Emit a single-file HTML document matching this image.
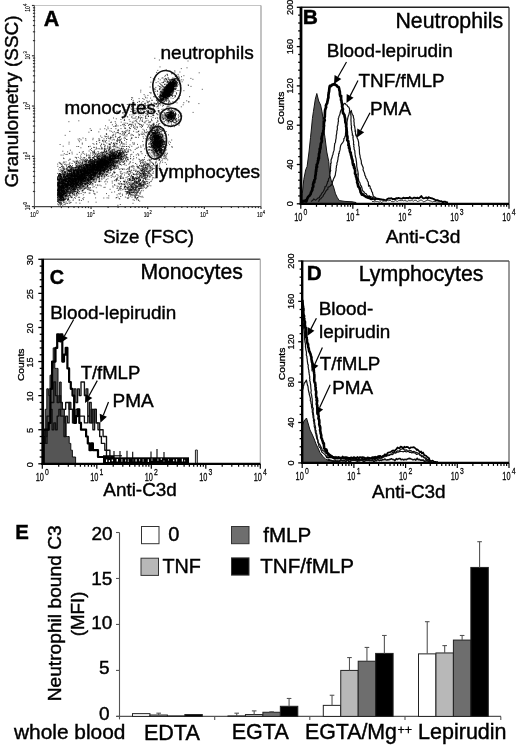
<!DOCTYPE html>
<html><head><meta charset="utf-8"><style>
html,body{margin:0;padding:0;background:#fff;}
svg{display:block;will-change:transform;}
text{font-family:"Liberation Sans", sans-serif;fill:#000;}
</style></head><body>
<svg width="520" height="752" viewBox="0 0 520 752">
<rect width="520" height="752" fill="#fff"/>
<path d="M120.9 156.4h1M73.1 184.2h1M77.9 180.1h1M113.1 159.3h1M85.5 164.9h1M77.0 177.8h1M77.5 183.0h1M70.3 173.6h1M88.5 174.5h1M93.4 173.4h1M100.8 178.8h1M100.1 165.4h1M69.9 179.9h1M62.9 176.4h1M97.0 161.3h1M94.2 173.0h1M88.9 171.6h1M101.4 166.7h1M88.4 162.4h1M86.1 160.9h1M67.8 170.2h1M61.4 199.4h1M72.5 188.7h1M102.4 157.5h1M69.9 182.5h1M82.3 176.2h1M114.1 155.3h1M69.2 189.3h1M76.6 183.2h1M94.3 174.2h1M117.2 158.1h1M101.8 165.5h1M63.3 189.2h1M94.0 168.1h1M96.1 178.0h1M81.9 176.9h1M99.7 169.0h1M59.1 186.9h1M81.4 171.3h1M78.4 177.0h1M65.0 182.0h1M80.5 171.0h1M99.8 170.5h1M103.6 175.0h1M102.0 166.3h1M104.0 163.2h1M63.8 179.7h1M83.2 165.5h1M74.3 183.9h1M85.9 177.1h1M59.6 181.2h1M71.0 181.9h1M102.0 160.3h1M81.0 185.8h1M103.4 164.7h1M66.1 187.3h1M100.5 175.4h1M58.7 171.0h1M70.4 184.7h1M95.8 169.6h1M67.4 181.1h1M119.3 155.7h1M104.5 170.3h1M94.9 164.9h1M80.7 172.0h1M89.5 182.6h1M75.6 186.3h1M59.6 191.4h1M91.2 175.6h1M95.1 169.1h1M77.7 175.9h1M109.4 160.3h1M58.1 190.9h1M80.9 173.1h1M63.6 184.2h1M103.5 165.6h1M85.9 172.7h1M94.8 172.7h1M119.0 157.1h1M82.8 181.6h1M98.3 167.6h1M104.4 162.8h1M82.6 179.2h1M95.0 173.9h1M120.4 153.3h1M63.5 179.1h1M60.1 198.2h1M113.0 156.7h1M66.3 186.9h1M84.4 171.4h1M57.0 190.8h1M103.9 171.5h1M96.6 177.9h1M105.1 156.7h1M67.4 173.1h1M59.5 163.2h1M83.2 178.9h1M73.0 192.0h1M81.0 177.9h1M123.4 152.3h1M98.7 171.4h1M77.3 171.9h1M76.8 183.0h1M90.9 179.3h1M95.6 175.7h1M94.7 173.0h1M108.0 159.2h1M96.6 166.0h1M83.8 168.9h1M90.0 183.2h1M64.2 194.9h1M86.2 173.0h1M92.7 169.5h1M74.1 181.5h1M102.8 161.0h1M108.3 164.2h1M102.0 167.7h1M80.5 179.3h1M84.2 174.8h1M62.4 167.9h1M58.3 186.8h1M66.5 173.8h1M58.1 175.5h1M104.1 176.2h1M88.7 169.0h1M97.9 166.0h1M76.6 176.4h1M86.8 167.8h1M104.4 172.4h1M97.1 157.5h1M70.0 185.5h1M57.8 183.8h1M88.4 180.2h1M112.3 163.5h1M114.4 158.6h1M105.0 155.8h1M65.9 190.1h1M95.5 174.1h1M60.7 192.1h1M58.7 193.0h1M71.2 175.8h1M73.9 181.5h1M69.9 184.6h1M95.7 166.8h1M97.4 166.0h1M64.5 178.3h1M101.7 158.7h1M60.2 195.5h1M77.2 176.9h1M92.9 166.6h1M101.7 162.2h1M100.4 168.0h1M68.0 180.5h1M95.1 164.4h1M58.9 189.9h1M113.5 159.3h1M76.7 171.1h1M81.8 184.3h1M62.4 183.7h1M103.3 170.6h1M114.1 161.1h1M77.7 177.2h1M63.7 183.3h1M114.0 166.3h1M118.0 153.5h1M68.3 179.9h1M94.8 163.9h1M101.1 164.4h1M97.2 162.1h1M62.5 186.7h1M98.1 160.0h1M80.3 179.8h1M108.2 163.2h1M67.5 184.7h1M105.2 169.9h1M76.7 192.7h1M95.7 167.4h1M80.5 171.1h1M75.3 183.5h1M87.7 171.1h1M62.9 186.7h1M84.5 178.3h1M60.5 176.5h1M104.7 167.1h1M79.6 169.8h1M78.7 169.0h1M93.3 167.1h1M75.1 189.6h1M71.2 176.6h1M80.3 179.4h1M85.9 167.5h1M63.0 190.3h1M97.9 168.7h1M80.1 184.3h1M61.3 187.8h1M64.6 184.7h1M58.9 173.5h1M65.6 186.5h1M63.5 191.3h1M75.2 180.4h1M77.8 178.8h1M70.4 185.7h1M88.9 177.1h1M79.9 170.6h1M106.5 161.9h1M63.5 188.5h1M108.4 162.6h1M109.5 156.1h1M76.6 165.2h1M60.8 189.1h1M94.5 173.0h1M113.4 166.8h1M70.2 184.7h1M71.9 174.6h1M95.1 171.0h1M109.1 160.3h1M62.1 180.8h1M64.1 174.3h1M109.5 152.1h1M100.3 161.9h1M106.5 160.2h1M111.6 159.9h1M83.8 174.5h1M102.1 165.9h1M74.3 193.5h1M109.9 160.2h1M90.9 179.1h1M80.4 171.1h1M83.6 169.9h1M90.1 160.5h1M87.6 183.1h1M95.4 169.6h1M84.7 178.6h1M118.6 163.8h1M84.4 177.0h1M70.2 193.9h1M105.5 151.3h1M69.8 191.4h1M107.4 163.3h1M113.9 155.8h1M67.4 191.3h1M61.8 186.3h1M61.3 180.9h1M61.9 171.6h1M101.0 175.4h1M80.7 159.7h1M109.7 161.0h1M73.7 191.4h1M72.8 184.9h1M57.9 183.1h1M88.7 170.1h1M78.5 178.8h1M77.5 177.2h1M104.6 156.7h1M84.3 164.9h1M62.9 194.5h1M69.2 173.0h1M80.6 168.6h1M78.5 193.9h1M61.4 179.7h1M89.1 165.6h1M66.4 189.4h1M65.5 178.4h1M89.8 170.2h1M61.3 169.1h1M102.3 161.1h1M74.4 179.4h1M93.4 169.4h1M79.8 186.6h1M93.7 172.0h1M94.0 152.9h1M89.9 161.3h1M81.3 169.7h1M111.8 157.9h1M118.5 156.0h1M69.9 186.2h1M59.5 174.1h1M74.1 185.0h1M67.0 175.7h1M85.8 158.8h1M88.7 165.7h1M74.4 170.7h1M95.8 161.1h1M63.1 193.1h1M68.8 174.0h1M89.5 172.9h1M110.6 160.9h1M105.6 160.7h1M121.1 165.1h1M101.5 157.6h1M113.7 171.2h1M74.1 172.5h1M66.2 181.3h1M67.9 184.7h1M100.8 171.3h1M80.8 180.4h1M65.1 181.3h1M91.4 167.9h1M65.4 193.0h1M100.4 174.1h1M73.8 175.6h1M115.6 163.1h1M107.2 164.6h1M102.3 165.7h1M83.5 167.2h1M81.7 167.1h1M106.1 164.5h1M110.3 147.3h1M77.9 173.9h1M104.5 165.4h1M65.0 171.8h1M99.0 175.6h1M114.2 166.2h1M107.6 161.0h1M87.6 168.7h1M83.4 171.2h1M108.3 163.6h1M97.1 177.1h1M61.4 186.7h1M96.1 168.3h1M95.8 168.6h1M89.5 175.1h1M99.7 163.0h1M92.6 163.8h1M62.5 190.6h1M93.7 158.4h1M69.6 178.0h1M68.0 179.7h1M68.9 181.1h1M84.0 164.4h1M92.9 163.8h1M113.3 157.9h1M90.4 174.5h1M99.8 165.1h1M103.8 162.5h1M99.7 161.2h1M84.5 173.9h1M88.8 155.3h1M85.5 177.5h1M111.0 164.6h1M82.6 174.7h1M86.4 166.8h1M112.6 165.6h1M89.9 166.9h1M83.3 183.6h1M81.9 173.4h1M110.5 156.4h1M86.9 171.2h1M82.8 173.6h1M118.4 158.1h1M96.5 166.0h1M94.4 165.9h1M103.2 163.8h1M98.3 168.8h1M85.5 173.3h1M70.0 185.6h1M77.9 181.4h1M77.1 179.8h1M88.1 176.5h1M80.6 176.0h1M90.4 177.8h1M83.1 177.3h1M99.2 170.8h1M119.2 154.6h1M78.5 167.7h1M73.1 176.8h1M91.0 170.7h1M105.6 164.6h1M60.2 186.5h1M81.9 185.3h1M87.7 164.3h1M64.0 171.8h1M85.0 172.4h1M113.8 155.2h1M89.5 171.4h1M112.1 162.4h1M95.2 185.0h1M78.5 168.4h1M92.1 163.6h1M69.4 181.4h1M73.8 169.5h1M109.4 157.0h1M63.3 195.2h1M114.2 157.8h1M87.3 172.2h1M63.1 193.9h1M67.9 170.6h1M102.0 165.2h1M82.2 174.8h1M74.5 181.0h1M87.1 166.4h1M92.0 167.3h1M100.6 164.8h1M72.0 185.8h1M73.9 174.5h1M79.0 181.0h1M67.4 168.0h1M61.3 189.5h1M87.7 177.0h1M109.2 156.4h1M105.9 161.0h1M69.2 182.0h1M65.8 185.9h1M81.7 183.4h1M90.9 171.6h1M102.2 163.3h1M99.6 164.8h1M110.0 161.7h1M82.1 180.3h1M74.4 181.0h1M85.4 170.0h1M89.7 169.1h1M62.8 179.4h1M84.8 168.3h1M100.4 162.8h1M63.1 180.9h1M67.4 188.7h1M64.0 176.0h1M75.8 179.0h1M70.7 186.9h1M67.9 184.9h1M92.6 177.2h1M57.9 192.3h1M85.7 167.0h1M66.9 183.4h1M72.8 175.7h1M66.8 179.5h1M97.5 161.4h1M83.7 172.3h1M85.6 173.9h1M114.7 158.8h1M74.2 197.5h1M119.6 154.6h1M103.7 164.1h1M58.3 187.0h1M102.6 162.9h1M110.5 158.7h1M70.7 181.6h1M62.7 183.9h1M79.9 181.2h1M58.8 190.9h1M97.5 162.2h1M103.4 163.9h1M97.1 168.9h1M98.5 164.9h1M78.8 175.4h1M92.0 169.3h1M58.4 192.6h1M107.9 162.3h1M104.3 160.7h1M85.5 173.1h1M112.3 165.0h1M76.9 171.7h1M62.7 190.4h1M63.9 183.0h1M79.4 203.2h1M78.8 181.1h1M87.6 172.5h1M74.9 178.2h1M117.6 150.0h1M103.3 161.3h1M89.5 183.8h1M111.6 158.2h1M72.8 180.0h1M65.5 184.3h1M102.8 159.3h1M70.7 181.9h1M75.9 181.9h1M70.3 171.3h1M63.7 183.2h1M109.1 148.5h1M58.4 175.2h1M94.5 173.4h1M61.5 195.6h1M99.3 176.5h1M57.1 178.7h1M74.7 178.5h1M109.9 158.8h1M101.5 170.6h1M78.6 179.1h1M100.8 165.6h1M89.5 174.8h1M75.0 175.9h1M103.3 169.0h1M81.6 173.3h1M109.9 165.8h1M83.6 175.5h1M57.7 189.9h1M104.5 157.7h1M65.4 173.2h1M70.9 170.6h1M90.3 173.7h1M82.2 162.2h1M79.7 185.6h1M76.3 176.1h1M72.0 183.0h1M71.2 172.6h1M67.7 183.1h1M58.8 185.5h1M91.8 177.1h1M73.2 186.2h1M110.5 164.6h1M73.5 176.6h1M99.4 172.8h1M91.6 169.7h1M60.8 187.3h1M65.4 187.3h1M119.7 156.3h1M86.2 165.1h1M61.9 190.8h1M94.6 159.9h1M92.7 169.1h1M82.0 175.7h1M77.0 184.6h1M113.7 157.7h1M91.2 175.4h1M86.1 168.7h1M76.3 173.6h1M58.3 188.3h1M86.1 179.4h1M62.2 176.2h1M59.2 183.0h1M95.1 165.5h1M96.5 166.1h1M101.0 162.8h1M81.4 182.5h1M98.1 170.6h1M109.7 160.6h1M99.7 170.4h1M115.2 162.2h1M93.6 165.6h1M67.3 177.9h1M98.9 170.0h1M95.8 180.3h1M60.0 169.9h1M98.6 163.1h1M67.2 188.8h1M92.7 165.0h1M86.5 178.2h1M75.2 180.3h1M78.8 169.0h1M93.3 166.6h1M105.6 164.5h1M93.6 164.1h1M64.6 188.8h1M63.3 187.4h1M72.3 178.3h1M68.8 185.0h1M120.5 153.3h1M58.9 189.1h1M76.5 171.7h1M73.1 189.9h1M88.5 170.2h1M123.9 157.7h1M66.8 199.5h1M72.1 191.8h1M90.3 170.7h1M93.4 170.0h1M86.7 172.5h1M66.2 185.9h1M78.5 171.8h1M105.9 153.9h1M64.4 186.9h1M77.7 177.8h1M114.7 165.0h1M61.8 200.1h1M115.9 151.4h1M64.0 178.1h1M90.0 175.6h1M105.6 168.8h1M92.2 170.5h1M67.2 183.5h1M59.5 173.7h1M82.0 190.5h1M72.4 184.3h1M65.5 186.5h1M86.6 167.5h1M83.2 180.1h1M100.9 173.1h1M75.3 178.5h1M57.9 189.1h1M80.8 180.1h1M76.4 184.9h1M86.6 178.1h1M108.1 157.2h1M82.1 169.4h1M76.1 174.7h1M65.8 165.4h1M61.1 176.6h1M86.3 171.7h1M97.3 163.5h1M63.1 179.1h1M108.5 165.5h1M90.4 172.8h1M67.1 189.2h1M105.2 162.1h1M63.1 182.2h1M59.8 180.5h1M62.5 187.4h1M74.2 167.6h1M122.7 156.0h1M101.3 169.5h1M59.7 186.6h1M93.7 162.7h1M89.7 174.5h1M94.3 164.6h1M108.3 160.7h1M102.2 159.6h1M71.8 193.8h1M88.7 180.9h1M110.3 156.3h1M71.0 173.1h1M87.8 171.8h1M83.7 178.3h1M87.7 180.0h1M82.1 174.8h1M107.5 155.8h1M89.9 172.7h1M88.2 173.5h1M78.9 166.8h1M85.8 171.6h1M64.3 182.4h1M110.2 161.3h1M98.4 172.3h1M105.9 167.7h1M111.6 155.5h1M70.0 177.5h1M74.0 184.2h1M74.3 177.1h1M76.1 176.0h1M114.5 168.3h1M75.5 162.4h1M76.7 173.7h1M99.4 161.6h1M68.4 182.0h1M68.0 195.3h1M109.6 159.8h1M75.7 176.6h1M101.5 165.7h1M85.3 175.8h1M102.7 178.1h1M71.5 176.1h1M79.7 175.1h1M99.1 165.7h1M93.1 157.9h1M68.0 187.0h1M106.2 162.1h1M124.9 151.3h1M70.2 182.6h1M70.9 175.0h1M72.7 187.8h1M74.2 175.4h1M95.6 159.9h1M60.6 192.7h1M92.5 168.8h1M99.0 166.9h1M102.7 156.2h1M75.7 169.6h1M76.1 171.7h1M57.1 187.3h1M98.1 174.4h1M65.3 195.7h1M70.1 182.4h1M78.9 176.2h1M66.1 198.0h1M57.4 188.7h1M89.1 177.5h1M68.5 178.9h1M106.2 161.8h1M70.8 176.3h1M102.0 166.5h1M59.2 181.1h1M77.8 176.7h1M58.4 190.9h1M77.0 192.5h1M64.4 185.1h1M102.4 167.8h1M61.2 183.6h1M68.9 188.4h1M121.5 156.5h1M80.7 179.1h1M78.0 174.5h1M60.6 184.9h1M103.6 162.6h1M92.4 164.1h1M100.3 166.5h1M59.0 179.5h1M71.3 174.5h1M94.2 161.1h1M116.4 161.9h1M100.3 162.5h1M90.6 165.6h1M58.7 193.8h1M58.5 184.4h1M65.4 186.4h1M104.9 162.1h1M88.7 173.8h1M68.4 183.7h1M76.9 188.0h1M86.8 178.9h1M73.6 170.0h1M93.8 174.1h1M87.4 173.0h1M73.2 188.9h1M108.7 165.9h1M93.8 174.6h1M123.5 161.5h1M81.0 182.9h1M73.7 175.6h1M88.5 164.3h1M64.6 190.7h1M96.3 165.7h1M57.8 185.2h1M90.4 166.7h1M94.8 176.2h1M87.4 174.3h1M63.4 183.4h1M68.7 188.7h1M83.5 171.8h1M117.7 161.5h1M104.8 173.9h1M96.5 166.8h1M69.8 180.5h1M116.5 162.0h1M65.4 175.1h1M86.7 166.6h1M90.4 161.6h1M59.1 187.3h1M86.9 174.4h1M102.9 164.0h1M59.0 187.1h1M75.9 184.6h1M59.8 195.3h1M97.1 174.2h1M82.3 174.1h1M91.6 170.2h1M80.5 185.7h1M68.8 185.1h1M94.0 176.5h1M87.6 169.4h1M75.9 178.1h1M74.1 175.1h1M79.2 176.5h1M99.7 168.1h1M121.5 152.4h1M65.1 199.1h1M90.9 162.1h1M84.8 179.1h1M77.5 170.6h1M61.0 188.6h1M71.6 175.5h1M100.4 165.8h1M62.3 186.1h1M101.9 160.5h1M122.8 148.5h1M112.2 155.9h1M68.0 182.7h1M72.1 186.1h1M103.7 172.2h1M88.8 161.8h1M70.9 184.3h1M91.6 167.4h1M76.1 178.3h1M65.1 186.5h1M66.7 189.1h1M66.5 186.3h1M78.5 187.6h1M65.6 185.9h1M68.7 182.2h1M99.9 171.9h1M82.8 167.8h1M83.8 168.5h1M74.1 189.5h1M102.8 163.1h1M71.1 169.1h1M86.0 178.0h1M91.6 177.2h1M70.7 175.8h1M73.9 170.9h1M83.5 174.0h1M92.5 171.6h1M102.6 161.2h1M59.0 180.5h1M66.5 187.1h1M58.8 191.5h1M72.5 169.7h1M65.7 181.4h1M68.6 177.8h1M61.9 187.3h1M90.5 173.6h1M102.1 174.4h1M79.0 179.0h1M65.7 190.5h1M110.5 153.0h1M94.2 164.8h1M68.1 190.1h1M90.9 162.2h1M103.6 170.7h1M87.4 175.5h1M117.9 156.6h1M83.0 173.8h1M89.3 164.6h1M59.9 178.8h1M94.7 165.5h1M109.8 158.4h1M77.0 186.0h1M105.2 157.8h1M84.1 170.1h1M80.7 165.1h1M68.2 183.5h1M101.4 164.8h1M95.0 174.4h1M93.6 180.2h1M90.0 174.0h1M73.3 174.0h1M78.5 178.4h1M106.0 163.7h1M84.5 173.4h1M99.6 167.5h1M90.8 169.9h1M57.6 185.7h1M88.9 157.1h1M70.2 185.6h1M87.2 185.7h1M76.1 175.8h1M97.3 163.6h1M116.4 161.0h1M75.3 170.1h1M96.4 167.6h1M80.5 172.3h1M63.3 184.4h1M100.5 160.9h1M74.7 175.1h1M112.7 161.8h1M73.5 173.7h1M118.9 153.1h1M58.8 182.1h1M65.1 187.7h1M108.7 159.2h1M85.5 168.1h1M66.6 185.6h1M87.5 160.7h1M71.3 168.2h1M95.5 169.5h1M65.0 198.1h1M96.9 164.5h1M89.2 173.3h1M108.2 154.8h1M62.4 186.3h1M97.6 167.8h1M113.2 161.2h1M110.8 169.2h1M66.5 176.6h1M78.5 187.1h1M75.6 171.4h1M99.6 170.0h1M103.4 170.7h1M126.2 160.5h1M64.2 172.9h1M83.4 179.6h1M93.2 165.2h1M89.6 164.9h1M109.0 158.0h1M100.6 160.6h1M78.1 182.2h1M61.9 187.1h1M90.2 174.8h1M120.4 158.4h1M97.5 164.8h1M61.0 191.5h1M89.9 178.2h1M87.7 183.7h1M97.6 167.7h1M97.0 165.7h1M77.0 171.7h1M83.6 171.8h1M99.5 165.9h1M106.8 163.2h1M85.9 165.1h1M113.4 156.7h1M89.7 169.9h1M73.8 175.5h1M62.4 181.1h1M115.9 158.7h1M73.9 173.0h1M117.3 158.4h1M96.9 161.5h1M92.4 170.8h1M57.9 179.6h1M114.3 163.4h1M62.1 191.3h1M80.6 184.7h1M61.7 179.7h1M86.6 165.0h1M60.0 177.1h1M90.6 169.2h1M75.9 185.6h1M86.4 177.1h1M102.9 167.5h1M119.4 150.3h1M69.9 189.3h1M91.4 174.4h1M89.4 168.0h1M90.2 166.2h1M83.6 173.5h1M78.4 187.7h1M95.8 169.0h1M78.0 176.8h1M125.0 158.8h1M65.9 195.3h1M71.1 183.6h1M63.0 189.8h1M109.2 166.8h1M74.3 174.4h1M74.7 181.7h1M80.6 169.8h1M60.9 190.1h1M108.3 166.7h1M110.7 169.0h1M83.0 179.5h1M65.7 192.3h1M107.4 160.8h1M60.4 175.6h1M81.2 171.6h1M96.5 169.7h1M91.5 166.8h1M80.9 188.6h1M123.3 158.3h1M80.9 174.5h1M83.4 185.7h1M66.2 188.3h1M73.3 191.4h1M100.2 169.8h1M103.3 162.7h1M108.3 161.3h1M61.8 194.8h1M67.6 197.2h1M91.6 170.8h1M59.6 189.4h1M89.5 166.1h1M102.3 163.4h1M60.0 190.7h1M68.6 173.7h1M62.6 182.3h1M91.1 164.1h1M59.3 188.8h1M70.1 187.9h1M85.6 175.4h1M94.1 167.2h1M106.5 157.4h1M75.9 168.0h1M60.5 186.7h1M109.5 168.2h1M67.6 182.4h1M87.3 169.7h1M90.3 164.4h1M102.0 170.3h1M106.4 165.8h1M79.7 167.2h1M104.4 157.2h1M92.2 177.8h1M82.8 169.4h1M81.4 175.2h1M88.4 165.8h1M76.3 180.4h1M70.4 176.0h1M64.0 180.4h1M84.2 167.3h1M81.6 188.1h1M86.9 189.4h1M100.5 166.6h1M82.9 179.1h1M96.6 170.7h1M87.2 172.5h1M102.0 164.1h1M64.0 182.2h1M105.0 167.1h1M98.5 160.1h1M76.4 172.7h1M76.2 183.1h1M88.6 163.6h1M107.9 169.7h1M68.8 180.3h1M60.1 188.3h1M82.0 184.0h1M61.0 186.0h1M103.4 164.6h1M95.5 164.8h1M101.0 167.9h1M89.2 175.6h1M68.8 176.1h1M109.0 164.1h1M91.1 176.2h1M82.7 177.9h1M59.1 181.8h1M96.6 172.8h1M103.2 171.2h1M118.6 153.7h1M72.0 175.7h1M82.6 175.0h1M82.0 183.8h1M93.4 176.2h1M95.2 172.2h1M104.1 160.3h1M103.0 168.1h1M104.2 163.4h1M80.2 169.7h1M75.3 167.2h1M101.4 170.4h1M84.3 164.2h1M98.8 173.3h1M63.6 202.7h1M91.3 170.5h1M68.6 176.5h1M81.4 171.5h1M58.2 182.7h1M103.5 165.8h1M83.4 180.9h1M60.3 181.1h1M99.3 164.3h1M62.3 180.9h1M67.4 191.5h1M83.9 180.5h1M88.9 166.6h1M62.6 183.2h1M78.6 178.1h1M70.0 169.5h1M105.7 160.0h1M81.7 176.3h1M109.7 154.0h1M65.9 185.4h1M97.2 167.4h1M85.0 170.2h1M78.8 183.9h1M61.9 179.0h1M77.4 180.5h1M98.9 164.9h1M120.2 159.6h1M100.1 161.5h1M72.8 184.3h1M83.5 178.4h1M102.8 170.3h1M125.0 159.1h1M72.7 170.0h1M83.5 174.0h1M107.6 166.5h1M90.7 178.9h1M71.1 178.9h1M103.4 165.1h1M106.7 168.9h1M89.2 172.6h1M68.3 181.6h1M80.0 166.0h1M66.7 178.3h1M64.7 192.0h1M85.0 164.9h1M72.9 182.1h1M114.8 158.8h1M116.0 157.2h1M103.7 167.9h1M66.4 178.2h1M117.3 162.7h1M104.7 161.0h1M79.5 183.4h1M102.6 161.3h1M93.2 170.8h1M78.7 174.8h1M83.3 185.6h1M63.2 177.6h1M89.2 167.7h1M85.7 182.7h1M87.7 177.2h1M104.4 163.1h1M103.9 162.3h1M67.1 174.1h1M91.2 168.7h1M62.9 188.1h1M86.7 180.4h1M64.2 191.8h1M112.9 165.8h1M92.9 171.7h1M111.6 156.3h1M86.2 170.9h1M84.8 183.7h1M92.0 170.6h1M73.3 189.9h1M73.0 169.4h1M75.8 175.2h1M77.2 172.5h1M72.4 182.2h1M62.7 179.7h1M114.6 152.1h1M101.8 164.3h1M80.2 162.0h1M67.6 178.7h1M64.1 188.0h1M59.0 178.8h1M80.2 175.8h1M82.3 169.5h1M93.1 167.3h1M107.8 162.7h1M67.1 186.6h1M96.2 170.1h1M64.3 179.1h1M62.8 197.4h1M124.1 154.3h1M77.8 173.2h1M72.8 189.8h1M61.2 183.3h1M93.4 181.1h1M58.7 194.4h1M106.7 161.6h1M72.3 177.1h1M110.1 156.4h1M88.6 167.1h1M93.3 167.7h1M91.6 178.4h1M104.5 164.3h1M112.8 158.6h1M61.4 189.5h1M90.2 169.1h1M68.4 173.7h1M57.8 176.9h1M73.5 190.1h1M72.3 178.5h1M127.5 157.9h1M113.0 168.2h1M106.4 163.8h1M80.1 181.5h1M82.5 172.8h1M86.7 172.0h1M76.6 178.8h1M85.7 173.4h1M65.4 195.9h1M74.9 178.5h1M92.1 175.4h1M104.4 164.1h1M103.3 167.4h1M111.5 168.9h1M57.8 176.4h1M71.8 189.4h1M75.8 174.5h1M76.1 179.9h1M109.2 159.2h1M103.6 161.4h1M69.1 163.9h1M103.2 176.0h1M82.8 180.7h1M80.2 174.8h1M96.9 157.4h1M81.7 180.0h1M73.7 191.4h1M59.7 174.3h1M99.2 163.4h1M127.4 152.3h1M59.9 186.6h1M84.7 181.3h1M100.9 160.1h1M57.8 183.2h1M77.6 161.7h1M103.9 169.9h1M106.4 165.7h1M86.7 170.1h1M63.3 172.1h1M91.2 175.8h1M90.4 162.5h1M66.5 169.7h1M66.0 176.8h1M66.3 175.6h1M88.1 179.1h1M80.4 181.0h1M81.6 176.0h1M62.4 185.3h1M111.1 153.5h1M94.8 170.8h1M84.4 168.0h1M72.9 176.4h1M95.2 170.2h1M68.5 176.0h1M112.1 152.7h1M81.3 182.6h1M73.0 171.1h1M100.1 159.3h1M111.5 156.1h1M90.2 170.0h1M80.1 156.0h1M72.7 176.6h1M93.5 177.8h1M82.7 182.9h1M112.5 163.4h1M115.2 157.2h1M65.9 185.4h1M65.2 179.9h1M78.3 166.1h1M89.6 173.4h1M110.3 165.7h1M104.8 164.7h1M74.5 178.9h1M84.5 179.7h1M78.3 185.1h1M59.4 183.8h1M72.8 167.6h1M79.9 179.7h1M109.5 165.2h1M72.4 182.0h1M118.4 159.2h1M94.4 153.4h1M101.5 179.2h1M73.5 185.4h1M118.2 155.1h1M89.3 164.2h1M61.7 173.9h1M80.9 200.5h1M81.6 173.2h1M81.0 180.5h1M57.2 183.0h1M83.6 172.2h1M89.3 175.5h1M73.1 173.2h1M82.7 174.3h1M78.5 175.6h1M83.7 177.5h1M101.9 169.4h1M90.6 169.5h1M73.7 190.1h1M91.0 167.5h1M87.3 169.9h1M107.0 162.4h1M109.1 159.5h1M109.0 164.9h1M57.3 166.3h1M101.9 155.3h1M66.9 167.4h1M77.9 187.5h1M66.4 189.9h1M81.9 170.6h1M57.8 191.2h1M98.7 156.6h1M108.7 159.5h1M114.3 165.4h1M66.5 188.5h1M106.5 174.1h1M72.6 188.8h1M74.8 179.8h1M89.4 173.3h1M68.3 184.4h1M96.1 172.4h1M83.8 183.4h1M102.7 164.6h1M94.5 170.9h1M104.6 162.7h1M73.8 181.7h1M104.6 159.0h1M109.6 165.8h1M62.4 191.4h1M97.7 168.8h1M74.8 179.0h1M84.8 169.5h1M90.2 165.1h1M89.8 164.3h1M70.6 175.5h1M77.0 184.6h1M82.6 177.8h1M83.0 165.5h1M91.4 178.9h1M74.9 191.6h1M58.9 194.7h1M82.6 190.0h1M92.4 165.7h1M82.3 178.2h1M75.6 195.6h1M86.6 175.8h1M83.4 177.5h1M68.4 185.5h1M101.6 161.3h1M104.0 163.4h1M70.5 178.4h1M89.9 165.1h1M85.4 179.0h1M91.3 179.2h1M116.7 158.3h1M71.4 173.3h1M78.4 182.8h1M70.9 179.5h1M57.7 186.4h1M82.5 168.3h1M102.9 165.8h1M67.0 185.2h1M72.0 187.0h1M104.2 158.8h1M66.9 183.5h1M65.4 173.8h1M74.4 181.4h1M62.0 186.4h1M96.8 165.6h1M93.7 175.0h1M86.7 165.2h1M92.9 179.7h1M92.3 172.7h1M92.1 173.9h1M88.9 173.8h1M82.7 170.7h1M65.1 180.4h1M79.5 183.8h1M74.4 179.7h1M74.2 182.2h1M111.3 158.3h1M66.3 190.8h1M72.2 185.9h1M90.2 163.5h1M83.6 188.6h1M75.9 186.7h1M84.7 179.9h1M92.5 172.2h1M86.3 173.1h1M90.3 176.8h1M92.4 187.2h1M72.3 180.3h1M70.0 181.9h1M103.4 164.7h1M100.3 171.5h1M71.8 172.4h1M83.8 171.9h1M97.7 165.5h1M65.1 192.6h1M66.4 192.9h1M84.4 175.8h1M75.4 187.1h1M58.0 189.5h1M88.3 173.0h1M75.6 171.3h1M71.4 184.7h1M88.6 165.4h1M60.9 187.2h1M104.8 162.7h1M83.1 177.6h1M115.1 155.3h1M111.5 156.3h1M82.3 183.8h1M99.5 164.7h1M83.5 181.6h1M77.9 171.7h1M60.7 185.1h1M102.6 162.7h1M69.0 175.3h1M98.0 171.1h1M73.6 170.5h1M80.6 177.8h1M62.8 169.7h1M60.6 192.5h1M80.1 176.7h1M74.4 187.8h1M93.6 182.0h1M76.6 178.4h1M57.9 178.1h1M121.6 152.3h1M65.7 184.6h1M98.2 167.0h1M97.3 171.9h1M106.5 165.0h1M80.2 183.2h1M81.1 171.3h1M73.0 181.2h1M73.3 172.7h1M67.3 181.9h1M73.6 161.4h1M105.2 162.5h1M90.8 171.0h1M74.1 176.3h1M79.3 174.0h1M75.0 167.4h1M95.5 164.4h1M74.9 174.9h1M114.2 159.3h1M64.8 188.0h1M112.7 156.9h1M106.4 161.6h1M76.3 180.9h1M90.7 165.3h1M73.7 187.2h1M67.8 199.0h1M87.9 174.6h1M73.7 181.3h1M79.7 184.7h1M122.3 159.5h1M75.4 169.6h1M89.5 173.4h1M79.0 172.0h1M87.9 169.4h1M83.7 176.2h1M110.6 162.8h1M100.9 163.7h1M76.7 172.3h1M93.2 168.2h1M96.6 161.7h1M98.3 177.0h1M58.1 175.9h1M59.8 191.9h1M93.9 169.6h1M64.2 184.8h1M83.7 167.7h1M105.8 160.1h1M93.3 167.3h1M114.3 157.0h1M105.6 163.3h1M73.3 176.7h1M112.9 161.0h1M82.8 179.7h1M83.4 171.0h1M81.3 180.6h1M70.2 177.5h1M80.4 179.3h1M66.5 192.1h1M85.2 171.5h1M91.9 159.4h1M77.9 182.8h1M83.9 180.8h1M86.3 166.0h1M98.0 165.9h1M86.9 175.5h1M89.7 157.3h1M76.7 183.5h1M94.5 172.9h1M106.7 166.4h1M66.1 195.3h1M88.6 165.3h1M75.6 185.3h1M114.8 169.0h1M92.4 167.4h1M103.1 167.8h1M97.0 163.1h1M78.2 165.1h1M97.2 168.8h1M95.7 168.8h1M119.4 152.2h1M115.5 158.5h1M110.4 164.7h1M63.1 193.1h1M111.7 161.4h1M85.4 165.5h1M108.9 159.3h1M69.9 165.6h1M86.1 166.2h1M58.0 189.0h1M77.6 181.1h1M90.3 170.4h1M74.5 178.9h1M66.8 168.9h1M73.2 170.7h1M92.3 162.8h1M101.1 161.7h1M71.3 176.3h1M106.0 174.3h1M85.7 179.6h1M109.2 155.6h1M88.0 167.7h1M62.4 181.1h1M65.1 179.4h1M109.3 157.9h1M71.2 166.5h1M100.2 172.0h1M92.7 173.4h1M67.5 187.4h1M65.7 184.3h1M75.1 181.8h1M112.3 157.2h1M86.3 160.6h1M81.9 175.8h1M87.3 172.3h1M63.6 174.7h1M85.2 159.5h1M75.0 186.8h1M63.4 176.9h1M81.9 173.5h1M57.2 182.4h1M93.4 179.3h1M102.2 156.4h1M104.5 168.7h1M95.1 154.0h1M89.6 176.7h1M111.9 156.7h1M68.9 165.9h1M93.2 169.2h1M98.2 165.9h1M87.6 162.1h1M78.5 179.1h1M73.6 182.7h1M63.3 174.1h1M71.3 175.1h1M76.9 178.3h1M95.3 164.7h1M109.0 155.6h1M86.4 181.6h1M69.2 177.7h1M67.2 191.1h1M62.3 191.9h1M69.5 176.2h1M85.9 161.4h1M96.3 168.4h1M94.4 172.4h1M107.8 167.4h1M80.4 178.3h1M63.0 188.3h1M67.5 177.8h1M99.3 161.7h1M85.7 180.4h1M94.9 160.4h1M95.3 169.6h1M101.3 167.2h1M99.9 155.8h1M65.4 181.4h1M100.1 168.5h1M85.4 184.3h1M65.7 196.4h1M63.4 181.9h1M88.9 169.2h1M72.5 176.5h1M64.5 185.9h1M58.8 194.2h1M74.6 171.6h1M91.4 168.8h1M68.3 177.8h1M67.6 176.7h1M82.7 171.2h1M115.9 165.9h1M63.6 198.8h1M99.1 174.5h1M76.4 166.7h1M72.8 182.0h1M75.6 196.3h1M79.5 179.1h1M115.4 154.0h1M57.1 193.0h1M111.5 158.1h1M60.8 188.2h1M104.8 165.4h1M77.1 176.3h1M117.4 156.1h1M67.0 175.2h1M85.8 172.6h1M65.5 189.2h1M102.0 164.9h1M60.6 184.8h1M63.4 173.8h1M112.9 164.2h1M88.3 164.5h1M104.5 166.7h1M98.1 164.4h1M71.7 186.3h1M107.9 166.7h1M62.3 182.9h1M65.5 161.9h1M82.0 161.9h1M60.0 178.9h1M59.6 179.5h1M102.9 165.5h1M113.0 168.6h1M83.7 178.5h1M82.8 173.6h1M74.1 189.1h1M92.3 168.3h1M99.1 170.9h1M59.1 190.1h1M117.4 147.8h1M82.8 181.1h1M106.2 171.8h1M74.9 176.3h1M101.9 168.7h1M119.6 157.4h1M61.8 183.5h1M88.8 169.0h1M59.9 194.8h1M110.2 156.9h1M107.0 166.3h1M67.1 190.1h1M97.0 176.5h1M103.7 160.4h1M75.5 169.3h1M94.3 175.2h1M97.6 158.3h1M90.3 168.1h1M59.0 185.4h1M69.3 195.1h1M116.8 156.8h1M106.3 156.0h1M96.8 167.0h1M100.0 173.2h1M89.0 160.5h1M75.2 169.6h1M93.6 175.2h1M89.4 171.9h1M100.7 159.6h1M70.0 179.8h1M57.6 178.8h1M66.2 179.1h1M110.1 167.7h1M110.1 161.8h1M90.1 177.8h1M62.3 185.2h1M87.3 168.7h1M118.2 157.3h1M89.6 165.4h1M101.7 166.7h1M81.3 173.4h1M64.9 181.8h1M99.8 164.1h1M87.7 166.1h1M83.9 183.3h1M69.2 170.9h1M78.6 178.3h1M93.7 161.5h1M76.5 184.4h1M81.5 173.8h1M90.2 171.9h1M108.1 163.6h1M109.2 162.5h1M80.1 177.3h1M83.9 176.4h1M103.6 165.5h1M114.4 155.7h1M93.7 167.1h1M63.2 183.1h1M111.6 155.9h1M63.5 180.6h1M76.5 187.5h1M93.2 160.8h1M113.8 166.6h1M64.1 180.5h1M81.8 179.4h1M109.6 160.4h1M89.7 169.8h1M82.8 178.3h1M67.5 196.1h1M60.9 185.3h1M100.6 165.0h1M79.9 172.5h1M82.4 189.0h1M125.3 157.2h1M69.7 190.1h1M117.5 156.4h1M102.0 154.6h1M107.0 164.3h1M89.5 160.5h1M90.2 166.9h1M84.3 180.3h1M64.8 179.8h1M109.6 157.1h1M68.7 167.0h1M70.5 186.5h1M70.5 184.2h1M95.4 165.1h1M76.3 180.6h1M67.7 171.0h1M59.1 179.9h1M79.1 177.9h1M112.9 163.0h1M86.8 164.9h1M97.6 164.0h1M62.2 194.4h1M74.5 174.8h1M121.2 155.4h1M68.6 185.4h1M109.3 157.9h1M87.7 172.1h1M61.7 172.3h1M88.4 168.1h1M83.5 174.5h1M61.6 190.9h1M122.7 159.2h1M125.7 149.8h1M93.2 171.9h1M70.9 180.0h1M92.5 164.8h1M103.8 159.4h1M89.8 170.5h1M80.5 175.8h1M70.7 175.6h1M84.4 192.8h1M58.4 187.2h1M75.4 183.2h1M113.6 172.5h1M107.8 150.6h1M83.4 172.0h1M98.6 167.3h1M74.5 187.6h1M103.3 163.4h1M104.2 158.1h1M94.6 177.9h1M98.1 170.3h1M103.9 162.0h1M74.1 177.4h1M123.0 152.2h1M102.1 165.2h1M70.9 168.9h1M63.0 186.1h1M91.9 166.1h1M64.5 188.0h1M69.7 183.9h1M86.4 181.5h1M71.1 186.3h1M57.9 180.6h1M76.4 170.8h1M115.8 154.0h1M105.5 164.3h1M60.8 196.4h1M101.2 160.0h1M107.4 157.6h1M110.3 162.6h1M60.0 186.2h1M60.8 185.7h1M110.8 159.1h1M98.6 164.4h1M79.1 188.8h1M58.9 195.1h1M92.8 167.3h1M65.5 193.5h1M84.9 186.1h1M63.3 188.5h1M91.5 171.8h1M60.5 182.4h1M111.8 159.8h1M96.1 168.8h1M75.8 187.6h1M102.4 159.2h1M74.7 167.7h1M116.1 154.7h1M83.5 176.6h1M70.7 167.0h1M58.7 185.6h1M106.6 157.9h1M72.8 172.0h1M86.0 173.6h1M103.7 169.8h1M71.8 181.9h1M61.9 184.2h1M72.9 184.4h1M91.1 170.1h1M76.9 173.3h1M74.6 185.1h1M92.8 171.8h1M99.8 159.9h1M101.8 154.1h1M71.9 175.2h1M61.2 187.4h1M90.8 175.0h1M65.4 179.3h1M118.5 147.9h1M99.3 163.2h1M85.2 173.8h1M62.9 180.4h1M93.3 168.3h1M64.5 176.8h1M113.2 154.2h1M94.1 170.0h1M72.2 169.2h1M102.2 164.2h1M69.5 190.3h1M98.3 163.0h1M58.0 183.5h1M104.1 156.5h1M78.1 172.9h1M108.9 154.4h1M115.1 156.3h1M98.3 163.1h1M114.2 152.6h1M102.7 164.0h1M61.2 193.6h1M76.5 183.1h1M82.3 172.7h1M73.0 179.2h1M64.4 176.1h1M70.0 185.8h1M111.6 162.8h1M75.0 188.0h1M69.1 170.7h1M113.4 165.8h1M88.3 173.6h1M69.5 192.9h1M74.3 178.7h1M63.8 193.8h1M106.1 161.8h1M79.2 169.1h1M107.7 162.7h1M74.7 174.9h1M64.0 183.7h1M57.9 191.4h1M78.4 181.8h1M120.7 157.1h1M111.1 164.1h1M64.1 172.6h1M83.6 181.4h1M84.8 167.9h1M111.3 159.6h1M121.9 151.9h1M72.9 171.4h1M85.4 178.5h1M85.9 166.2h1M86.9 168.6h1M79.1 186.2h1M101.7 155.5h1M68.8 188.6h1M70.7 177.5h1M99.9 169.6h1M89.0 170.8h1M67.8 178.5h1M99.6 169.2h1M118.8 152.2h1M83.1 170.4h1M74.4 180.1h1M109.8 154.7h1M79.3 166.7h1M70.7 169.0h1M74.9 184.9h1M86.7 184.8h1M120.5 159.6h1M80.7 171.1h1M85.9 169.3h1M93.5 162.8h1M70.8 180.4h1M77.2 184.4h1M73.9 178.3h1M73.5 178.9h1M84.2 154.2h1M63.0 186.9h1M109.1 154.6h1M66.6 180.8h1M87.9 173.7h1M101.7 164.9h1M67.1 188.1h1M88.6 181.0h1M90.2 157.2h1M91.0 160.9h1M115.1 165.2h1M65.1 187.3h1M93.0 164.7h1M103.5 162.0h1M66.4 182.9h1M91.8 176.0h1M105.0 160.9h1M112.7 158.5h1M110.7 153.3h1M75.0 189.1h1M97.2 169.3h1M115.8 154.8h1M80.7 166.8h1M118.8 155.3h1M84.8 179.1h1M98.9 179.6h1M73.3 193.7h1M109.2 158.6h1M65.2 180.5h1M103.2 158.6h1M59.0 190.7h1M87.7 167.1h1M76.1 182.0h1M58.1 190.1h1M80.6 178.4h1M89.7 164.9h1M72.5 188.4h1M98.5 165.0h1M80.4 167.8h1M103.2 163.5h1M107.7 162.2h1M73.3 179.9h1M62.6 192.7h1M104.3 169.7h1M104.2 176.0h1M85.1 172.7h1M84.1 182.0h1M83.9 158.1h1M76.7 191.4h1M85.9 172.7h1M95.0 175.8h1M85.0 176.9h1M77.4 181.8h1M99.6 162.3h1M112.8 156.0h1M92.8 153.1h1M100.8 168.2h1M73.0 178.6h1M81.6 173.7h1M71.9 189.5h1M99.6 167.0h1M110.6 151.0h1M98.4 167.2h1M71.7 178.3h1M89.7 177.1h1M69.1 178.2h1M104.2 156.9h1M73.3 178.0h1M110.4 169.5h1M83.4 168.7h1M112.5 165.3h1M107.9 164.5h1M106.0 175.4h1M60.7 189.9h1M116.7 151.9h1M100.1 164.2h1M83.8 168.4h1M112.3 173.9h1M74.3 183.1h1M98.1 153.7h1M107.1 166.0h1M95.2 170.7h1M70.8 173.6h1M68.9 181.4h1M75.6 191.1h1M58.6 183.2h1M70.6 175.6h1M95.0 173.9h1M96.0 164.0h1M116.7 152.0h1M116.7 156.0h1M120.7 158.2h1M88.0 172.8h1M64.0 181.6h1M75.9 188.7h1M103.3 171.5h1M69.4 170.2h1M112.0 153.7h1M66.7 176.3h1M84.9 172.1h1M71.4 181.9h1M99.7 165.2h1M100.9 165.4h1M79.0 179.7h1M63.7 175.0h1M106.0 151.5h1M108.9 162.3h1M98.6 173.5h1M68.5 183.6h1M98.2 164.1h1M77.4 181.4h1M91.4 168.1h1M84.9 165.3h1M94.9 166.0h1M115.3 161.1h1M86.0 175.0h1M112.5 162.2h1M93.8 165.9h1M121.3 156.7h1M94.3 177.3h1M61.6 183.3h1M73.3 176.2h1M105.5 169.3h1M82.8 175.3h1M82.5 167.3h1M83.0 171.8h1M72.9 189.6h1M62.9 188.0h1M64.7 199.3h1M105.2 166.2h1M79.2 178.3h1M90.9 177.0h1M99.1 162.7h1M63.3 193.5h1M82.6 174.2h1M88.0 170.4h1M69.6 184.6h1M57.8 184.2h1M81.8 167.9h1M89.6 165.7h1M123.9 155.2h1M71.8 182.7h1M84.0 174.6h1M75.1 184.0h1M69.3 175.4h1M91.6 167.6h1M93.1 179.4h1M62.5 195.8h1M65.2 182.0h1M100.2 168.5h1M112.2 160.3h1M89.2 169.8h1M101.9 165.2h1M59.6 194.9h1M70.8 176.1h1M76.3 171.7h1M92.9 174.7h1M70.0 178.7h1M70.2 180.1h1M77.1 174.9h1M82.2 163.7h1M87.2 171.8h1M93.7 166.3h1M86.0 164.7h1M75.1 180.5h1M62.8 199.4h1M107.2 159.1h1M93.0 177.6h1M105.4 160.5h1M80.4 179.2h1M81.2 173.9h1M94.4 173.1h1M79.2 177.6h1M60.0 183.8h1M80.6 182.7h1M58.9 175.9h1M96.9 163.9h1M102.7 174.2h1M66.8 185.1h1M84.7 174.3h1M74.7 180.0h1M57.1 190.5h1M87.5 170.2h1M65.9 186.4h1M73.0 178.9h1M67.8 180.3h1M94.3 171.5h1M98.9 169.9h1M80.8 178.2h1M99.8 171.2h1M70.0 196.0h1M96.9 177.6h1M60.5 187.5h1M59.6 178.7h1M67.5 191.7h1M77.3 178.6h1M79.7 181.8h1M105.5 161.0h1M63.4 191.9h1M59.6 178.6h1M103.1 165.0h1M100.9 158.1h1M110.9 170.3h1M106.8 160.8h1M98.6 155.4h1M98.2 174.1h1M110.9 164.8h1M65.5 194.9h1M67.1 175.1h1M109.7 162.5h1M73.1 189.8h1M93.2 168.4h1M75.1 181.8h1M85.8 172.0h1M86.6 171.0h1M79.0 186.7h1M101.1 161.1h1M87.1 172.9h1M119.2 158.2h1M105.5 163.2h1M105.2 167.6h1M90.3 159.5h1M109.0 166.9h1M57.9 179.1h1M89.0 170.4h1M98.3 164.9h1M60.9 190.4h1M112.0 158.6h1M81.0 173.2h1M90.9 174.9h1M90.4 184.1h1M84.1 170.5h1M77.8 173.3h1M73.6 175.9h1M67.0 174.6h1M83.3 167.1h1M65.4 180.8h1M64.5 190.3h1M57.4 184.5h1M60.1 186.2h1M102.7 160.2h1M84.8 192.4h1M74.1 190.8h1M73.1 180.4h1M101.5 156.3h1M116.2 153.2h1M94.2 163.9h1M65.8 168.5h1M68.6 178.7h1M101.3 161.9h1M99.2 162.5h1M74.6 170.6h1M80.3 178.7h1M86.5 167.7h1M117.2 147.1h1M91.7 164.2h1M117.5 160.1h1M104.2 169.9h1M93.2 162.9h1M90.2 169.9h1M105.6 165.6h1M93.0 174.9h1M106.8 159.8h1M69.1 184.2h1M77.2 174.9h1M78.9 165.3h1M117.9 160.3h1M96.9 167.0h1M63.8 188.1h1M109.5 159.6h1M101.4 160.3h1M74.7 175.7h1M90.9 172.5h1M64.9 196.3h1M78.3 193.4h1M94.1 156.3h1M116.0 161.4h1M60.8 183.1h1M58.7 192.5h1M100.6 166.4h1M84.3 172.9h1M89.4 176.9h1M70.5 192.4h1M98.4 168.4h1M92.0 169.0h1M83.8 174.3h1M83.1 171.1h1M71.0 172.6h1M80.3 189.8h1M72.1 180.0h1M62.4 185.4h1M91.4 161.0h1M88.8 175.1h1M101.2 164.4h1M82.7 182.2h1M87.5 183.3h1M101.6 161.5h1M112.1 156.0h1M86.9 180.1h1M90.2 177.6h1M101.6 166.6h1M65.4 189.7h1M92.9 167.7h1M61.9 185.8h1M71.4 181.0h1M95.5 156.6h1M76.1 183.6h1M68.1 188.6h1M90.5 165.4h1M85.7 170.0h1M83.4 176.5h1M108.1 165.1h1M95.9 168.0h1M99.1 163.7h1M98.3 169.0h1M104.5 164.0h1M122.0 149.9h1M116.9 155.4h1M61.5 183.4h1M89.5 175.4h1M109.2 154.6h1M74.2 174.0h1M98.2 164.6h1M59.2 187.7h1M76.9 195.1h1M83.7 173.3h1M63.6 193.3h1M87.9 177.1h1M75.6 187.9h1M83.0 186.4h1M84.2 177.9h1M93.4 163.8h1M57.6 185.5h1M75.3 189.6h1M76.0 194.1h1M76.8 187.1h1M105.7 175.8h1M92.7 173.8h1M72.2 174.8h1M95.9 168.5h1M101.7 166.4h1M61.0 193.8h1M77.4 183.7h1M75.0 173.2h1M62.6 194.9h1M78.7 173.4h1M70.0 183.7h1M115.2 160.7h1M61.5 191.7h1M72.4 184.2h1M74.8 175.5h1M112.0 158.8h1M63.5 192.4h1M87.0 169.9h1M88.9 164.7h1M88.7 157.1h1M58.9 187.8h1M83.9 168.7h1M82.3 175.2h1M102.2 159.1h1M83.3 171.8h1M80.5 173.7h1M65.0 191.6h1M112.7 154.9h1M101.2 158.9h1M86.9 173.4h1M108.3 165.5h1M81.5 169.7h1M67.0 187.1h1M85.3 173.6h1M60.4 190.7h1M87.1 173.1h1M69.1 180.3h1M91.9 171.2h1M119.3 152.6h1M97.5 166.4h1M92.2 157.6h1M98.6 166.3h1M92.2 178.2h1M81.7 176.7h1M72.6 180.7h1M60.9 189.1h1M85.6 182.5h1M109.6 157.3h1M91.6 161.7h1M63.5 176.8h1M112.8 155.7h1M58.3 188.5h1M104.2 167.9h1M93.6 164.8h1M82.3 168.6h1M116.6 160.9h1M59.1 196.0h1M94.6 173.0h1M76.1 177.1h1M82.9 171.6h1M93.6 168.3h1M100.5 156.5h1M57.6 177.1h1M91.8 165.5h1M105.5 164.2h1M109.4 162.6h1M66.3 190.0h1M87.6 167.3h1M69.5 181.6h1M78.2 167.7h1M78.7 170.4h1M95.6 174.0h1M59.4 186.0h1M95.8 179.1h1M115.4 160.6h1M84.4 161.2h1M67.9 192.6h1M95.8 173.6h1M123.1 162.4h1M69.3 184.3h1M101.2 159.4h1M98.5 156.9h1M77.2 175.1h1M70.5 181.0h1M75.5 183.5h1M81.4 182.0h1M95.1 162.6h1M81.1 173.9h1M58.6 176.7h1M98.8 172.0h1M105.7 158.0h1M103.7 157.8h1M85.6 161.2h1M74.3 172.1h1M96.2 173.8h1M102.0 168.0h1M83.8 166.4h1M66.9 176.5h1M107.0 161.5h1M72.5 180.9h1M120.0 150.4h1M87.9 180.7h1M99.7 169.3h1M102.1 176.0h1M94.6 159.5h1M74.6 184.2h1M83.7 175.6h1M81.6 173.4h1M63.9 176.0h1M78.5 180.4h1M62.0 181.7h1M89.6 179.8h1M86.3 180.1h1M94.6 173.9h1M82.3 163.2h1M90.0 172.9h1M90.4 181.9h1M109.9 169.9h1M78.7 185.7h1M70.6 189.8h1M84.5 168.9h1M66.2 195.1h1M92.4 181.5h1M92.0 172.5h1M113.0 161.2h1M62.4 184.4h1M84.3 175.2h1M111.0 158.3h1M80.9 179.0h1M57.4 186.8h1M78.8 166.8h1M91.7 166.3h1M104.9 165.2h1M95.1 169.4h1M90.1 180.2h1M59.0 195.3h1M78.6 186.2h1M98.0 166.4h1M101.6 170.8h1M73.5 174.6h1M82.2 170.6h1M74.2 185.8h1M95.7 169.3h1M77.7 172.0h1M66.2 191.0h1M109.9 167.9h1M106.9 166.0h1M69.1 192.1h1M114.7 162.3h1M76.1 184.9h1M87.7 167.1h1M96.5 157.1h1M76.9 175.5h1M114.7 155.2h1M63.4 176.5h1M90.9 171.1h1M84.9 169.0h1M95.6 167.9h1M83.4 168.6h1M79.8 174.5h1M110.9 167.5h1M68.8 174.6h1M106.3 153.5h1M112.4 166.1h1M92.1 174.5h1M71.0 180.7h1M99.9 163.4h1M78.3 179.2h1M71.4 188.0h1M63.9 189.0h1M118.3 152.4h1M84.3 177.5h1M102.6 157.9h1M105.0 160.1h1M86.9 173.6h1M106.7 158.4h1M91.0 176.5h1M94.1 168.1h1M77.8 178.7h1M99.4 169.1h1M74.5 179.7h1M69.1 167.8h1M81.9 176.8h1M63.5 187.5h1M99.1 162.1h1M91.4 163.6h1M80.4 176.1h1M99.4 166.0h1M74.6 177.4h1M130.2 158.3h1M112.9 158.6h1M92.0 170.7h1M72.2 182.5h1M94.2 174.2h1M64.5 177.6h1M101.4 177.0h1M97.4 163.7h1M58.7 188.5h1M83.4 171.7h1M63.9 191.4h1M96.6 155.3h1M90.1 178.7h1M57.5 179.2h1M117.6 153.8h1M88.6 188.3h1M96.9 161.7h1M99.5 164.5h1M82.4 166.8h1M72.0 178.9h1M74.8 181.7h1M121.4 161.2h1M61.7 166.4h1M82.8 174.1h1M110.3 163.1h1M81.4 181.5h1M79.4 171.2h1M70.2 181.9h1M78.0 190.7h1M76.0 180.8h1M84.9 188.0h1M74.8 170.5h1M126.1 148.6h1M71.4 180.9h1M67.6 175.1h1M110.9 163.0h1M67.8 174.3h1M70.9 183.4h1M68.1 171.5h1M62.2 179.0h1M86.2 174.5h1M93.0 172.9h1M98.3 161.1h1M70.6 185.2h1M60.2 178.8h1M75.7 181.2h1M72.5 189.8h1M83.8 178.4h1M60.2 174.9h1M106.1 169.0h1M114.9 163.1h1M100.7 161.9h1M81.2 172.6h1M88.1 181.2h1M77.8 179.5h1M91.6 172.6h1M104.8 169.0h1M105.9 165.3h1M82.8 194.8h1M76.7 188.0h1M72.0 181.6h1M113.3 159.1h1M85.9 171.2h1M113.1 164.7h1M63.4 176.0h1M104.6 168.0h1M61.2 172.2h1M112.8 163.7h1M59.5 190.6h1M96.8 169.0h1M84.7 171.8h1M119.3 155.3h1M68.4 177.7h1M98.6 174.3h1M99.1 174.2h1M64.6 184.6h1M81.9 177.2h1M70.8 188.1h1M73.0 181.7h1M87.1 169.7h1M101.4 163.7h1M103.4 165.5h1M65.5 181.1h1M72.0 189.9h1M93.1 172.0h1M99.8 171.1h1M73.8 173.5h1M102.6 169.0h1M89.8 171.4h1M59.4 185.3h1M100.1 162.2h1M84.8 170.9h1M87.4 173.3h1M78.5 176.7h1M74.3 194.6h1M90.7 173.7h1M74.3 181.2h1M67.8 182.3h1M80.8 170.8h1M109.5 156.8h1M98.1 168.9h1M85.0 164.3h1M74.7 191.3h1M62.7 198.5h1M93.3 176.9h1M80.2 184.1h1M88.8 179.1h1M91.6 174.5h1M93.3 179.7h1M119.5 151.9h1M120.9 152.7h1M81.9 179.6h1M76.1 178.9h1M99.3 158.4h1M72.0 186.8h1M87.0 179.5h1M106.7 161.1h1M113.1 163.6h1M103.9 153.0h1M81.7 171.9h1M70.5 175.3h1M93.9 168.2h1M73.0 171.5h1M95.0 161.3h1M78.0 179.1h1M103.5 174.3h1M60.8 177.2h1M89.5 181.9h1M93.1 175.4h1M81.3 182.8h1M91.1 178.9h1M84.9 171.2h1M117.3 161.9h1M57.3 176.7h1M81.5 170.5h1M69.5 184.6h1M97.1 172.0h1M66.8 173.4h1M86.8 175.6h1M63.1 187.8h1M92.1 174.4h1M77.4 177.4h1M63.2 175.6h1M84.5 181.7h1M69.6 187.9h1M62.7 187.1h1M85.5 188.5h1M108.5 162.6h1M114.1 165.8h1M64.5 183.7h1M104.0 149.2h1M93.5 162.6h1M95.7 153.1h1M77.9 176.1h1M71.5 190.0h1M105.6 154.3h1M72.3 186.0h1M62.5 183.7h1M83.2 181.0h1M101.4 167.2h1M78.9 170.5h1M126.1 154.5h1M112.5 159.1h1M100.8 170.6h1M64.3 200.8h1M96.4 166.7h1M73.8 192.2h1M112.6 158.7h1M73.9 184.3h1M109.3 161.9h1M77.4 173.4h1M102.7 165.2h1M117.6 154.5h1M88.4 175.7h1M65.1 176.6h1M59.2 180.1h1M111.1 164.4h1M94.0 172.4h1M102.1 168.0h1M109.3 163.9h1M99.0 172.6h1M82.8 178.3h1M118.6 160.2h1M79.8 171.5h1M114.2 160.9h1M114.2 154.9h1M88.4 164.6h1M81.9 174.1h1M102.4 168.3h1M57.1 189.0h1M64.0 199.7h1M90.6 175.2h1M83.6 177.6h1M93.0 170.4h1M89.0 163.7h1M62.2 186.6h1M97.5 177.8h1M89.8 166.6h1M117.6 156.0h1M66.1 178.6h1M75.3 180.2h1M90.1 161.0h1M66.7 186.1h1M104.3 164.7h1M77.9 197.3h1M63.9 184.6h1M75.6 182.5h1M59.9 187.2h1M65.4 193.1h1M107.1 174.5h1M98.2 177.0h1M110.1 162.3h1M119.8 157.4h1M78.5 166.5h1M70.6 175.3h1M84.1 170.6h1M87.7 165.7h1M105.8 162.9h1M104.3 161.7h1M98.7 162.5h1M93.0 172.0h1M109.3 157.4h1M87.4 181.2h1M76.1 183.3h1M106.3 160.3h1M68.8 186.0h1M73.1 175.8h1M103.2 170.0h1M85.0 177.0h1M86.7 186.0h1M109.3 150.3h1M72.8 199.0h1M100.8 155.2h1M76.2 163.6h1M61.2 170.6h1M77.2 170.1h1M88.6 168.3h1M106.7 152.8h1M62.0 192.7h1M93.6 164.7h1M99.7 166.7h1M82.5 179.4h1M118.8 164.0h1M95.3 167.8h1M99.8 170.1h1M74.8 183.0h1M111.6 160.0h1M69.6 179.5h1M66.3 186.7h1M100.1 169.8h1M112.9 152.7h1M75.3 176.4h1M78.0 179.9h1M66.9 185.8h1M99.7 167.9h1M114.4 166.3h1M67.7 191.3h1M90.8 163.2h1M98.2 176.3h1M60.6 181.3h1M91.5 165.3h1M78.1 185.3h1M68.5 180.1h1M81.8 179.8h1M101.0 167.8h1M86.0 176.9h1M74.9 185.1h1M83.3 170.6h1M87.4 178.5h1M106.5 156.0h1M66.4 176.4h1M101.0 161.0h1M75.7 186.6h1M71.4 182.8h1M63.2 180.9h1M68.9 193.1h1M67.8 184.5h1M81.2 181.2h1M71.5 183.5h1M61.5 185.5h1M117.8 156.9h1M78.2 180.5h1M111.9 165.2h1M76.0 182.9h1M94.3 174.2h1M63.2 176.7h1M79.5 164.2h1M58.1 190.7h1M104.9 164.0h1M99.2 168.8h1M71.8 173.5h1M60.7 178.3h1M79.1 177.5h1M82.4 173.9h1M85.1 175.7h1M92.5 166.7h1M78.5 177.0h1M75.3 184.0h1M115.2 165.1h1M76.5 181.2h1M81.5 181.3h1M92.2 173.5h1M79.9 188.5h1M68.2 199.6h1M76.7 173.7h1M87.5 176.9h1M74.7 181.4h1M85.3 184.5h1M78.9 160.9h1M87.4 168.3h1M111.9 151.2h1M75.2 189.2h1M115.8 158.7h1M76.4 183.1h1M68.7 185.6h1M112.9 160.3h1M79.0 179.8h1M70.3 178.5h1M100.4 167.4h1M122.9 153.3h1M118.0 153.6h1M96.3 164.2h1M90.4 179.3h1M101.3 161.0h1M102.7 158.6h1M107.1 165.5h1M109.2 168.7h1M60.0 176.8h1M70.4 174.2h1M99.9 168.0h1M68.2 187.0h1M68.7 193.5h1M87.3 172.1h1M82.7 173.2h1M67.4 178.5h1M65.3 193.2h1M100.7 162.1h1M76.8 176.4h1M76.8 177.9h1M95.4 170.6h1M97.4 163.5h1M89.6 182.8h1M88.7 184.5h1M73.8 171.7h1M111.0 160.6h1M114.2 153.4h1M66.4 181.4h1M65.5 174.7h1M87.9 170.3h1M100.7 166.9h1M100.7 166.3h1M74.9 169.7h1M62.0 170.6h1M91.1 159.4h1M106.8 168.7h1M113.5 157.7h1M114.2 158.5h1M87.1 182.3h1M71.7 173.5h1M96.2 170.2h1M73.5 174.9h1M65.7 185.4h1M109.5 151.5h1M95.4 165.7h1M82.7 174.4h1M103.2 164.6h1M93.5 160.7h1M89.7 169.6h1M70.8 188.0h1M65.8 183.1h1M66.1 190.5h1M102.7 167.9h1M61.4 188.1h1M98.7 164.2h1M74.6 179.7h1M78.6 170.6h1M63.2 190.6h1M112.5 160.6h1M80.3 184.5h1M91.6 185.0h1M67.3 189.7h1M80.7 179.9h1M65.3 185.6h1M76.3 184.5h1M100.4 173.6h1M75.9 176.5h1M100.6 158.4h1M93.6 161.1h1M60.5 194.9h1M70.8 184.7h1M81.7 179.1h1M89.0 161.3h1M98.6 163.2h1M75.4 168.0h1M83.9 166.8h1M99.2 162.9h1M86.4 168.5h1M80.3 187.5h1M81.4 167.2h1M81.2 171.5h1M74.0 174.1h1M98.8 166.7h1M94.1 173.3h1M82.7 169.5h1M102.9 155.3h1M113.1 156.6h1M103.0 166.3h1M76.7 170.5h1M65.8 191.6h1M82.8 168.1h1M82.0 170.9h1M101.6 162.3h1M122.3 162.5h1M66.0 189.9h1M92.5 171.9h1M108.6 156.0h1M57.3 179.3h1M92.6 165.3h1M77.3 189.6h1M67.8 193.1h1M76.5 179.2h1M78.0 172.5h1M70.5 168.6h1M85.1 170.6h1M93.9 172.1h1M99.1 169.4h1M64.2 187.8h1M57.3 182.5h1M81.7 178.9h1M78.9 175.7h1M103.5 168.7h1M103.6 165.1h1M64.1 190.9h1M61.3 188.9h1M85.8 170.1h1M68.1 191.9h1M73.4 172.4h1M71.3 185.9h1M76.4 175.0h1M87.1 170.1h1M78.4 179.0h1M77.9 173.8h1M87.6 165.8h1M83.3 167.2h1M60.3 189.3h1M61.9 185.2h1M80.7 165.7h1M116.7 157.4h1M64.5 192.1h1M78.1 169.5h1M76.5 171.9h1M90.3 176.7h1M109.4 159.8h1M64.7 193.1h1M88.7 169.5h1M77.5 167.8h1M105.6 162.5h1M74.9 178.6h1M86.0 175.0h1M87.5 166.9h1M67.3 179.5h1M76.1 193.7h1M95.5 164.8h1M90.0 181.4h1M63.0 176.7h1M100.5 167.5h1M76.8 184.3h1M73.3 179.8h1M89.3 167.3h1M99.1 166.7h1M82.8 165.2h1M101.4 151.8h1M62.4 173.8h1M77.0 189.4h1M101.2 169.8h1M89.8 183.2h1M79.3 180.1h1M87.9 163.1h1M112.6 154.3h1M81.1 177.9h1M104.7 158.8h1M64.7 177.2h1M69.7 173.8h1M102.8 160.1h1M101.2 154.9h1M104.4 165.7h1M62.0 196.2h1M74.4 191.7h1M96.6 167.1h1M88.6 178.5h1M64.7 193.2h1M70.3 183.0h1M96.6 166.4h1M87.7 180.6h1M90.6 174.8h1M118.4 155.1h1M89.6 168.1h1M81.0 175.8h1M73.4 186.7h1M78.2 182.1h1M79.1 172.7h1M80.8 174.8h1M68.5 183.6h1M88.3 169.3h1M62.9 184.7h1M92.6 163.8h1M59.3 180.9h1M79.6 178.5h1M74.3 181.1h1M65.4 181.7h1M95.5 181.6h1M67.8 181.5h1M68.3 187.9h1M87.0 174.4h1M102.8 161.7h1M90.9 174.8h1M94.4 175.4h1M77.6 177.7h1M87.3 175.7h1M97.2 184.8h1M77.4 171.7h1M72.3 178.9h1M72.8 184.4h1M80.0 176.3h1M94.1 164.1h1M79.9 173.1h1M72.0 178.9h1M102.9 162.7h1M106.7 162.4h1M87.7 182.7h1M66.3 185.4h1M98.3 164.5h1M72.4 185.5h1M83.6 178.8h1M92.0 163.7h1M63.8 180.3h1M95.0 170.4h1M61.3 193.3h1M101.2 163.9h1M61.2 196.4h1M93.7 165.7h1M62.7 183.1h1M102.7 163.9h1M81.8 176.7h1M106.3 171.4h1M70.5 173.5h1M62.4 190.2h1M68.5 183.1h1M78.4 185.6h1M62.8 175.4h1M65.9 175.3h1M98.7 176.5h1M90.1 179.0h1M93.9 175.6h1M93.9 168.3h1M100.0 171.8h1M57.8 188.3h1M85.6 166.6h1M98.3 165.1h1M92.8 166.2h1M63.8 179.7h1M63.6 189.2h1M105.1 168.3h1M108.5 167.0h1M78.2 185.1h1M95.6 162.0h1M80.6 180.0h1M76.3 184.2h1M75.1 181.9h1M97.5 151.6h1M60.8 187.8h1M66.8 177.2h1M64.3 191.8h1M110.5 153.1h1M94.8 171.7h1M87.9 169.5h1M94.2 161.2h1M99.3 163.6h1M91.9 169.1h1M80.2 182.0h1M94.5 173.4h1M99.4 173.2h1M91.6 174.9h1M57.5 184.6h1M58.2 184.4h1M59.3 188.6h1M92.0 158.1h1M67.5 188.8h1M96.1 168.5h1M107.6 172.3h1M76.5 185.7h1M95.6 168.9h1M82.1 178.5h1M80.2 176.7h1M87.3 179.7h1M57.1 192.8h1M84.9 170.7h1M74.0 178.8h1M80.3 174.6h1M67.1 183.8h1M80.0 177.9h1M104.9 160.9h1M67.6 178.6h1M99.6 165.8h1M57.5 191.6h1M119.9 156.8h1M62.7 163.0h1M59.2 178.8h1M102.6 164.2h1M101.5 153.2h1M92.5 172.4h1M80.5 182.9h1M79.5 179.8h1M72.8 187.1h1M100.9 164.6h1M64.0 191.6h1M85.0 178.3h1M80.2 175.3h1M61.1 187.0h1M94.3 159.3h1M71.2 171.4h1M109.9 165.6h1M77.7 184.9h1M107.6 157.5h1M98.4 158.1h1M63.0 170.6h1M78.5 185.2h1M63.5 187.7h1M123.5 161.5h1M116.2 163.1h1M67.9 198.7h1M95.6 172.9h1M68.8 178.1h1M109.9 158.7h1M99.3 172.5h1M121.1 148.3h1M64.2 189.1h1M80.9 173.0h1M99.9 173.1h1M80.4 172.3h1M66.4 178.0h1M78.4 183.9h1M63.4 161.9h1M69.6 189.9h1M80.8 177.8h1M71.3 176.6h1M93.7 173.0h1M65.1 180.5h1M97.8 170.4h1M66.4 184.2h1M95.5 172.5h1M66.6 176.3h1M79.6 172.0h1M83.8 186.9h1M114.8 159.3h1M71.4 179.5h1M92.0 164.5h1M96.3 164.6h1M79.6 178.0h1M75.7 170.2h1M78.5 176.7h1M104.7 161.8h1M85.4 161.3h1M107.6 161.6h1M69.9 190.9h1M64.4 181.2h1M82.6 173.4h1M72.7 182.0h1M70.6 176.8h1M76.4 166.4h1M63.1 185.4h1M69.6 178.4h1M109.5 157.4h1M78.4 187.0h1M95.6 168.6h1M97.6 162.7h1M108.2 157.8h1M81.3 186.6h1M97.0 172.0h1M64.2 171.4h1M66.5 188.0h1M77.4 174.2h1M63.1 180.7h1M113.3 164.1h1M97.2 171.3h1M118.7 155.6h1M99.8 169.4h1M86.8 171.8h1M66.5 186.5h1M87.3 168.0h1M100.5 172.8h1M92.1 178.9h1M97.6 163.2h1M91.5 161.8h1M99.2 163.4h1M72.1 186.8h1M66.4 185.0h1M69.2 171.3h1M97.4 166.7h1M91.0 169.7h1M119.3 152.6h1M72.9 185.8h1M61.1 181.1h1M64.6 179.5h1M92.9 173.7h1M78.0 181.7h1M88.2 172.3h1M79.0 178.3h1M104.2 165.5h1M57.6 190.9h1M92.2 163.9h1M122.4 157.4h1M101.3 176.6h1M73.2 182.6h1M75.8 176.6h1M90.6 178.0h1M93.5 172.9h1M85.5 168.6h1M58.2 187.0h1M104.6 160.2h1M74.3 186.8h1M116.6 151.0h1M74.2 188.5h1M74.5 174.4h1M65.9 186.0h1M75.7 175.5h1M99.5 168.1h1M77.8 185.7h1M60.6 191.6h1M94.7 161.5h1M107.8 160.2h1M63.3 186.1h1M90.8 182.6h1M58.3 183.7h1M80.1 171.1h1M75.6 178.2h1M58.2 193.2h1M99.7 160.4h1M111.2 166.8h1M88.7 179.8h1M93.4 174.1h1M74.8 183.5h1M80.6 193.5h1M71.8 197.2h1M105.0 156.7h1M89.0 173.4h1M91.7 169.0h1M73.7 173.0h1M63.7 177.7h1M63.3 183.4h1M77.3 179.6h1M78.1 180.7h1M69.6 186.2h1M93.5 169.5h1M94.1 168.9h1M92.9 173.1h1M91.4 162.3h1M114.0 162.3h1M96.0 171.0h1M90.4 178.9h1M81.0 167.5h1M88.5 158.4h1M98.4 161.7h1M106.7 163.7h1M100.5 160.1h1M105.6 168.2h1M76.4 182.7h1M62.5 177.9h1M62.7 191.6h1M70.2 171.1h1M62.2 182.1h1M105.1 164.1h1M108.0 168.4h1M101.3 169.4h1M86.9 182.5h1M84.9 164.5h1M83.4 197.5h1M79.1 178.6h1M100.3 174.5h1M69.7 185.6h1M93.0 176.9h1M78.5 168.8h1M74.1 176.2h1M96.5 164.2h1M75.7 179.3h1M57.2 185.7h1M94.3 161.9h1M77.7 179.0h1M102.1 157.0h1M105.9 158.9h1M79.8 178.5h1M94.1 163.5h1M73.7 179.4h1M71.6 185.5h1M74.5 190.2h1M67.0 192.6h1M75.0 185.3h1M72.8 183.7h1M101.0 158.3h1M70.7 174.9h1M84.1 170.5h1M69.1 180.9h1M102.9 159.0h1M69.7 178.4h1M98.1 173.2h1M66.4 180.1h1M85.0 161.5h1M76.2 176.2h1M92.9 168.5h1M85.9 170.8h1M67.2 200.2h1M59.6 194.6h1M119.4 163.2h1M77.9 173.0h1M106.5 166.2h1M85.6 174.8h1M115.7 156.9h1M66.5 177.0h1M90.6 171.9h1M90.0 159.3h1M114.5 162.5h1M85.4 183.3h1M84.0 160.9h1M98.2 167.6h1M62.8 179.4h1M92.9 165.6h1M104.7 161.6h1M110.7 165.9h1M73.4 184.9h1M84.7 168.2h1M78.2 181.0h1M83.5 175.3h1M87.0 186.1h1M57.4 180.4h1M69.8 181.3h1M69.8 167.2h1M121.1 150.3h1M82.9 173.8h1M98.3 161.4h1M120.0 154.4h1M60.9 181.7h1M113.2 154.1h1M108.2 161.3h1M91.6 171.9h1M90.0 168.2h1M76.0 186.7h1M83.0 165.2h1M60.1 187.6h1M79.7 172.9h1M87.5 179.1h1M59.4 197.1h1M90.0 172.4h1M57.6 183.8h1M86.4 162.9h1M68.6 178.2h1M87.1 167.0h1M86.7 172.7h1M86.5 182.9h1M70.4 195.8h1M71.1 183.0h1M75.8 179.1h1M59.0 186.1h1M91.2 172.0h1M98.1 165.3h1M95.3 178.7h1M72.8 174.6h1M93.8 169.5h1M89.7 167.2h1M79.3 183.0h1M77.2 190.6h1M82.7 179.1h1M108.7 161.9h1M67.1 183.3h1M73.7 183.6h1M73.4 176.3h1M69.1 194.6h1M88.2 183.3h1M84.7 180.3h1M106.3 166.6h1M71.8 177.6h1M117.3 165.0h1M73.4 170.2h1M82.6 170.2h1M71.0 197.2h1M81.0 173.0h1M104.1 159.2h1M74.5 186.7h1M90.9 178.0h1M68.1 184.2h1M89.3 161.7h1M66.6 182.7h1M87.0 167.7h1M71.2 187.7h1M70.0 192.7h1M91.7 172.8h1M89.3 174.1h1M105.2 171.3h1M110.0 169.2h1M76.1 170.4h1M91.5 173.0h1M101.4 158.8h1M103.0 160.2h1M94.4 175.6h1M61.3 177.9h1M75.0 177.9h1M87.8 180.3h1M71.5 184.3h1M66.8 171.6h1M61.1 185.7h1M91.8 168.8h1M81.9 169.6h1M89.3 184.7h1M114.4 158.5h1M63.5 185.7h1M78.7 184.4h1M64.5 186.0h1M106.1 156.0h1M89.2 171.7h1M103.6 166.2h1M72.9 181.5h1M110.6 165.6h1M63.7 192.1h1M79.7 180.2h1M71.1 180.2h1M96.1 168.3h1M67.7 198.3h1M82.1 165.1h1M99.6 172.6h1M75.3 182.4h1M84.0 170.1h1M81.7 175.7h1M63.3 190.3h1M57.4 193.5h1M60.8 180.1h1M78.7 178.3h1M72.7 191.0h1M60.3 188.8h1M109.1 157.0h1M68.9 171.4h1M111.2 151.8h1M81.5 182.6h1M63.9 183.8h1M64.8 184.1h1M84.3 173.1h1M58.4 182.5h1M91.0 182.0h1M82.9 179.8h1M70.9 192.7h1M100.1 159.6h1M80.3 180.6h1M103.6 167.7h1M114.4 153.2h1M74.0 173.9h1M72.9 174.8h1M67.4 191.3h1M74.4 181.3h1M61.7 181.1h1M113.4 162.2h1M69.5 183.3h1M110.8 159.9h1M80.8 170.8h1M61.6 194.1h1M113.9 158.9h1M69.5 166.6h1M62.7 198.0h1M93.4 157.1h1M106.8 167.2h1M96.5 169.2h1M90.9 163.8h1M98.5 166.7h1M61.2 178.2h1M81.6 178.4h1M95.6 170.0h1M68.0 170.4h1M66.6 179.9h1M87.7 172.8h1M80.8 166.2h1M77.8 185.4h1M91.0 173.2h1M74.4 184.3h1M77.0 172.0h1M58.4 191.0h1M61.4 187.6h1M59.0 191.2h1M63.0 182.5h1M104.4 168.9h1M63.2 191.3h1M79.2 187.9h1M107.6 167.5h1M59.4 177.4h1M94.5 165.7h1M90.1 174.0h1M80.5 183.2h1M74.1 175.1h1M61.6 186.7h1M102.8 166.2h1M69.3 181.7h1M88.5 178.5h1M77.8 171.3h1M79.6 180.4h1M95.7 163.9h1M97.6 169.8h1M68.6 176.2h1M101.1 163.9h1M85.2 180.0h1M92.4 164.6h1M84.3 174.9h1M63.2 190.7h1M77.1 177.5h1M74.9 177.6h1M65.1 184.8h1M74.9 173.4h1M80.9 181.3h1M70.8 187.0h1M79.4 189.2h1M77.4 180.1h1M90.4 177.9h1M57.2 185.0h1M70.4 185.4h1M61.1 188.8h1M92.0 168.4h1M79.0 183.9h1M63.2 170.9h1M99.0 165.7h1M98.7 165.1h1M70.9 186.5h1M92.6 165.8h1M87.1 170.3h1M118.9 161.6h1M58.2 183.5h1M71.0 178.8h1M98.9 173.1h1M117.3 158.6h1M80.0 179.0h1M111.9 160.9h1M68.1 170.6h1M121.5 148.6h1M68.1 177.1h1M62.3 191.4h1M87.4 170.1h1M62.7 197.2h1M100.9 165.4h1M97.9 170.6h1M99.1 162.9h1M84.0 170.8h1M107.8 164.0h1M88.7 177.6h1M74.0 175.4h1M69.7 191.8h1M77.4 176.5h1M85.1 184.3h1M57.1 179.4h1M72.9 178.1h1M95.9 172.0h1M59.8 187.0h1M93.9 166.0h1M103.5 167.6h1M64.1 192.6h1M65.8 181.3h1M76.5 183.9h1M107.7 159.8h1M77.5 172.8h1M76.3 187.8h1M76.4 174.9h1M104.4 161.2h1M120.7 158.3h1M73.4 173.6h1M91.5 165.1h1M84.3 172.8h1M104.4 164.1h1M74.5 186.3h1M106.5 161.6h1M66.0 179.5h1M74.4 171.1h1M78.7 175.3h1M87.1 170.1h1M102.4 170.8h1M79.7 166.6h1M71.4 169.2h1M61.9 184.5h1M106.3 164.9h1M87.2 183.3h1M112.6 151.9h1M94.2 170.0h1M103.6 160.9h1M85.2 184.5h1M98.6 168.7h1M109.0 168.9h1M82.5 175.2h1M93.4 175.9h1M81.6 178.2h1M58.0 183.4h1M90.0 177.1h1M81.1 174.1h1M89.6 158.6h1M106.7 161.9h1M94.4 162.1h1M85.5 177.1h1M86.8 183.0h1M85.3 175.7h1M107.6 164.7h1M90.7 163.7h1M107.4 158.1h1M114.0 155.8h1M100.9 176.6h1M116.6 155.3h1M57.5 190.8h1M100.1 163.2h1M79.7 177.6h1M83.2 174.0h1M108.5 160.0h1M74.3 182.7h1M101.9 167.5h1M78.5 169.5h1M86.8 164.9h1M95.3 171.6h1M82.4 180.7h1M86.9 164.7h1M79.9 181.2h1M77.6 168.7h1M116.4 156.4h1M121.7 159.8h1M72.6 180.4h1M100.6 164.4h1M58.1 179.5h1M100.6 169.8h1M73.8 173.4h1M61.5 181.3h1M73.3 183.2h1M74.0 183.7h1M114.1 164.9h1M86.6 171.5h1M101.8 160.5h1M119.1 162.4h1M73.4 175.7h1M82.8 179.5h1M104.3 172.3h1M99.3 170.7h1M72.1 168.3h1M60.6 178.8h1M107.3 158.1h1M77.6 183.6h1M59.3 193.6h1M73.7 181.3h1M75.4 180.0h1M70.1 181.6h1M71.7 191.0h1M80.8 176.8h1M66.6 195.2h1M67.3 176.5h1M82.5 164.5h1M88.2 181.0h1M60.5 177.8h1M74.9 179.9h1M103.2 162.1h1M84.2 173.1h1M95.7 166.1h1M106.3 156.9h1M100.2 159.2h1M117.8 157.2h1M58.9 181.9h1M81.5 187.4h1M57.8 188.7h1M96.3 175.9h1M98.5 163.8h1M75.8 184.1h1M57.1 183.7h1M86.3 167.1h1M66.4 181.6h1M68.5 180.9h1M89.7 188.0h1M77.5 168.7h1M105.1 159.6h1M84.0 178.8h1M84.0 173.1h1M65.6 184.9h1M70.7 186.8h1M110.7 159.3h1M84.3 169.4h1M71.8 171.1h1M74.0 178.9h1M87.9 175.4h1M96.6 168.6h1M70.7 189.9h1M84.9 170.9h1M76.4 180.0h1M59.1 180.7h1M66.4 169.6h1M80.6 179.7h1M58.9 183.6h1M62.0 190.8h1M91.8 166.2h1M79.2 166.5h1M96.9 162.1h1M78.5 174.9h1M68.7 177.1h1M114.0 156.8h1M76.0 182.1h1M102.1 164.3h1M87.2 175.3h1M92.8 168.4h1M91.2 166.1h1M98.2 161.1h1M61.2 190.7h1M76.5 185.7h1M78.1 170.5h1M69.5 174.8h1M99.9 160.9h1M85.1 175.6h1M78.5 177.5h1M79.6 174.7h1M58.0 186.7h1M77.9 175.9h1M66.7 186.7h1M93.1 165.0h1M68.3 178.3h1M58.3 189.2h1M72.6 200.4h1M62.8 180.5h1M78.6 191.3h1M66.6 176.4h1M69.2 182.2h1M74.5 172.5h1M99.2 173.7h1M77.9 178.1h1M80.1 177.4h1M70.8 188.6h1M110.3 166.7h1M63.0 180.1h1M77.4 179.2h1M58.5 183.6h1M104.6 169.4h1M103.3 153.2h1M113.6 169.2h1M83.0 173.1h1M61.4 170.6h1M84.7 168.3h1M87.6 172.3h1M108.9 161.4h1M100.5 171.3h1M66.3 170.2h1M86.3 175.3h1M108.7 166.9h1M67.3 173.5h1M69.2 187.5h1M114.0 162.0h1M64.3 180.4h1M97.5 156.5h1M99.1 166.9h1M72.0 177.0h1M83.2 185.0h1M71.3 179.1h1M88.8 175.9h1M102.8 166.0h1M106.6 163.1h1M76.7 169.6h1M77.3 172.7h1M110.6 160.5h1M70.8 180.4h1M84.7 173.0h1M77.2 183.0h1M112.1 162.6h1M79.3 177.1h1M105.2 164.8h1M80.4 172.5h1M97.8 158.6h1M88.1 177.3h1M90.4 176.0h1M98.3 170.1h1M79.8 171.0h1M72.5 188.2h1M121.1 154.8h1M99.7 166.7h1M98.6 162.6h1M85.1 170.3h1M113.6 155.4h1M112.0 161.0h1M85.2 169.1h1M102.3 164.2h1M59.9 182.5h1M62.9 185.6h1M108.6 161.6h1M81.0 176.2h1M70.7 188.8h1M85.3 173.3h1M68.1 175.5h1M115.5 166.6h1M72.1 180.5h1M77.1 182.9h1M90.1 171.6h1M69.9 165.6h1M80.4 184.2h1M84.6 166.6h1M103.3 169.7h1M94.9 167.5h1M101.8 160.1h1M100.3 152.8h1M73.0 176.5h1M107.6 161.7h1M96.0 161.5h1M97.6 171.0h1M89.6 167.8h1M75.2 175.6h1M73.3 194.5h1M107.1 165.9h1M122.2 151.1h1M67.3 185.6h1M70.1 170.1h1M85.8 172.0h1M104.1 159.5h1M72.6 173.1h1M57.3 193.4h1M72.6 175.8h1M77.5 172.0h1M80.2 172.1h1M74.8 174.3h1M59.1 193.5h1M71.1 183.0h1M69.6 171.1h1M106.7 169.0h1M85.3 180.4h1M106.8 160.5h1M84.5 167.5h1M79.7 176.4h1M64.7 179.9h1M73.0 183.5h1M87.9 171.7h1M81.3 184.0h1M66.0 171.9h1M117.5 153.6h1M106.7 163.4h1M104.3 160.7h1M71.2 177.8h1M105.6 156.8h1M66.3 198.3h1M102.8 163.1h1M80.3 180.6h1M101.3 160.7h1M70.0 178.1h1M80.4 175.4h1M107.2 170.3h1M83.4 183.4h1M73.6 194.8h1M68.7 193.5h1M106.9 169.6h1M78.1 172.5h1M71.2 190.4h1M62.3 180.1h1M61.6 190.0h1M109.5 157.5h1M59.9 178.7h1M84.7 174.0h1M90.5 165.3h1M119.7 153.8h1M62.1 192.4h1M87.3 171.0h1M96.8 173.0h1M102.4 161.9h1M116.4 158.4h1M94.1 162.9h1M81.0 184.5h1M60.3 171.4h1M68.0 184.6h1M102.7 167.1h1M68.4 164.3h1M74.7 168.0h1M64.6 173.2h1M94.2 168.1h1M86.0 171.3h1M65.4 181.3h1M111.9 162.1h1M82.6 190.3h1M80.6 169.3h1M98.1 168.5h1M72.7 180.2h1M88.2 178.6h1M69.4 174.1h1M111.6 154.3h1M104.5 164.4h1M88.3 168.8h1M79.4 163.6h1M72.0 175.1h1M86.3 163.0h1M57.5 182.0h1M100.0 164.4h1M57.6 181.7h1M66.0 192.8h1M83.6 189.4h1M69.8 185.0h1M104.0 155.6h1M102.6 171.9h1M89.3 184.4h1M111.5 158.5h1M101.8 166.5h1M74.5 186.7h1M91.0 171.4h1M102.9 170.8h1M95.7 170.9h1M107.2 158.6h1M63.2 181.2h1M57.2 186.1h1M102.9 171.0h1M87.3 174.2h1M62.4 183.8h1M84.6 178.8h1M85.6 173.6h1M97.1 173.0h1M102.2 173.2h1M77.5 178.5h1M101.8 161.4h1M75.5 170.5h1M99.4 175.9h1M63.3 187.8h1M94.5 165.0h1M89.4 170.4h1M99.3 159.8h1M99.2 173.5h1M97.2 168.6h1M107.7 159.6h1M60.0 175.5h1M104.9 174.3h1M105.2 163.3h1M78.0 162.9h1M59.2 182.5h1M114.9 157.4h1M126.1 152.3h1M85.6 166.4h1M97.6 173.3h1M121.3 156.6h1M114.2 158.2h1M60.2 181.4h1M59.1 173.7h1M83.3 171.3h1M93.1 167.9h1M99.7 159.3h1M96.6 168.9h1M64.8 190.1h1M78.2 173.8h1M118.7 153.8h1M109.7 160.2h1M61.5 199.0h1M103.6 171.2h1M58.9 174.6h1M90.2 167.6h1M68.5 201.8h1M114.1 156.5h1M94.4 178.9h1M61.2 189.8h1M119.7 160.6h1M74.1 176.6h1M106.3 162.6h1M74.9 182.5h1M69.8 181.3h1M78.9 176.2h1M80.2 185.6h1M71.5 179.4h1M89.2 179.5h1M88.7 167.8h1M104.4 161.5h1M126.6 154.4h1M100.7 167.9h1M67.5 189.9h1M103.0 164.1h1M67.3 182.5h1M97.1 164.4h1M59.9 174.8h1M92.0 167.3h1M92.8 175.5h1M60.6 185.8h1M92.7 170.5h1M64.4 194.0h1M102.3 159.5h1M83.1 176.7h1M92.5 166.2h1M102.8 170.1h1M62.6 174.5h1M62.3 182.8h1M75.8 176.0h1M74.0 175.4h1M114.6 166.7h1M95.1 166.8h1M82.7 173.7h1M109.5 153.7h1M98.6 159.2h1M100.7 161.1h1M72.8 171.6h1M69.2 185.5h1M66.2 180.0h1M78.9 175.7h1M90.0 165.4h1M59.0 177.6h1M83.9 169.7h1M81.2 176.8h1M60.8 185.4h1M96.8 162.5h1M91.7 179.6h1M67.6 185.3h1M113.5 161.5h1M88.7 181.1h1M120.5 158.8h1M85.3 174.8h1M62.5 187.5h1M71.6 170.2h1M71.1 175.1h1M58.1 187.7h1M78.8 176.4h1M71.8 191.7h1M69.3 179.0h1M67.2 184.7h1M64.0 175.1h1M75.4 176.2h1M67.2 183.6h1M102.2 173.8h1M121.0 159.7h1M114.3 155.5h1M86.9 167.1h1M112.3 158.9h1M99.8 162.6h1M117.9 167.4h1M84.7 179.0h1M109.2 160.4h1M91.6 166.9h1M106.5 156.9h1M59.4 186.3h1M85.0 171.1h1M96.8 164.7h1M117.6 163.1h1M105.7 167.2h1M79.1 174.4h1M60.4 192.6h1M77.1 172.8h1M102.4 166.5h1M63.6 191.2h1M66.3 203.3h1M70.0 175.8h1M78.5 176.1h1M59.3 186.3h1M119.7 152.7h1M69.1 181.3h1M115.5 157.5h1M78.6 174.7h1M71.1 169.2h1M62.0 187.7h1M80.4 175.4h1M114.6 162.5h1M82.6 166.9h1M61.3 185.1h1M89.9 172.1h1M67.2 182.6h1M59.4 183.5h1M85.8 177.4h1M70.9 174.1h1M78.9 175.7h1M126.0 154.8h1M105.0 160.0h1M69.2 173.5h1M107.2 165.6h1M95.0 172.3h1M75.1 185.5h1M70.0 181.4h1M83.8 170.2h1M79.3 186.9h1M91.9 177.4h1M101.9 168.9h1M65.2 180.5h1M78.5 177.8h1M68.0 175.2h1M100.1 166.1h1M117.6 157.7h1M109.2 163.5h1M106.2 162.9h1M87.5 185.3h1M104.0 170.4h1M59.0 184.3h1M67.4 189.9h1M73.8 195.5h1M100.5 173.3h1M60.5 196.9h1M105.3 163.8h1M117.9 160.2h1M76.5 178.1h1M58.0 184.4h1M93.3 169.1h1M97.3 158.3h1M95.9 162.5h1M69.7 181.9h1M72.6 183.4h1M85.7 170.6h1M115.4 164.0h1M106.3 159.9h1M77.0 182.2h1M73.5 189.2h1M123.6 150.0h1M84.1 181.7h1M59.4 186.3h1M75.9 173.0h1M65.3 196.6h1M81.9 186.4h1M72.1 178.5h1M93.2 175.8h1M117.4 161.0h1M110.6 160.1h1M67.4 200.1h1M61.1 185.7h1M79.3 172.6h1M118.8 156.0h1M98.3 166.2h1M57.3 185.2h1M102.4 163.1h1M96.8 160.4h1M74.1 184.0h1M97.1 160.1h1M107.0 167.8h1M64.2 190.3h1M99.9 163.9h1M66.3 181.0h1M60.5 182.0h1M71.9 180.9h1M101.9 174.6h1M80.4 178.5h1M101.2 163.0h1M69.2 195.5h1M70.8 178.7h1M113.3 157.2h1M67.4 199.8h1M94.6 172.7h1M109.4 166.9h1M80.5 180.5h1M61.5 190.7h1M87.2 177.1h1M72.9 185.8h1M108.3 173.0h1M73.0 172.5h1M67.9 166.7h1M67.2 181.4h1M80.7 166.9h1M81.7 176.7h1M72.5 172.5h1M91.0 171.0h1M106.4 168.2h1M100.1 163.2h1M103.9 160.1h1M119.9 158.7h1M77.8 172.9h1M81.3 175.4h1M72.7 179.5h1M118.5 150.7h1M89.6 177.3h1M81.4 169.0h1M67.6 190.0h1M104.7 165.4h1M89.9 165.1h1M108.8 159.6h1M121.0 158.4h1M115.9 156.2h1M86.2 187.7h1M89.5 165.7h1M94.8 175.7h1M110.2 152.8h1M92.6 168.4h1M117.4 161.1h1M58.3 179.7h1M83.4 166.6h1M79.8 171.9h1M63.2 181.4h1M90.9 167.8h1M80.3 172.5h1M109.5 156.7h1M92.4 178.1h1M85.1 187.8h1M74.7 182.5h1M76.1 176.7h1M83.0 168.7h1M91.8 171.9h1M93.9 170.7h1M106.6 157.9h1M114.8 157.2h1M105.3 166.9h1M74.6 181.4h1M97.0 167.2h1M87.3 173.4h1M70.1 176.6h1M79.1 176.6h1M72.0 181.3h1M92.4 165.6h1M59.5 186.5h1M96.7 172.8h1M87.7 178.9h1M71.0 171.4h1M99.5 171.7h1M61.2 189.8h1M98.0 169.3h1M60.6 176.4h1M84.5 174.5h1M72.4 184.7h1M95.5 170.7h1M113.4 155.4h1M70.8 177.3h1M66.2 186.1h1M65.8 185.4h1M102.6 171.5h1M91.9 166.7h1M113.2 164.8h1M101.3 159.2h1M90.1 180.0h1M69.8 174.8h1M93.3 171.3h1M72.0 195.0h1M61.0 177.0h1M63.3 193.6h1M78.4 174.1h1M123.3 153.2h1M89.2 172.0h1M86.2 181.1h1M116.1 155.9h1M80.8 182.7h1M72.3 186.0h1M65.6 184.1h1M103.2 169.8h1M96.3 169.5h1M65.5 183.5h1M119.3 169.6h1M57.2 173.4h1M62.7 177.1h1M58.2 180.1h1M78.2 174.6h1M66.1 185.1h1M87.1 171.3h1M65.7 201.9h1M60.6 182.8h1M110.5 155.1h1M99.6 166.1h1M67.6 179.8h1M79.1 173.7h1M95.3 173.7h1M96.2 169.6h1M78.0 185.3h1M82.6 168.3h1M118.9 158.4h1M96.3 167.8h1M63.3 180.6h1M120.2 154.7h1M110.2 154.8h1M85.3 178.2h1M113.3 160.8h1M68.4 186.1h1M108.3 176.2h1M59.6 197.5h1M98.9 155.7h1M61.4 190.9h1M104.0 164.7h1M57.7 189.9h1M83.0 171.6h1M119.6 159.3h1M69.3 162.8h1M85.9 165.1h1M70.1 186.1h1M66.9 184.7h1M100.3 170.7h1M94.5 166.5h1M68.8 178.4h1M93.3 173.9h1M76.7 179.2h1M73.0 168.3h1M80.7 182.3h1M66.4 175.6h1M60.8 193.6h1M98.0 170.0h1M84.5 180.6h1M100.0 160.3h1M98.7 170.1h1M89.7 170.8h1M96.0 166.4h1M97.5 167.0h1M105.3 160.3h1M79.1 177.1h1M91.0 172.0h1M58.7 182.6h1M109.9 165.9h1M102.1 165.1h1M112.3 154.1h1M62.6 189.1h1M66.0 187.7h1M98.8 158.7h1M61.3 188.5h1M79.3 178.4h1M79.2 175.6h1M60.1 189.9h1M62.7 186.9h1M63.0 168.8h1M67.5 187.1h1M59.3 193.1h1M85.2 181.6h1M110.1 162.0h1M105.9 169.5h1M100.9 170.0h1M87.8 169.3h1M66.5 178.4h1M62.7 195.6h1M70.6 186.4h1M92.3 159.8h1M97.1 161.4h1M111.5 165.3h1M115.0 158.5h1M67.5 170.7h1M114.1 160.3h1M104.3 168.7h1M77.1 182.4h1M75.8 178.2h1M66.9 181.8h1M93.5 166.1h1M65.5 180.2h1M64.6 186.6h1M82.7 192.4h1M74.9 198.3h1M64.8 183.1h1M105.1 155.6h1M77.6 176.9h1M95.4 166.5h1M77.2 176.1h1M94.1 159.4h1M64.9 183.8h1M74.2 174.9h1M88.2 172.2h1M71.5 170.1h1M90.7 170.9h1M73.9 171.2h1M76.0 172.8h1M64.5 179.7h1M68.4 178.4h1M74.0 175.7h1M83.3 170.9h1M61.6 181.3h1M69.6 176.8h1M83.1 171.0h1M96.6 165.5h1M98.5 177.5h1M84.3 180.1h1M107.9 158.5h1M70.3 171.8h1M75.8 186.6h1M100.4 165.4h1M85.8 175.4h1M59.6 196.5h1M89.7 160.0h1M78.7 173.0h1M71.0 182.4h1M120.6 160.9h1M70.5 180.7h1M117.2 156.9h1M63.4 184.8h1M66.2 183.3h1M61.6 187.2h1M76.7 174.2h1M100.2 161.8h1M65.1 181.4h1M64.7 189.2h1M111.8 165.2h1M100.6 166.1h1M100.5 172.3h1M70.5 185.4h1M78.4 182.2h1M62.0 184.9h1M87.1 169.9h1M71.3 184.5h1M81.8 174.3h1M104.6 169.5h1M70.4 175.1h1M73.4 182.2h1M84.3 174.1h1M74.5 172.3h1M81.0 173.4h1M79.3 169.8h1M90.6 168.6h1M95.3 166.6h1M87.9 189.7h1M109.7 163.7h1M61.9 182.4h1M117.7 157.9h1M72.0 178.2h1M71.2 175.3h1M97.3 175.5h1M122.9 158.3h1M78.0 166.0h1M89.5 170.4h1M84.2 171.8h1M58.1 175.7h1M76.4 179.4h1M75.0 182.5h1M108.2 163.7h1M62.8 199.7h1M84.8 170.9h1M88.3 179.9h1M92.3 183.5h1M72.6 161.0h1M67.4 193.4h1M110.1 162.0h1M62.5 181.0h1M64.0 196.1h1M71.9 187.1h1M123.2 146.6h1M89.4 176.5h1M65.2 182.8h1M103.3 165.1h1M79.3 169.1h1M96.5 170.7h1M94.3 169.7h1M89.4 165.7h1M87.1 170.5h1M127.1 157.4h1M85.7 183.4h1M80.3 166.6h1M57.4 192.5h1M71.6 178.7h1M110.4 157.8h1M91.2 172.0h1M99.7 174.6h1M92.6 173.0h1M101.4 160.0h1M90.8 171.0h1M81.9 178.4h1M63.9 193.7h1M115.2 157.4h1M89.4 172.3h1M88.3 173.5h1M86.0 177.4h1M83.6 162.9h1M75.3 188.9h1M113.7 160.0h1M91.5 170.4h1M73.1 172.6h1M104.3 164.9h1M111.9 169.4h1M104.1 160.5h1M85.3 163.7h1M60.9 190.1h1M64.3 185.0h1M115.1 157.6h1M63.6 173.9h1M105.8 164.9h1M68.7 187.2h1M101.1 144.0h1M100.3 166.5h1M60.5 193.0h1M106.7 157.7h1M84.2 161.1h1M66.2 184.5h1M81.6 190.5h1M116.5 158.7h1M98.4 180.0h1M104.8 165.1h1M102.5 163.3h1M58.9 181.6h1M70.7 192.0h1M61.2 181.7h1M83.8 176.4h1M100.0 166.1h1M114.8 151.3h1M81.6 168.0h1M72.1 193.5h1M57.1 189.4h1M98.0 166.9h1M100.1 163.9h1M94.6 170.4h1M66.5 178.1h1M96.8 174.1h1M60.7 193.7h1M80.2 176.3h1M72.6 187.1h1M111.1 159.1h1M69.1 179.2h1M89.1 177.9h1M76.1 177.9h1M61.8 180.0h1M122.1 161.0h1M79.3 175.6h1M110.6 162.5h1M80.0 187.0h1M92.5 168.0h1M75.1 186.1h1M118.0 155.0h1M65.7 180.8h1M73.9 177.6h1M68.5 180.4h1M117.7 158.3h1M98.8 167.0h1M106.8 171.5h1M62.2 188.6h1M82.3 186.8h1M99.9 166.7h1M113.6 167.2h1M91.2 169.8h1M73.7 188.8h1M74.8 180.5h1M72.5 192.6h1M100.5 161.4h1M59.9 183.6h1M107.6 163.8h1M80.4 170.1h1M96.1 176.7h1M90.0 170.1h1M62.3 190.2h1M64.3 193.0h1M82.4 179.3h1M64.6 175.0h1M77.1 167.1h1M98.6 161.7h1M90.7 166.4h1M65.3 178.5h1M104.2 166.1h1M102.1 157.7h1M68.8 171.0h1M116.3 158.0h1M101.8 175.1h1M65.2 177.6h1M104.5 162.9h1M100.5 165.3h1M99.0 172.7h1M91.5 175.7h1M109.9 158.5h1M110.0 165.2h1M98.0 167.3h1M62.6 192.1h1M77.3 191.0h1M78.5 163.2h1M97.8 159.3h1M60.4 176.6h1M93.6 162.1h1M99.5 166.7h1M110.6 160.8h1M92.7 180.5h1M81.8 185.2h1M67.6 185.2h1M79.0 176.1h1M89.0 175.9h1M93.3 172.0h1M103.1 161.7h1M109.8 164.1h1M71.7 180.2h1M93.9 168.1h1M57.3 183.8h1M64.0 180.1h1M109.8 160.9h1M103.7 163.2h1M61.3 177.1h1M68.9 195.0h1M93.7 179.6h1M82.6 186.2h1M106.2 168.7h1M62.3 185.1h1M108.9 156.4h1M85.9 167.0h1M68.0 170.5h1M90.4 168.9h1M64.4 185.5h1M63.8 187.0h1M104.1 160.7h1M105.3 160.1h1M72.6 179.8h1M78.9 180.8h1M110.4 158.5h1M87.7 183.2h1M77.9 171.5h1M93.1 165.8h1M92.9 166.6h1M98.9 165.2h1M58.7 189.3h1M85.4 176.9h1M111.6 158.0h1M105.8 171.1h1M72.3 167.8h1M90.2 172.5h1M72.2 180.7h1M64.3 174.6h1M57.0 177.4h1M69.8 182.4h1M70.4 189.8h1M87.9 174.5h1M84.6 173.2h1M110.9 158.3h1M93.1 166.4h1M101.8 162.5h1M90.6 174.4h1M80.5 183.1h1M92.9 172.6h1M99.2 162.3h1M61.6 190.3h1M103.7 169.1h1M100.8 166.8h1M104.6 160.4h1M64.0 185.5h1M82.4 166.9h1M65.9 175.9h1M102.7 163.5h1M105.4 159.9h1M107.4 159.1h1M78.4 171.2h1M99.3 168.2h1M73.2 187.3h1M96.5 168.8h1M106.2 160.0h1M72.4 181.9h1M60.9 194.9h1M80.2 169.2h1M62.3 194.1h1M109.7 168.6h1M81.3 163.5h1M84.7 177.2h1M89.6 169.9h1M77.0 169.3h1M107.3 170.6h1M84.5 177.0h1M70.1 196.9h1M89.6 166.3h1M118.9 153.5h1M81.0 176.0h1M84.8 163.3h1M83.5 172.2h1M66.6 191.7h1M70.0 185.1h1M96.1 173.1h1M107.5 162.1h1M105.4 166.6h1M103.6 162.9h1M72.1 183.6h1M79.2 176.0h1M71.2 175.1h1M80.2 168.9h1M87.1 179.9h1M75.1 167.8h1M100.4 167.2h1M76.4 182.1h1M88.2 173.1h1M95.0 159.8h1M107.8 166.8h1M105.5 162.0h1M99.3 158.1h1M66.1 191.5h1M91.4 169.4h1M58.6 173.6h1M58.0 186.3h1M57.9 182.8h1M67.6 184.5h1M111.2 160.2h1M96.7 162.9h1M96.3 169.8h1M81.2 176.8h1M110.0 155.2h1M69.6 187.2h1M81.6 176.5h1M84.6 172.4h1M110.9 161.4h1M94.2 164.0h1M97.3 162.5h1M75.0 177.9h1M95.8 162.4h1M90.7 179.7h1M92.4 170.9h1M93.9 172.9h1M103.1 173.6h1M69.5 192.3h1M76.7 192.7h1M65.1 177.7h1M97.7 176.2h1M102.6 162.0h1M105.9 161.4h1M70.7 182.5h1M79.4 177.0h1M65.5 183.7h1M103.1 165.5h1M89.4 180.7h1M68.5 167.2h1M67.0 172.7h1M86.7 164.8h1M79.1 178.6h1M71.0 181.8h1M107.8 163.4h1M124.5 160.6h1M67.0 183.3h1M94.4 160.7h1M121.4 156.1h1M126.8 159.0h1M91.1 182.7h1M67.9 182.2h1M87.6 173.1h1M88.0 174.0h1M74.5 183.3h1M89.8 170.2h1M61.4 182.5h1M93.8 178.3h1M96.8 176.2h1M69.3 182.1h1M100.3 162.4h1M71.6 176.4h1M93.8 162.5h1M93.7 162.1h1M108.8 159.6h1M89.7 166.8h1M74.9 180.9h1M71.1 177.4h1M110.3 155.8h1M109.4 158.8h1M107.8 149.8h1M96.9 169.3h1M102.2 163.2h1M103.9 170.9h1M101.4 162.5h1M110.4 159.4h1M81.3 169.7h1M113.7 168.5h1M77.4 179.4h1M93.3 176.4h1M118.6 154.3h1M100.6 168.5h1M69.9 174.9h1M109.6 159.0h1M108.4 156.9h1M109.5 164.1h1M99.0 170.8h1M105.3 169.0h1M105.3 158.3h1M92.2 166.4h1M71.1 180.6h1M95.3 171.8h1M97.8 160.0h1M95.6 166.4h1M76.6 185.1h1M64.5 185.1h1M102.2 163.8h1M59.6 178.4h1M112.0 157.6h1M70.2 186.3h1M113.0 163.5h1M76.2 167.2h1M121.1 156.0h1M70.2 178.7h1M63.5 177.9h1M107.9 170.8h1M82.1 179.3h1M86.5 166.1h1M73.5 172.6h1M83.6 175.2h1M92.6 161.1h1M76.3 176.6h1M67.0 186.5h1M59.7 176.8h1M87.8 172.9h1M60.9 189.4h1M94.2 164.8h1M81.5 177.5h1M78.5 181.1h1M59.0 190.3h1M58.4 182.2h1M105.9 166.6h1M74.7 176.5h1M93.6 169.9h1M122.2 153.9h1M62.0 185.3h1M71.4 166.9h1M92.9 175.3h1M107.9 163.6h1M118.7 158.1h1M115.2 155.4h1M69.1 180.6h1M71.8 183.8h1M87.0 159.6h1M70.5 175.7h1M69.7 179.2h1M102.7 161.1h1M106.5 158.1h1M81.2 176.8h1M122.9 156.5h1M93.0 171.7h1M94.9 173.9h1M84.8 176.5h1M88.0 180.9h1M85.2 183.4h1M85.6 170.1h1M69.3 175.8h1M84.9 169.6h1M100.5 163.2h1M64.7 189.4h1M86.6 175.6h1M89.3 172.3h1M60.9 182.8h1M94.5 167.1h1M78.1 178.3h1M61.3 164.3h1M75.5 180.0h1M60.3 190.1h1M79.5 171.5h1M116.8 163.0h1M98.2 170.6h1M81.7 179.6h1M60.1 174.6h1M103.9 167.4h1M104.2 163.9h1M65.4 185.0h1M95.4 159.3h1M60.7 183.7h1M103.6 156.7h1M63.1 194.9h1M98.3 160.2h1M96.9 171.2h1M107.6 163.2h1M70.6 202.4h1M110.6 160.0h1M81.6 185.0h1M98.5 163.8h1M104.7 157.2h1M103.7 165.3h1M73.6 188.4h1M115.9 154.6h1M104.1 168.7h1M72.6 184.0h1M82.4 174.8h1M65.9 184.9h1M86.7 173.3h1M81.1 171.5h1M84.0 174.8h1M62.2 188.6h1M61.3 180.3h1M103.8 150.7h1M66.3 188.0h1M97.8 162.9h1M97.1 170.1h1M58.0 181.0h1M71.0 183.5h1M93.6 167.5h1M77.7 175.1h1M98.9 165.7h1M80.4 164.7h1M116.2 162.6h1M72.7 187.1h1M102.7 165.7h1M103.8 155.2h1M68.8 188.1h1M72.6 179.9h1M84.4 184.5h1M98.3 163.8h1M89.7 169.7h1M71.9 187.4h1M94.7 156.6h1M96.7 165.0h1M58.9 185.7h1M76.5 163.0h1M90.8 164.8h1M68.7 183.6h1M102.4 166.0h1M92.1 179.8h1M92.8 174.9h1M69.0 187.6h1M68.8 184.7h1M81.3 176.0h1M77.1 170.0h1M75.4 191.8h1M104.0 172.8h1M67.5 184.9h1M87.1 167.3h1M69.9 173.4h1M103.4 158.0h1M75.4 184.7h1M62.6 172.8h1M77.9 185.0h1M63.9 183.3h1M76.2 180.5h1M86.0 177.7h1M81.7 191.6h1M84.5 178.4h1M76.6 176.7h1M81.6 177.7h1M106.7 162.6h1M67.7 182.9h1M105.0 163.4h1M77.4 170.9h1M62.7 187.6h1M59.4 176.7h1M61.7 194.7h1M73.9 176.7h1M115.5 152.2h1M62.8 190.3h1M72.3 185.1h1M74.8 179.6h1M58.6 176.0h1M59.6 177.1h1M97.3 170.0h1M115.6 168.1h1M96.1 169.0h1M92.5 171.2h1M88.2 175.4h1M70.8 174.9h1M87.2 179.4h1M95.8 164.3h1M72.8 180.2h1M63.7 178.7h1M88.9 164.2h1M99.8 161.5h1M98.3 161.4h1M115.0 155.8h1M109.1 168.6h1M114.7 155.2h1M59.4 190.3h1M116.2 154.5h1M58.8 196.5h1M112.8 162.6h1M100.6 163.4h1M97.2 167.5h1M60.6 178.8h1M116.6 151.8h1M97.6 166.1h1M86.3 167.3h1M123.6 153.0h1M72.3 186.4h1M67.1 181.4h1M120.8 157.1h1M72.0 193.4h1M68.9 179.0h1M88.4 180.9h1M97.9 162.2h1M96.5 161.2h1M84.1 175.2h1M92.2 168.8h1M98.9 158.4h1M68.9 191.8h1M72.7 186.3h1M68.5 175.4h1M83.1 173.3h1M92.3 169.2h1M74.4 170.8h1M70.2 183.8h1M103.6 156.9h1M106.2 153.9h1M67.0 194.2h1M94.9 164.8h1M96.4 163.3h1M76.1 176.8h1M86.6 168.3h1M71.2 197.1h1M82.8 177.8h1M82.2 180.6h1M85.7 178.9h1M79.1 191.7h1M63.4 168.9h1M107.1 165.8h1M101.6 165.8h1M72.6 180.7h1M93.8 175.9h1M77.6 181.8h1M76.3 166.9h1M100.3 166.9h1M71.9 179.4h1M126.1 156.5h1M85.0 161.0h1M102.9 167.5h1M75.2 179.8h1M106.8 165.4h1M108.4 163.2h1M93.2 157.6h1M91.0 174.6h1M119.9 151.7h1M98.4 171.8h1M99.6 165.6h1M102.3 173.6h1M61.5 194.6h1M72.7 172.5h1M64.0 190.8h1M102.2 164.5h1M117.0 156.5h1M102.6 163.5h1M116.0 161.9h1M76.9 172.5h1M58.7 191.0h1M80.7 166.1h1M68.2 184.9h1M73.6 171.0h1M68.6 173.3h1M68.0 182.3h1M102.5 158.5h1M100.9 171.3h1M112.6 153.9h1M76.9 189.2h1M124.5 156.1h1M110.9 160.3h1M97.4 170.6h1M92.7 170.7h1M64.9 203.2h1M65.6 187.7h1M76.1 174.4h1M106.4 164.2h1M95.3 166.2h1M104.5 162.9h1M71.4 177.0h1M97.3 171.9h1M102.4 164.1h1M88.4 176.6h1M69.9 179.4h1M77.3 177.1h1M109.3 158.4h1M109.8 167.0h1M77.8 189.0h1M57.9 187.3h1M74.7 185.5h1M83.1 165.6h1M111.0 153.9h1M97.8 171.0h1M100.3 156.4h1M89.2 189.7h1M71.3 188.4h1M89.3 182.4h1M95.7 167.5h1M60.6 176.4h1M80.0 170.6h1M90.2 176.2h1M78.1 170.5h1M104.0 159.4h1M70.6 193.1h1M84.6 166.3h1M88.2 180.7h1M99.1 181.0h1M74.5 168.2h1M96.8 154.4h1M101.7 161.1h1M93.6 170.4h1M99.5 165.8h1M87.0 169.2h1M85.2 165.6h1M66.0 190.3h1M108.1 158.9h1M107.3 162.1h1M85.4 183.2h1M92.3 170.9h1M99.0 181.7h1M107.8 160.0h1M91.9 173.8h1M96.4 156.0h1M69.0 177.5h1M60.1 186.8h1M102.0 161.0h1M58.2 181.9h1M81.5 172.0h1M100.3 160.4h1M72.8 176.4h1M105.4 163.3h1M87.7 174.7h1M110.6 155.0h1M74.6 177.9h1M77.0 172.6h1M102.5 169.5h1M68.3 196.2h1M126.2 152.7h1M100.1 168.1h1M67.2 181.3h1M107.6 164.3h1M69.1 180.7h1M57.0 178.7h1M90.5 178.7h1M95.1 182.4h1M97.1 171.0h1M89.0 171.7h1M70.8 184.9h1M108.3 170.3h1M73.1 176.9h1M78.3 182.6h1M112.2 160.2h1M99.8 154.5h1M107.1 160.3h1M118.0 158.8h1M72.1 183.3h1M92.6 169.1h1M92.6 162.5h1M76.1 180.4h1M83.7 175.7h1M96.9 170.7h1M63.6 199.9h1M107.5 162.1h1M83.5 182.1h1M106.4 165.1h1M114.1 172.5h1M101.2 168.1h1M69.3 203.4h1M93.6 163.6h1M77.5 169.8h1M107.8 164.3h1M91.3 169.8h1M111.0 166.8h1M68.2 189.2h1M122.0 157.9h1M82.5 170.3h1M95.9 168.1h1M73.4 186.5h1M93.2 166.4h1M57.9 188.8h1M94.8 176.3h1M68.3 182.8h1M82.4 177.1h1M71.4 190.7h1M104.8 166.0h1M120.2 149.0h1M61.5 187.7h1M95.9 168.5h1M72.4 183.5h1M124.3 163.2h1M96.4 174.9h1M58.9 189.4h1M80.7 172.1h1M106.6 167.1h1M70.3 183.5h1M101.3 173.0h1M62.7 188.7h1M59.5 196.2h1M94.3 164.5h1M91.5 169.7h1M87.2 173.4h1M67.9 177.3h1M77.2 181.1h1M60.9 184.1h1M73.7 177.7h1M101.1 161.8h1M95.1 168.3h1M92.5 160.7h1M95.8 173.7h1M124.5 154.8h1M76.1 183.0h1M98.7 174.2h1M75.5 181.2h1M105.5 161.6h1M105.2 170.6h1M103.0 162.5h1M96.0 169.2h1M104.4 152.8h1M81.0 172.7h1M96.3 167.9h1M81.6 180.4h1M102.7 167.5h1M107.0 167.4h1M100.1 162.9h1M91.7 167.1h1M81.4 177.4h1M84.0 169.5h1M74.8 176.6h1M100.3 166.1h1M93.5 158.1h1M65.1 172.9h1M59.2 191.0h1M74.5 174.5h1M106.7 166.3h1M94.2 166.1h1M119.5 151.0h1M86.0 177.3h1M103.8 162.5h1M62.2 188.9h1M112.7 155.9h1M64.3 178.8h1M57.6 185.7h1M63.7 179.1h1M93.8 168.0h1M79.3 170.1h1M76.0 181.0h1M109.0 165.0h1M61.3 190.1h1M104.2 157.0h1M65.2 194.0h1M114.0 150.4h1M65.8 185.5h1M87.1 173.2h1M79.6 181.8h1M81.1 171.3h1M68.8 178.6h1M82.3 183.1h1M91.0 177.6h1M88.3 165.7h1M97.8 165.3h1M114.5 154.4h1M87.5 179.7h1M85.1 169.5h1M84.7 174.2h1M83.1 176.4h1M86.1 165.1h1M104.0 168.5h1M73.9 174.9h1M101.2 157.4h1M82.7 177.1h1M91.2 171.4h1M93.5 166.0h1M117.2 156.3h1M91.4 181.0h1M105.2 166.7h1M74.5 179.3h1M96.7 165.4h1M107.2 171.7h1M67.6 179.7h1M89.8 159.7h1M73.4 188.8h1M89.2 168.4h1M80.2 162.3h1M89.8 163.0h1M82.9 161.1h1M101.5 160.8h1M110.2 157.4h1M86.3 183.9h1M115.0 157.3h1M59.7 182.5h1M101.8 163.8h1M74.5 180.6h1M100.0 171.3h1M97.0 175.1h1M70.8 167.5h1M82.4 165.6h1M107.8 161.5h1M68.5 197.4h1M57.4 184.3h1M116.7 161.9h1M101.0 162.1h1M64.0 180.5h1M63.6 183.0h1M94.7 177.0h1M66.5 179.9h1M122.7 154.0h1M72.3 182.8h1M108.9 165.7h1M95.5 168.4h1M107.2 166.6h1M80.7 187.9h1M92.5 174.6h1M58.6 184.7h1M58.1 186.9h1M110.3 161.6h1M61.8 184.0h1M97.8 160.7h1M105.0 158.3h1M84.8 170.3h1M77.1 164.9h1M113.9 173.2h1M58.7 194.7h1M87.8 168.8h1M71.5 175.6h1M90.5 178.6h1M91.8 161.9h1M82.9 168.3h1M121.0 159.2h1M110.0 160.0h1M93.4 174.0h1M75.1 179.8h1M114.3 158.2h1M61.5 181.3h1M99.3 168.9h1M63.8 186.9h1M70.6 183.1h1M102.9 161.9h1M86.7 180.7h1M93.8 169.5h1M98.7 169.9h1M85.6 166.1h1M97.6 158.0h1M114.7 161.5h1M94.2 165.0h1M101.2 160.6h1M70.4 184.2h1M71.0 191.3h1M70.5 179.5h1M86.0 171.3h1M120.1 157.0h1M67.5 187.3h1M104.5 163.8h1M67.7 169.9h1M102.3 168.8h1M113.1 155.2h1M115.7 167.6h1M90.9 166.4h1M95.1 169.7h1M67.4 182.7h1M64.2 186.4h1M67.2 203.4h1M67.8 181.0h1M90.3 177.5h1M99.6 166.1h1M75.6 176.4h1M111.5 163.5h1M98.0 168.8h1M96.3 166.7h1M80.3 169.9h1M84.4 176.9h1M82.8 199.6h1M95.3 167.5h1M98.6 170.2h1M82.0 171.6h1M116.5 174.5h1M92.2 161.6h1M104.8 160.2h1M98.2 156.6h1M73.1 185.3h1M101.0 166.2h1M111.7 161.7h1M85.8 173.3h1M72.2 192.5h1M84.5 183.4h1M73.8 188.5h1M57.0 199.8h1M59.9 189.6h1M62.1 194.6h1M64.1 193.5h1M60.6 198.4h1M64.1 194.4h1M57.4 194.3h1M57.8 192.0h1M57.4 199.5h1M63.2 198.9h1M61.1 198.7h1M57.3 195.7h1M62.8 192.8h1M57.5 200.8h1M60.9 191.3h1M62.0 195.1h1M60.4 192.8h1M63.2 194.6h1M62.9 199.6h1M61.8 196.3h1M66.2 194.9h1M57.3 190.8h1M57.8 196.1h1M61.4 199.7h1M60.1 196.8h1M58.4 199.8h1M62.8 185.6h1M59.3 192.1h1M58.0 193.0h1M57.8 190.0h1M58.9 199.9h1M57.1 190.3h1M59.2 200.9h1M60.6 200.0h1M60.8 194.4h1M58.2 189.7h1M64.9 193.3h1M61.5 193.0h1M59.6 192.5h1M60.3 196.2h1M57.6 194.7h1M57.3 195.7h1M61.3 195.9h1M59.9 205.0h1M59.7 195.3h1M57.9 200.3h1M64.9 199.1h1M59.9 195.3h1M59.8 198.6h1M60.0 200.7h1M58.2 194.0h1M61.5 187.9h1M61.6 193.0h1M60.6 198.1h1M60.3 188.9h1M62.9 189.2h1M62.2 197.1h1M61.4 187.1h1M57.7 194.5h1M62.3 205.3h1M57.0 197.6h1M60.6 203.9h1M59.0 192.6h1M61.7 195.1h1M58.6 197.7h1M62.2 200.9h1M58.2 202.4h1M64.2 199.5h1M59.1 197.5h1M66.8 191.3h1M61.5 200.7h1M59.4 193.4h1M58.3 202.0h1M65.0 189.5h1M60.3 200.9h1M63.0 200.3h1M58.4 204.4h1M57.1 201.4h1M58.9 203.4h1M58.9 199.8h1M62.7 192.5h1M64.8 195.2h1M59.1 199.2h1M57.2 200.3h1M59.3 190.4h1M58.8 195.5h1M57.5 193.9h1M63.5 198.8h1M62.0 196.7h1M59.8 187.1h1M60.2 193.0h1M59.4 193.2h1M61.2 193.2h1M62.8 195.0h1M59.8 193.6h1M58.6 199.8h1M60.6 198.0h1M58.9 192.3h1M58.3 190.6h1M62.8 200.7h1M58.3 198.8h1M58.3 197.4h1M57.2 196.7h1M58.0 184.9h1M63.4 200.2h1M57.1 204.0h1M66.5 196.4h1M57.5 195.0h1M62.9 194.5h1M60.7 196.1h1M58.8 191.7h1M58.5 194.7h1M66.8 196.2h1M59.8 198.2h1M60.2 204.9h1M60.9 199.0h1M60.1 199.1h1M59.4 190.7h1M59.7 188.4h1M60.0 202.2h1M59.6 196.6h1M59.2 194.0h1M60.9 202.2h1M62.0 183.0h1M57.8 196.5h1M58.7 194.7h1M59.1 199.9h1M60.7 191.0h1M58.9 191.7h1M62.4 186.4h1M57.6 194.1h1M60.7 196.9h1M61.2 195.0h1M60.5 191.7h1M60.9 195.1h1M61.9 197.5h1M58.0 187.2h1M58.9 193.8h1M60.4 183.6h1M58.2 198.8h1M57.5 197.5h1M61.3 191.4h1M57.3 198.5h1M60.4 197.2h1M59.9 193.9h1M60.9 197.5h1M59.6 195.1h1M59.8 200.7h1M60.5 189.0h1M64.7 204.7h1M64.7 197.2h1M61.9 194.2h1M62.2 198.0h1M57.9 194.2h1M61.2 198.2h1M61.0 195.4h1M61.0 195.4h1M61.1 200.2h1M60.5 200.2h1M59.2 194.6h1M57.8 201.4h1M61.5 196.0h1M59.5 195.9h1M62.5 199.5h1M58.2 192.8h1M58.7 189.1h1M57.2 195.4h1M61.3 200.1h1M57.1 194.7h1M57.2 201.6h1M57.5 194.5h1M59.4 196.1h1M58.5 195.5h1M63.1 199.1h1M60.4 198.3h1M62.2 197.0h1M63.4 202.3h1M62.4 197.9h1M62.1 197.4h1M58.1 192.8h1M60.7 196.5h1M59.2 202.2h1M61.7 199.3h1M57.9 196.7h1M61.4 195.7h1M58.1 192.0h1M61.6 192.9h1M63.0 200.8h1M63.0 196.3h1M58.4 196.6h1M63.3 201.9h1M60.0 194.0h1M59.6 199.0h1M59.4 196.1h1M57.5 192.7h1M63.1 193.9h1M65.7 195.2h1M62.0 188.9h1M62.5 193.0h1M60.9 204.4h1M59.3 195.3h1M58.9 194.1h1M57.3 190.1h1M61.8 195.2h1M58.4 202.0h1M60.7 196.3h1M57.0 197.8h1M66.1 195.2h1M63.4 197.8h1M59.3 199.4h1M64.9 195.5h1M61.0 196.7h1M62.7 197.4h1M59.2 187.7h1M58.3 200.3h1M63.6 204.4h1M61.7 199.9h1M62.0 197.3h1M62.5 194.6h1M60.0 197.9h1M58.3 205.1h1M60.7 202.9h1M59.9 203.1h1M62.8 193.2h1M59.0 193.4h1M64.9 195.7h1M58.7 199.1h1M61.3 200.8h1M59.1 197.7h1M61.4 203.4h1M57.8 190.1h1M61.2 196.8h1M60.0 199.3h1M60.3 203.2h1M62.3 187.0h1M57.5 195.3h1M59.2 187.5h1M62.7 198.3h1M63.1 193.9h1M61.6 197.8h1M60.2 200.2h1M58.5 195.4h1M58.7 199.1h1M58.7 162.4h1M79.7 158.4h1M66.5 174.8h1M78.4 189.1h1M65.2 164.2h1M105.8 175.1h1M63.7 162.3h1M101.2 147.8h1M105.7 160.3h1M62.2 167.9h1M79.1 165.5h1M68.0 166.6h1M62.1 173.7h1M115.4 147.9h1M84.3 169.2h1M67.8 199.3h1M101.6 168.6h1M76.4 175.3h1M95.8 162.7h1M64.7 135.3h1M100.4 181.2h1M87.9 161.0h1M99.1 159.7h1M107.4 151.8h1M73.8 170.4h1M89.6 168.2h1M81.7 181.2h1M79.3 177.1h1M63.3 174.2h1M114.0 156.5h1M65.4 181.3h1M119.9 162.3h1M72.3 174.1h1M93.1 166.0h1M61.2 180.1h1M75.9 172.2h1M113.6 149.4h1M77.8 167.4h1M110.4 152.5h1M109.0 144.4h1M88.3 187.6h1M119.1 137.8h1M72.4 173.9h1M62.5 175.1h1M58.8 175.7h1M100.5 163.2h1M120.8 141.5h1M102.3 160.3h1M89.9 187.6h1M107.5 158.0h1M116.6 156.4h1M98.2 156.2h1M108.5 159.9h1M119.5 145.8h1M103.4 154.7h1M97.3 164.6h1M68.3 160.3h1M70.1 176.3h1M80.8 165.5h1M101.0 160.3h1M69.3 187.6h1M83.5 164.9h1M64.8 172.4h1M59.2 167.5h1M81.4 165.8h1M80.1 167.2h1M112.3 151.9h1M61.8 179.0h1M84.4 172.6h1M129.0 147.3h1M98.4 140.7h1M94.6 162.6h1M61.4 181.6h1M96.8 158.6h1M68.8 179.8h1M92.0 164.3h1M71.5 179.2h1M87.8 201.9h1M106.3 143.1h1M109.0 147.4h1M113.0 172.0h1M69.7 202.5h1M90.8 168.6h1M106.3 161.5h1M76.4 173.9h1M108.3 150.2h1M89.5 162.1h1M104.3 176.9h1M113.9 131.7h1M75.7 161.7h1M82.5 170.1h1M99.5 167.5h1M93.3 152.1h1M120.1 154.3h1M102.0 153.1h1M95.7 156.2h1M104.8 154.8h1M68.2 174.4h1M119.6 155.8h1M121.2 143.2h1M59.4 195.6h1M83.6 186.5h1M61.2 177.6h1M78.9 200.0h1M107.2 146.1h1M86.7 160.6h1M58.1 174.6h1M109.7 155.4h1M65.7 178.7h1M63.7 177.2h1M101.9 170.3h1M104.5 155.6h1M83.3 170.5h1M61.0 183.4h1M66.6 173.3h1M60.6 174.2h1M83.2 159.7h1M102.2 164.3h1M70.3 171.3h1M115.0 176.1h1M81.5 172.1h1M110.5 163.8h1M79.6 182.9h1M118.1 155.9h1M104.7 146.0h1M64.4 169.9h1M69.5 191.4h1M104.6 187.3h1M93.8 152.0h1M118.9 150.7h1M66.5 164.7h1M113.1 154.1h1M73.8 173.0h1M128.3 164.2h1M98.5 155.0h1M75.1 164.0h1M124.2 151.2h1M119.2 153.6h1M62.4 177.5h1M116.4 147.2h1M99.3 159.0h1M97.3 154.6h1M93.3 171.1h1M98.5 167.1h1M115.2 156.2h1M94.2 166.8h1M124.4 150.1h1M101.9 158.8h1M102.4 160.0h1M95.4 164.4h1M74.3 175.9h1M96.7 165.8h1M104.3 181.8h1M104.8 155.5h1M108.2 170.6h1M93.7 156.4h1M122.5 177.3h1M108.9 153.0h1M68.3 174.4h1M70.9 173.1h1M121.0 148.4h1M60.4 175.3h1M63.1 176.5h1M92.8 171.7h1M96.2 148.6h1M108.6 152.5h1M110.2 151.8h1M85.3 185.2h1M78.9 152.4h1M119.1 155.5h1M85.2 178.5h1M107.3 147.0h1M127.8 149.3h1M96.4 161.8h1M112.0 167.3h1M87.2 178.8h1M112.9 146.9h1M107.9 154.0h1M82.0 162.9h1M86.5 171.9h1M117.5 150.6h1M89.6 190.5h1M60.8 181.0h1M73.0 170.5h1M110.6 156.4h1M98.2 163.3h1M94.4 182.1h1M84.1 188.6h1M101.8 148.2h1M115.2 155.9h1M126.5 173.0h1M89.8 155.1h1M62.4 183.0h1M64.6 172.2h1M81.2 168.5h1M127.1 151.1h1M62.1 171.8h1M105.3 166.7h1M71.4 170.7h1M88.4 172.8h1M112.9 159.3h1M112.3 154.1h1M113.9 155.8h1M104.9 151.4h1M63.5 168.0h1M77.7 181.3h1M90.4 179.2h1M86.1 162.8h1M102.3 170.7h1M99.3 157.2h1M71.7 153.9h1M69.9 150.2h1M89.7 167.4h1M79.7 173.5h1M76.0 158.2h1M92.3 166.1h1M61.8 165.3h1M68.0 177.1h1M112.4 155.3h1M79.7 170.6h1M65.2 177.4h1M96.1 143.6h1M117.8 153.1h1M89.2 175.9h1M82.3 174.3h1M66.0 166.8h1M113.7 167.4h1M97.8 163.0h1M113.9 146.6h1M86.3 155.5h1M81.6 162.8h1M86.4 163.5h1M97.3 165.9h1M95.5 174.8h1M64.2 168.9h1M104.0 150.4h1M67.4 182.1h1M80.8 154.2h1M95.6 202.2h1M110.9 155.6h1M80.5 174.8h1M60.3 173.7h1M71.5 152.2h1M117.9 154.7h1M90.9 150.5h1M88.9 168.0h1M77.5 192.9h1M122.4 154.0h1M94.1 155.3h1M97.9 177.7h1M93.4 172.6h1M79.1 197.3h1M112.5 161.7h1M86.8 185.1h1M61.0 179.5h1M120.5 153.0h1M104.1 158.8h1M60.7 179.3h1M76.1 163.4h1M99.1 148.8h1M112.3 149.7h1M97.7 148.7h1M68.4 170.4h1M112.7 161.9h1M88.6 151.0h1M63.3 183.5h1M77.8 174.8h1M95.4 149.3h1M94.2 162.2h1M82.7 153.4h1M113.1 153.7h1M67.0 187.5h1M124.6 155.9h1M71.6 163.5h1M72.6 172.2h1M60.6 187.3h1M88.4 172.9h1M77.5 168.8h1M79.2 178.1h1M109.7 144.8h1M89.5 162.0h1M75.9 174.0h1M81.7 175.4h1M58.7 183.3h1M82.4 181.4h1M60.1 167.6h1M70.1 171.6h1M66.3 178.8h1M80.7 173.5h1M88.9 173.7h1M122.1 154.9h1M106.0 151.1h1M98.2 152.1h1M114.0 145.3h1M111.4 153.0h1M108.6 147.2h1M123.8 144.1h1M105.8 179.4h1M98.6 160.0h1M64.8 183.6h1M92.6 160.8h1M114.9 153.6h1M109.1 155.7h1M91.7 167.4h1M91.9 153.0h1M75.2 173.5h1M87.9 161.1h1M98.1 181.6h1M117.9 156.2h1M104.4 149.6h1M106.5 172.4h1M120.1 154.6h1M120.2 154.4h1M116.0 153.3h1M83.4 172.4h1M65.1 179.3h1M128.0 159.8h1M59.9 175.3h1M104.6 145.3h1M69.2 172.3h1M60.3 183.1h1M104.9 158.1h1M106.7 161.6h1M116.2 141.0h1M112.2 154.1h1M121.4 156.6h1M101.0 148.2h1M75.6 172.8h1M116.5 143.6h1M96.8 155.7h1M79.3 175.6h1M84.2 177.9h1M125.9 146.5h1M79.9 182.4h1M113.6 155.0h1M90.0 153.0h1M75.6 202.9h1M81.9 152.1h1M94.1 151.3h1M123.2 143.8h1M81.8 144.1h1M107.7 154.6h1M103.5 138.9h1M77.6 168.1h1M123.7 156.1h1M76.8 175.9h1M67.5 173.0h1M88.2 162.1h1M116.4 152.2h1M98.9 165.4h1M89.8 149.5h1M57.4 180.3h1M61.5 185.9h1M112.5 157.4h1M89.1 170.3h1M103.4 161.7h1M119.4 176.7h1M105.0 141.8h1M108.4 162.5h1M94.1 159.3h1M95.3 167.5h1M94.4 194.6h1M114.1 151.9h1M125.3 155.3h1M92.1 162.3h1M93.5 160.9h1M87.1 186.7h1M72.5 176.9h1M68.4 166.4h1M102.0 172.1h1M78.2 179.5h1M110.9 142.5h1M80.2 173.9h1M90.8 169.1h1M95.8 187.7h1M60.7 186.3h1M84.7 162.5h1M71.9 186.4h1M61.9 178.7h1M58.2 169.2h1M73.1 173.5h1M113.0 143.1h1M110.2 157.9h1M91.2 166.6h1M62.3 151.2h1M100.5 162.8h1M94.4 165.5h1M68.6 169.4h1M69.8 169.5h1M73.2 173.0h1M119.0 153.1h1M115.1 154.7h1M92.4 166.0h1M120.8 154.1h1M96.1 141.6h1M122.3 144.9h1M70.3 172.9h1M87.3 164.8h1M68.5 180.8h1M84.2 167.3h1M115.5 146.0h1M80.6 171.4h1M57.0 179.3h1M85.5 169.2h1M89.4 172.9h1M78.1 172.3h1M100.6 157.6h1M76.6 154.3h1M65.3 193.6h1M69.2 171.8h1M73.9 187.5h1M76.0 170.1h1M115.7 143.3h1M112.3 146.5h1M86.4 166.5h1M128.2 146.5h1M109.2 149.4h1M118.8 155.1h1M78.7 200.0h1M100.7 149.2h1M93.9 150.3h1M108.5 160.6h1M106.1 158.4h1M63.3 167.1h1M116.9 165.8h1M91.4 163.4h1M107.3 161.5h1M124.1 163.4h1M90.5 161.5h1M87.3 187.2h1M77.6 167.0h1M70.1 179.0h1M113.3 154.6h1M101.4 164.3h1M93.5 144.3h1M86.6 165.9h1M60.9 164.2h1M121.3 146.8h1M90.1 176.2h1M106.8 157.0h1M94.6 179.9h1M109.5 147.0h1M108.6 159.8h1M106.0 150.8h1M89.5 177.3h1M85.1 181.4h1M60.8 174.7h1M58.7 175.7h1M102.9 152.5h1M116.1 168.3h1M86.2 171.4h1M92.6 157.6h1M58.3 185.4h1M115.5 150.0h1M60.2 193.5h1M69.2 174.2h1M90.1 162.4h1M78.5 162.5h1M113.2 143.5h1M108.3 162.6h1M91.3 190.2h1M103.3 161.8h1M85.7 166.5h1M106.5 153.5h1M100.2 145.5h1M62.6 166.5h1M64.1 164.3h1M109.4 158.9h1M96.3 179.7h1M105.5 152.5h1M96.4 157.6h1M90.7 169.8h1M110.5 152.2h1M90.4 169.6h1M119.3 148.8h1M103.7 151.3h1M72.8 176.1h1M77.7 174.3h1M82.9 157.8h1M60.6 175.1h1M86.1 168.7h1M63.1 191.0h1M114.9 157.7h1M74.8 157.3h1M78.7 167.6h1M70.8 197.7h1M100.7 152.5h1M87.9 179.4h1M69.4 200.8h1M121.3 142.9h1M66.8 170.3h1M77.1 174.0h1M104.6 158.7h1M124.3 149.9h1M88.0 171.2h1M81.2 172.8h1M91.8 160.7h1M117.6 155.5h1M110.2 157.5h1M111.8 155.2h1M73.9 177.0h1M77.8 178.1h1M76.7 161.3h1M93.1 161.4h1M76.5 161.8h1M62.7 146.2h1M78.1 146.5h1M59.1 188.1h1M84.0 164.7h1M107.0 159.3h1M101.3 166.3h1M68.9 167.0h1M90.8 179.2h1M71.3 169.8h1M86.3 169.7h1M96.4 160.5h1M76.7 166.2h1M99.4 185.1h1M113.7 163.8h1M83.6 160.0h1M80.6 157.3h1M121.9 151.9h1M111.7 151.0h1M70.3 168.2h1M117.7 156.0h1M84.2 157.5h1M104.4 162.4h1M68.2 176.0h1M77.2 174.7h1M121.3 153.5h1M64.2 174.9h1M95.3 154.6h1M88.2 166.9h1M97.6 153.6h1M78.3 168.0h1M65.2 187.2h1M76.1 193.7h1M113.5 156.9h1M103.2 156.5h1M104.2 154.4h1M76.1 165.5h1M109.3 160.6h1M112.8 144.0h1M107.6 153.8h1M125.7 165.3h1M86.0 154.1h1M65.6 174.9h1M97.6 166.4h1M104.3 147.9h1M113.3 152.9h1M66.8 175.5h1M111.5 155.0h1M76.2 170.9h1M63.0 189.0h1M106.3 172.3h1M109.7 168.1h1M69.5 168.9h1M103.7 160.2h1M82.0 173.8h1M59.7 184.8h1M64.8 172.0h1M98.6 162.2h1M111.7 140.0h1M121.9 146.4h1M92.5 168.6h1M81.6 174.5h1M72.1 177.9h1M120.0 153.3h1M63.3 179.4h1M75.8 157.6h1M101.9 163.2h1M98.2 138.9h1M69.5 159.2h1M84.0 184.7h1M81.9 159.2h1M110.5 143.3h1M111.6 149.7h1M106.3 167.6h1M98.1 165.0h1M63.4 198.6h1M66.8 175.6h1M98.9 160.8h1M105.3 152.8h1M76.0 167.9h1M127.9 150.8h1M76.7 160.3h1M88.4 162.7h1M100.9 162.2h1M113.8 143.9h1M63.0 158.1h1M105.6 157.7h1M96.4 160.6h1M81.8 143.1h1M77.8 167.8h1M88.3 162.6h1M65.0 176.6h1M106.1 138.5h1M99.0 178.4h1M97.2 157.0h1M102.3 149.0h1M92.0 155.2h1M82.2 160.7h1M75.6 161.1h1M74.0 162.3h1M80.5 160.1h1M93.4 168.1h1M113.7 153.5h1M108.6 151.8h1M127.8 151.6h1M123.6 160.7h1M80.6 164.4h1M96.3 172.7h1M103.9 151.5h1M92.3 151.4h1M86.7 165.4h1M103.3 156.7h1M63.4 182.7h1M95.9 147.3h1M57.4 177.6h1M73.6 173.9h1M122.4 151.1h1M98.7 163.1h1M73.6 168.8h1M64.2 169.3h1M65.0 177.0h1M122.5 152.0h1M104.5 164.0h1M65.1 178.1h1M97.5 158.9h1M68.4 189.4h1M79.6 183.5h1M103.9 160.0h1M117.1 150.7h1M89.8 169.6h1M80.8 169.1h1M105.4 148.7h1M96.3 159.0h1M64.3 197.1h1M84.6 167.9h1M114.9 136.8h1M125.8 142.1h1M111.8 136.0h1M133.2 115.0h1M117.6 132.1h1M117.8 129.8h1M171.5 94.3h1M114.7 121.6h1M145.8 115.1h1M126.8 104.5h1M110.8 122.0h1M122.6 132.6h1M155.6 103.5h1M119.7 133.7h1M131.2 97.6h1M130.2 140.2h1M130.8 138.6h1M155.1 89.2h1M105.1 167.1h1M113.2 134.3h1M119.4 136.4h1M134.3 110.9h1M110.8 131.3h1M123.3 112.2h1M142.5 109.1h1M174.2 89.6h1M147.8 102.8h1M107.3 156.0h1M170.8 95.5h1M140.7 134.0h1M118.2 150.3h1M135.8 120.2h1M113.1 145.7h1M122.3 131.4h1M107.5 137.1h1M113.4 126.5h1M92.5 184.9h1M150.4 93.6h1M135.5 127.1h1M156.8 117.6h1M139.9 118.4h1M125.3 123.1h1M160.0 100.5h1M166.7 108.8h1M117.5 125.9h1M141.2 102.9h1M120.5 128.6h1M126.0 139.5h1M144.7 121.3h1M128.7 119.7h1M128.9 127.7h1M96.1 171.0h1M106.2 134.2h1M131.8 122.1h1M147.2 113.9h1M148.1 116.4h1M124.0 140.3h1M131.0 106.5h1M105.4 149.3h1M135.7 112.5h1M169.1 89.5h1M128.8 132.3h1M109.7 144.6h1M153.0 105.6h1M142.2 141.4h1M142.6 136.7h1M147.6 120.3h1M124.5 131.9h1M158.0 123.9h1M112.5 135.0h1M104.3 128.7h1M135.1 118.0h1M133.4 110.3h1M120.2 105.7h1M136.9 104.8h1M126.9 123.4h1M114.9 134.9h1M142.3 117.9h1M103.4 160.0h1M134.5 128.8h1M142.3 98.5h1M146.4 118.4h1M163.6 112.5h1M124.3 128.1h1M124.4 128.1h1M124.3 137.3h1M124.8 138.5h1M135.0 120.8h1M152.8 107.9h1M124.0 119.3h1M150.4 82.2h1M136.3 111.4h1M87.9 162.3h1M143.4 110.9h1M118.1 130.3h1M126.7 116.5h1M117.8 140.1h1M123.5 138.1h1M170.0 81.8h1M149.1 101.1h1M124.4 131.7h1M112.6 135.6h1M126.7 134.7h1M115.3 133.1h1M131.0 99.4h1M165.4 113.1h1M103.1 157.2h1M145.9 120.9h1M128.7 124.2h1M125.1 128.4h1M147.5 108.9h1M117.3 139.8h1M113.8 139.9h1M124.1 120.4h1M121.0 142.2h1M121.5 134.7h1M160.1 120.3h1M100.9 144.4h1M154.0 96.8h1M158.3 96.5h1M113.0 118.0h1M139.3 105.2h1M98.3 131.9h1M122.5 124.7h1M124.1 133.3h1M116.6 140.6h1M157.8 111.0h1M141.0 117.4h1M157.8 110.6h1M105.1 157.3h1M116.0 111.3h1M124.9 132.6h1M92.5 143.5h1M158.1 105.8h1M142.5 129.3h1M148.7 124.3h1M164.9 95.1h1M122.4 133.5h1M155.6 82.6h1M101.4 163.7h1M162.0 96.5h1M147.2 104.9h1M101.4 137.4h1M99.1 139.1h1M180.8 68.6h1M126.5 139.5h1M156.9 98.4h1M135.7 108.7h1M140.9 124.8h1M137.2 132.0h1M110.2 148.5h1M108.7 143.9h1M118.8 140.3h1M150.7 103.1h1M98.5 164.2h1M104.9 136.8h1M149.3 122.0h1M131.1 125.1h1M138.0 147.2h1M99.7 129.1h1M92.5 152.1h1M107.6 128.7h1M109.6 146.4h1M124.7 135.9h1M109.5 138.6h1M102.9 154.9h1M160.1 98.0h1M85.6 159.9h1M147.4 107.7h1M115.9 124.8h1M117.3 132.5h1M103.5 144.5h1M108.1 138.4h1M115.7 125.9h1M92.2 167.5h1M151.2 103.7h1M145.8 132.5h1M117.1 111.3h1M129.4 124.6h1M153.5 102.9h1M134.2 128.2h1M147.8 110.7h1M132.9 152.2h1M160.8 84.9h1M107.4 127.1h1M113.5 149.0h1M112.3 132.3h1M150.2 107.1h1M160.6 91.0h1M151.6 130.3h1M167.1 75.6h1M120.8 155.0h1M119.1 142.0h1M122.7 135.2h1M157.9 99.0h1M105.8 136.5h1M131.2 124.8h1M108.4 148.8h1M132.5 118.3h1M105.9 133.6h1M187.5 61.0h1M145.1 107.2h1M119.5 133.7h1M138.6 98.6h1M130.7 126.6h1M125.7 144.2h1M140.2 113.3h1M110.6 163.2h1M162.5 96.5h1M153.0 96.7h1M102.2 140.4h1M120.4 119.5h1M88.4 157.8h1M140.8 112.3h1M130.2 111.5h1M133.8 118.2h1M131.3 146.3h1M117.4 113.3h1M118.9 139.9h1M127.2 130.1h1M119.7 140.5h1M120.0 139.6h1M117.0 138.3h1M77.5 173.5h1M113.3 139.3h1M142.5 101.5h1M155.2 91.3h1M119.9 136.8h1M132.3 124.1h1M157.6 100.1h1M93.9 152.4h1M130.9 109.4h1M110.1 172.3h1M141.9 120.0h1M132.0 134.9h1M130.0 128.6h1M130.7 134.3h1M175.9 92.6h1M86.3 186.8h1M101.8 153.2h1M138.7 123.8h1M141.2 125.4h1M106.1 129.9h1M137.9 118.0h1M133.1 127.4h1M127.2 117.1h1M150.1 98.1h1M120.6 149.7h1M137.9 123.4h1M149.1 106.0h1M116.5 132.6h1M157.0 101.1h1M135.0 163.5h1M98.3 159.2h1M102.5 140.7h1M122.1 112.8h1M158.2 111.4h1M126.3 136.0h1M123.7 120.3h1M139.0 134.7h1M151.5 120.7h1M106.0 140.3h1M123.6 123.1h1M114.7 146.4h1M139.7 115.8h1M150.8 111.5h1M91.9 177.9h1M131.3 117.2h1M128.6 131.0h1M137.0 102.4h1M119.8 144.2h1M138.0 131.5h1M88.4 132.2h1M138.9 101.7h1M179.0 81.2h1M125.5 109.8h1M162.1 94.2h1M165.8 97.5h1M126.3 131.1h1M137.0 127.7h1M133.6 121.1h1M158.8 110.7h1M115.3 136.7h1M142.7 107.0h1M107.7 136.2h1M132.7 100.4h1M129.5 124.6h1M96.5 159.6h1M121.6 131.6h1M134.4 108.8h1M124.8 125.5h1M142.0 126.1h1M177.4 80.8h1M112.5 158.7h1M119.0 142.3h1M112.6 137.6h1M145.1 138.8h1M115.4 128.7h1M115.8 118.8h1M110.1 137.6h1M117.0 141.7h1M174.4 91.3h1M183.4 75.7h1M124.0 124.6h1M141.7 132.1h1M99.6 161.0h1M124.1 134.3h1M143.0 106.7h1M150.3 127.4h1M134.9 137.3h1M162.5 82.7h1M198.7 72.8h1M129.1 130.4h1M108.6 144.2h1M151.0 120.0h1M144.9 103.3h1M114.5 142.9h1M138.1 134.1h1M154.7 104.2h1M130.7 108.1h1M109.8 138.1h1M150.9 108.4h1M110.1 137.0h1M162.6 93.9h1M135.8 129.4h1M89.7 159.4h1M105.9 134.4h1M149.7 111.0h1M178.8 98.7h1M138.0 116.6h1M128.4 133.5h1M181.6 81.8h1M107.1 153.7h1M144.6 96.1h1M103.5 158.9h1M99.7 163.9h1M104.7 141.9h1M150.8 111.1h1M131.6 114.8h1M120.7 122.1h1M134.6 110.9h1M124.1 146.4h1M168.1 99.9h1M134.7 123.9h1M153.0 124.6h1M100.4 146.6h1M135.8 132.1h1M104.1 146.6h1M132.1 97.9h1M103.8 163.1h1M148.3 111.9h1M143.6 94.6h1M140.5 111.0h1M160.3 102.3h1M160.3 91.4h1M130.5 135.7h1M111.9 124.8h1M135.8 148.3h1M130.4 124.1h1M122.4 124.4h1M123.4 126.1h1M161.9 85.8h1M122.5 113.1h1M115.3 126.4h1M162.5 95.9h1M113.7 152.7h1M122.2 118.6h1M144.9 116.1h1M141.9 108.9h1M119.9 164.5h1M107.6 156.6h1M111.5 154.3h1M116.6 144.0h1M157.9 104.4h1M128.0 125.4h1M133.0 113.2h1M124.5 152.6h1M129.5 144.8h1M151.0 119.1h1M131.5 111.4h1M146.3 110.7h1M153.7 103.7h1M144.6 107.6h1M138.6 135.4h1M146.2 111.0h1M136.7 126.8h1M139.0 124.7h1M143.6 99.4h1M131.3 154.3h1M167.4 105.9h1M136.2 121.5h1M159.1 128.2h1M147.3 114.6h1M142.5 115.1h1M147.9 116.4h1M144.6 122.8h1M146.2 108.6h1M141.9 126.4h1M140.1 108.1h1M152.7 115.2h1M142.5 112.7h1M149.4 92.5h1M146.6 114.0h1M136.4 113.5h1M170.9 91.2h1M168.7 101.7h1M146.3 100.8h1M143.1 113.2h1M153.7 89.7h1M144.1 103.4h1M141.9 110.0h1M146.5 113.1h1M147.4 95.4h1M155.1 111.7h1M156.3 127.9h1M125.2 132.6h1M154.4 103.3h1M145.6 108.9h1M140.2 92.0h1M138.7 101.3h1M166.4 107.8h1M152.0 105.8h1M157.2 118.7h1M147.2 114.3h1M138.0 137.3h1M142.2 134.2h1M161.9 86.3h1M149.3 127.7h1M150.4 125.3h1M163.2 87.4h1M150.9 109.2h1M125.5 130.4h1M136.9 148.0h1M129.0 128.1h1M145.1 117.4h1M151.6 100.5h1M149.2 105.6h1M149.3 122.2h1M155.9 103.5h1M143.3 133.3h1M145.2 116.5h1M163.6 104.1h1M164.3 76.3h1M138.4 117.2h1M119.9 110.5h1M156.9 114.7h1M156.1 113.5h1M146.6 97.9h1M147.2 101.7h1M160.8 92.8h1M157.7 85.7h1M161.4 109.4h1M150.5 130.4h1M147.7 115.9h1M151.6 111.1h1M145.3 113.4h1M150.5 92.5h1M145.0 97.7h1M146.4 105.5h1M148.0 110.8h1M163.0 105.5h1M138.3 117.6h1M141.0 127.3h1M156.1 124.7h1M151.0 131.1h1M150.1 121.9h1M134.0 144.0h1M133.9 103.0h1M140.2 117.9h1M155.9 104.5h1M156.3 100.6h1M157.7 108.2h1M141.5 134.3h1M153.1 111.8h1M144.7 104.3h1M136.7 122.8h1M146.8 102.6h1M147.9 126.0h1M138.3 131.0h1M159.1 112.2h1M145.1 118.5h1M159.3 83.3h1M149.3 109.0h1M138.3 113.9h1M141.1 104.3h1M139.0 105.2h1M152.5 117.4h1M139.1 121.1h1M135.6 116.6h1M157.1 91.5h1M141.5 120.9h1M160.4 92.2h1M140.0 119.8h1M151.4 100.1h1M152.6 114.9h1M157.1 94.2h1M159.5 117.7h1M143.5 107.6h1M128.0 106.5h1M145.0 105.4h1M156.3 106.9h1M157.2 102.7h1M150.6 116.6h1M152.4 115.3h1M157.2 120.6h1M128.5 133.5h1M156.6 113.9h1M139.7 126.7h1M147.3 110.7h1M152.9 125.0h1M152.8 123.7h1M138.7 106.5h1M143.7 130.3h1M153.3 115.4h1M153.8 88.9h1M156.9 90.7h1M161.6 90.3h1M156.7 97.6h1M157.9 110.8h1M171.0 94.2h1M140.7 106.6h1M140.3 90.2h1M148.4 101.5h1M152.3 110.9h1M143.7 122.7h1M159.1 113.6h1M171.3 95.3h1M158.3 112.3h1M139.9 110.8h1M158.5 114.7h1M87.1 186.0h1M131.4 116.8h1M117.2 130.4h1M127.5 171.5h1M130.8 166.4h1M109.7 139.1h1M89.7 146.3h1M77.3 192.5h1M121.7 143.1h1M116.6 151.9h1M127.5 169.1h1M99.6 170.7h1M126.3 146.5h1M97.3 185.6h1M123.6 134.9h1M119.8 204.5h1M92.1 178.4h1M103.5 187.4h1M132.9 125.6h1M126.1 181.7h1M80.4 147.8h1M81.6 181.5h1M83.3 175.9h1M91.0 148.4h1M69.8 188.3h1M68.4 121.7h1M99.7 174.8h1M71.2 176.2h1M86.0 156.0h1M67.1 151.9h1M92.4 139.7h1M129.6 121.4h1M136.6 119.1h1M75.6 173.4h1M85.4 140.2h1M108.6 141.1h1M77.6 139.1h1M86.9 175.9h1M78.2 184.2h1M125.7 194.0h1M101.0 164.1h1M83.0 178.4h1M142.8 144.7h1M109.6 189.3h1M158.9 166.1h1M94.2 168.4h1M89.7 128.7h1M90.1 163.6h1M80.5 139.8h1M63.8 153.7h1M76.5 192.0h1M74.6 170.7h1M114.1 144.5h1M123.7 155.5h1M126.8 159.4h1M61.0 166.5h1M147.3 160.4h1M103.2 141.9h1M81.6 183.0h1M90.8 159.9h1M95.5 159.5h1M102.3 152.5h1M58.8 202.7h1M69.6 193.5h1M114.8 151.7h1M121.9 169.2h1M65.5 154.5h1M101.1 167.4h1M110.7 128.5h1M78.3 120.8h1M78.9 141.7h1M64.2 195.8h1M71.2 174.0h1M111.2 155.3h1M93.1 147.3h1M103.2 144.2h1M63.5 158.6h1M85.2 171.5h1M87.9 166.3h1M91.1 163.5h1M131.3 137.6h1M132.2 142.8h1M112.6 164.9h1M94.1 147.4h1M110.8 162.8h1M103.8 177.9h1M114.9 125.8h1M115.8 143.8h1M99.2 140.5h1M88.4 157.3h1M119.8 178.3h1M74.7 179.8h1M82.4 198.5h1M94.4 160.0h1M93.6 163.4h1M97.1 158.8h1M78.9 167.9h1M118.7 198.6h1M150.3 154.0h1M99.9 162.9h1M59.6 144.5h1M75.3 165.8h1M91.3 182.7h1M137.0 144.4h1M108.9 149.4h1M140.7 151.7h1M111.2 158.8h1M133.6 126.6h1M66.4 193.2h1M110.1 168.2h1M110.0 151.1h1M66.3 168.7h1M89.0 165.0h1M92.2 175.6h1M117.4 155.5h1M87.5 188.4h1M69.8 170.8h1M84.1 168.3h1M76.9 169.9h1M104.7 164.6h1M88.2 146.5h1M129.1 167.0h1M82.5 165.0h1M100.6 185.8h1M89.5 193.1h1M139.0 112.2h1M81.9 175.2h1M118.5 160.0h1M111.9 152.6h1M79.1 183.0h1M111.1 137.7h1M117.4 168.1h1M82.9 174.9h1M60.0 179.1h1M69.3 131.4h1M92.9 179.0h1M62.6 155.1h1M88.7 193.1h1M118.6 169.0h1M69.1 153.3h1M60.6 155.1h1M105.2 164.9h1M141.8 159.8h1M75.1 178.8h1M72.7 181.1h1M132.8 144.2h1M95.4 172.7h1M120.3 125.6h1M106.9 181.9h1M92.2 183.8h1M99.3 160.3h1M113.7 149.2h1M93.2 191.4h1M103.0 170.1h1M84.9 165.0h1M119.7 171.9h1M103.0 152.3h1M80.9 167.7h1M82.5 138.0h1M100.5 153.1h1M150.9 181.1h1M85.2 138.7h1M68.8 153.6h1M109.3 173.1h1M142.1 121.5h1M138.2 155.4h1M146.8 164.8h1M63.6 175.0h1M142.8 124.9h1M120.6 168.6h1M111.9 164.2h1M113.9 180.6h1M111.3 150.3h1M118.8 137.7h1M57.2 164.1h1M132.6 122.4h1M99.2 142.6h1M96.6 192.2h1M82.7 187.3h1M94.4 165.6h1M135.9 137.4h1M98.1 158.5h1M112.4 176.4h1M79.7 171.7h1M123.7 114.9h1M91.6 162.4h1M68.5 144.0h1M104.0 148.6h1M77.8 157.4h1M79.2 138.7h1M59.8 182.8h1M116.3 159.9h1M83.2 178.2h1M104.5 140.6h1M102.1 141.1h1M117.0 152.5h1M122.8 164.5h1M133.2 158.6h1M96.0 163.4h1M82.9 151.7h1M130.3 154.7h1M74.1 180.6h1M72.0 165.6h1M59.6 163.1h1M75.4 164.0h1M138.4 159.1h1M142.5 159.5h1M85.5 162.0h1M65.3 183.5h1M93.3 193.2h1M92.6 138.3h1M133.1 131.3h1M92.0 160.1h1M124.9 151.9h1M105.0 125.8h1M67.5 186.4h1M115.2 123.2h1M138.1 154.3h1M112.5 150.8h1M93.3 154.3h1M135.8 154.9h1M113.6 152.4h1M96.2 144.2h1M117.9 166.2h1M133.0 135.4h1M78.5 177.4h1M105.3 181.0h1M76.4 146.5h1M111.7 166.0h1M110.6 169.9h1M108.3 195.8h1M90.9 130.3h1M103.2 172.7h1M148.6 172.8h1M129.6 149.6h1M99.1 161.0h1M99.2 153.6h1M78.4 140.4h1M89.9 190.2h1M100.1 136.0h1M108.7 120.1h1M60.2 197.2h1M83.8 188.1h1M133.1 156.6h1M140.4 151.8h1M69.5 159.3h1M71.7 174.5h1M61.8 174.9h1M117.9 132.9h1M106.3 162.6h1M88.0 146.7h1M77.9 169.0h1M128.8 169.8h1M87.5 164.7h1M131.3 138.3h1M100.7 173.7h1M109.4 130.8h1M114.8 157.0h1M112.1 174.2h1M96.7 172.4h1M135.0 125.0h1M137.2 153.8h1M72.2 167.5h1M146.6 147.3h1M60.1 163.8h1M104.3 136.1h1M128.9 171.5h1M98.1 156.7h1M73.7 170.9h1M66.7 154.4h1M116.9 139.9h1M92.8 190.7h1M103.8 166.4h1M104.4 156.1h1M68.6 142.2h1M80.1 185.9h1M72.3 183.1h1M99.0 181.4h1M120.9 138.9h1M100.9 168.7h1M87.8 155.0h1M129.3 114.9h1M117.5 113.1h1M126.0 157.5h1M107.0 148.2h1M112.5 149.9h1M110.4 122.5h1M120.0 178.6h1M118.1 137.5h1M90.7 130.5h1M140.4 170.7h1M150.1 160.2h1M127.4 192.2h1M145.1 177.1h1M142.4 173.4h1M134.9 197.5h1M129.6 183.8h1M131.3 186.6h1M147.3 164.4h1M148.5 165.5h1M143.8 168.4h1M148.7 183.1h1M131.4 187.0h1M132.8 186.6h1M129.6 182.8h1M146.5 164.5h1M141.7 196.3h1M134.0 190.9h1M137.9 173.9h1M137.0 192.6h1M139.1 176.9h1M140.0 183.7h1M137.9 171.3h1M131.8 186.1h1M149.1 176.8h1M138.6 181.4h1M142.3 176.8h1M144.5 175.3h1M134.5 196.3h1M129.3 190.2h1M136.2 175.1h1M137.0 181.9h1M146.9 175.6h1M139.5 175.9h1M143.5 182.5h1M125.5 186.6h1M142.4 168.7h1M127.4 189.0h1M139.6 161.8h1M156.5 170.2h1M130.5 193.0h1M140.7 197.0h1M134.0 193.2h1M134.1 178.2h1M135.8 198.1h1M151.4 165.7h1M149.0 182.4h1M150.8 168.0h1M129.8 193.2h1M139.3 184.0h1M147.5 164.5h1M136.6 174.4h1M129.2 192.4h1M147.2 176.4h1M140.8 168.4h1M139.7 188.4h1M146.7 179.3h1M135.2 187.8h1M143.8 169.2h1M136.9 191.2h1M142.6 169.8h1M139.6 186.7h1M142.0 180.9h1M134.9 186.1h1M143.0 169.4h1M126.2 191.9h1M129.3 194.5h1M132.7 180.1h1M148.3 164.0h1M147.3 168.4h1M128.8 193.3h1M150.0 166.6h1M146.5 177.0h1M135.8 173.4h1M134.1 187.7h1M135.6 177.7h1M149.5 157.2h1M138.3 178.9h1M139.8 188.4h1M144.3 182.2h1M148.6 159.3h1M140.7 176.9h1M144.4 169.3h1M150.7 159.2h1M144.0 187.2h1M140.3 186.5h1M122.2 189.7h1M145.4 173.4h1M139.9 184.9h1M136.1 174.2h1M156.9 164.0h1M147.8 173.5h1M148.5 179.6h1M136.9 171.8h1M147.2 164.1h1M140.5 170.8h1M127.9 191.2h1M128.9 190.0h1M138.8 168.4h1M132.7 190.9h1M138.4 167.3h1M150.5 170.2h1M148.2 171.6h1M139.2 159.6h1M136.7 176.3h1M133.0 192.3h1M154.5 178.0h1M139.5 175.9h1M153.7 168.6h1M152.1 178.0h1M149.6 163.9h1M128.2 186.4h1M127.4 187.1h1M135.4 170.0h1M135.2 187.9h1M140.0 180.1h1M142.9 167.2h1M139.3 193.7h1M136.5 178.6h1M130.5 195.2h1M143.1 182.2h1M134.7 195.5h1M141.2 182.0h1M147.1 172.1h1M135.2 189.3h1M143.2 184.5h1M152.2 167.9h1M142.8 165.9h1M138.4 185.7h1M138.3 181.7h1M140.3 175.6h1M149.2 177.0h1M136.2 186.4h1M132.4 194.0h1M152.2 169.0h1M143.3 164.9h1M137.2 178.2h1M135.3 183.6h1M125.8 191.9h1M144.7 173.3h1M134.0 179.7h1M137.0 186.2h1M137.4 183.4h1M142.8 174.6h1M142.8 178.8h1M136.2 181.8h1M141.3 183.3h1M138.7 177.6h1M143.3 173.5h1M144.9 170.1h1M140.4 185.4h1M143.4 175.2h1M133.7 180.9h1M145.1 188.2h1M144.7 182.4h1M140.0 179.9h1M142.7 180.7h1M139.0 172.7h1M134.2 196.0h1M132.8 185.2h1M151.7 166.0h1M143.0 175.1h1M129.0 186.7h1M137.2 187.5h1M138.9 180.1h1M130.4 190.1h1M135.6 185.0h1M140.7 185.5h1M145.8 171.4h1M148.9 160.6h1M140.4 174.1h1M131.8 190.4h1M141.9 162.0h1M140.7 170.7h1M133.9 184.2h1M124.7 185.0h1M156.0 169.2h1M144.1 171.1h1M142.6 187.3h1M135.6 183.7h1M147.4 166.6h1M129.9 194.3h1M139.0 165.4h1M141.3 166.7h1M135.9 190.0h1M135.5 182.5h1M143.7 175.6h1M133.0 192.3h1M128.8 184.3h1M126.6 189.4h1M131.5 183.5h1M137.8 166.8h1M141.3 166.0h1M150.3 161.8h1M146.3 178.0h1M142.7 186.3h1M139.4 185.2h1M130.9 187.3h1M145.0 162.0h1M149.8 176.7h1M143.7 174.8h1M130.5 186.3h1M128.4 187.5h1M148.5 185.1h1M150.5 167.4h1M149.3 165.7h1M139.7 180.5h1M138.8 178.6h1M150.2 170.2h1M150.3 168.1h1M140.2 192.0h1M140.1 163.3h1M137.1 189.8h1M133.2 191.9h1M138.2 189.8h1M152.5 163.3h1M131.1 175.2h1M147.2 166.9h1M150.6 174.8h1M144.4 178.2h1M128.7 188.4h1M128.6 180.4h1M145.2 181.2h1M144.1 173.0h1M139.9 183.3h1M141.9 168.3h1M149.1 173.4h1M137.9 180.0h1M137.8 180.2h1M126.9 188.6h1M133.8 190.0h1M137.1 186.5h1M134.0 179.5h1M129.7 190.2h1M139.6 183.7h1M131.7 180.5h1M133.6 192.3h1M137.5 191.1h1M144.6 171.1h1M124.9 189.8h1M131.2 192.1h1M134.8 197.8h1M138.3 181.7h1M142.8 162.6h1M153.0 164.5h1M144.3 174.9h1M144.5 183.9h1M146.4 181.4h1M148.3 171.7h1M142.2 172.9h1M128.4 178.6h1M140.1 160.8h1M132.6 189.1h1M132.6 184.5h1M138.8 180.3h1M140.2 169.3h1M143.7 163.8h1M141.5 185.4h1M147.1 169.3h1M141.3 177.0h1M152.9 171.7h1M129.2 189.3h1M145.1 174.1h1M135.0 177.9h1M144.8 167.0h1M141.5 176.8h1M133.1 187.5h1M143.0 167.2h1M145.2 167.2h1M145.0 178.8h1M144.4 164.1h1M132.7 178.5h1M137.0 197.7h1M132.0 178.9h1M145.2 167.2h1M131.7 180.2h1M143.0 165.4h1M143.5 181.9h1M148.8 170.5h1M130.8 190.2h1M144.8 184.3h1M140.4 173.4h1M137.6 192.3h1M143.2 176.6h1M143.1 182.9h1M143.4 172.8h1M144.8 174.2h1M136.7 182.9h1M120.2 186.6h1M150.3 181.6h1M132.6 195.7h1M146.3 168.8h1M145.7 168.2h1M134.3 181.5h1M139.8 173.2h1M148.7 164.5h1M140.5 185.9h1M137.8 184.5h1M139.0 181.8h1M140.8 184.2h1M141.0 170.6h1M145.0 179.4h1M149.2 160.0h1M146.1 173.8h1M128.0 192.0h1M138.8 189.0h1M139.6 169.1h1M151.6 175.8h1M140.5 173.5h1M129.8 190.7h1M134.7 180.1h1M138.7 171.1h1M143.5 170.4h1M143.9 159.4h1M139.0 189.1h1M142.1 173.8h1M127.1 180.0h1M137.0 183.4h1M138.8 184.9h1M134.2 189.5h1M135.4 180.6h1M150.9 159.2h1M121.5 184.5h1M132.9 177.5h1M129.1 175.7h1M140.5 165.1h1M148.5 170.3h1M141.5 186.8h1M146.2 181.3h1M131.5 186.0h1M138.4 184.4h1M136.1 181.3h1M137.6 185.3h1M140.1 179.6h1M142.2 167.2h1M145.4 179.4h1M132.5 185.8h1M130.4 187.9h1M139.0 177.2h1M128.7 190.2h1M137.4 167.0h1M148.1 163.8h1M139.1 183.2h1M144.3 177.8h1M134.0 184.9h1M151.9 173.2h1M127.2 193.2h1M136.6 178.5h1M127.7 176.5h1M145.5 184.3h1M140.8 187.3h1M149.3 175.0h1M142.6 160.7h1M141.4 182.3h1M135.2 171.4h1M142.2 185.6h1M132.6 188.9h1M130.6 189.6h1M146.5 168.2h1M146.8 165.2h1M137.2 197.7h1M151.7 169.3h1M132.0 177.9h1M153.2 164.7h1M122.5 183.8h1M137.7 199.7h1M133.7 183.7h1M142.3 172.1h1M138.3 180.6h1M151.8 179.7h1M144.9 176.8h1M134.3 187.2h1M145.0 175.4h1M130.9 189.5h1M145.7 177.7h1M131.2 187.0h1M128.6 193.0h1M139.3 176.6h1M136.4 195.2h1M130.9 194.6h1M141.2 174.3h1M142.8 160.8h1M139.6 187.7h1M128.7 192.9h1M135.7 187.8h1M145.0 167.9h1M146.3 170.9h1M151.2 162.3h1M144.0 157.6h1M129.0 180.1h1M142.8 171.6h1M127.3 183.2h1M149.7 168.3h1M143.1 173.5h1M155.6 162.5h1M138.0 188.2h1M135.7 191.1h1M130.3 187.8h1M135.8 187.7h1M140.8 185.2h1M136.5 193.4h1M134.9 189.0h1M144.0 170.8h1M139.4 173.1h1M144.6 167.9h1M141.5 171.5h1M150.2 171.3h1M136.3 195.2h1M143.1 171.6h1M130.1 188.8h1M142.2 181.7h1M143.8 183.6h1M140.1 184.0h1M136.8 172.6h1M139.2 165.7h1M137.4 197.6h1M149.4 171.1h1M140.5 173.4h1M133.2 188.9h1M134.6 186.1h1M142.8 174.2h1M142.2 166.3h1M147.6 173.8h1M133.1 183.4h1M133.1 179.2h1M148.2 175.2h1M148.2 165.8h1M151.7 169.7h1M143.7 175.0h1M146.9 175.5h1M150.8 175.4h1M145.9 171.3h1M142.1 184.7h1M146.4 163.1h1M138.4 184.9h1M129.6 173.5h1M149.4 162.1h1M132.2 183.3h1M140.1 163.4h1M138.6 186.6h1M131.4 192.5h1M146.8 171.3h1M129.2 182.8h1M134.7 189.4h1M146.1 187.9h1M149.3 169.0h1M140.5 166.5h1M147.6 172.1h1M146.2 169.8h1M145.5 163.8h1M144.0 164.8h1M135.7 187.0h1M124.0 184.5h1M134.9 196.4h1M147.5 172.7h1M140.2 182.9h1M152.9 163.8h1M152.7 168.6h1M126.1 187.6h1M141.4 177.7h1M142.9 178.8h1M143.8 178.6h1M144.3 167.9h1M138.0 181.1h1M145.8 175.4h1M135.9 190.7h1M152.9 173.2h1M133.2 173.8h1M143.7 173.0h1M136.0 182.6h1M149.1 166.2h1M147.4 167.1h1M129.6 189.3h1M136.1 187.1h1M131.5 180.5h1M143.2 164.1h1M128.1 188.0h1M134.8 188.8h1M146.6 174.6h1M143.3 184.0h1M132.7 178.2h1M140.3 175.6h1M141.2 186.8h1M139.7 179.0h1M143.5 185.3h1M136.3 198.4h1M146.6 163.5h1M135.5 181.5h1M133.3 190.2h1M135.9 178.5h1M144.1 171.7h1M133.1 187.0h1M146.9 183.6h1M143.7 172.6h1M134.2 182.4h1M145.8 169.2h1M141.7 177.9h1M139.4 161.1h1M144.3 161.9h1M134.5 174.7h1M134.8 185.1h1M152.0 163.1h1M127.9 189.6h1M127.3 184.1h1M142.7 180.1h1M138.0 177.5h1M144.7 170.1h1M143.8 176.8h1M135.4 194.6h1M142.3 170.2h1M133.8 179.3h1M132.0 180.4h1M126.2 191.9h1M143.1 174.5h1M150.3 185.8h1M149.3 167.2h1M141.4 170.9h1M145.8 167.5h1M141.7 172.3h1M124.8 189.4h1M124.8 180.0h1M135.3 185.3h1M136.5 188.1h1M129.7 191.0h1M139.6 192.4h1M131.9 192.0h1M134.5 190.9h1M126.7 197.7h1M130.3 177.8h1M142.5 197.3h1M119.2 198.9h1M132.5 188.3h1M142.5 188.7h1M150.1 174.0h1M128.8 191.2h1M130.6 170.4h1M129.4 192.3h1M143.3 186.1h1M136.1 182.6h1M126.1 182.6h1M134.4 197.8h1M139.2 201.1h1M143.1 185.3h1M145.4 183.3h1M124.6 181.7h1M130.2 186.0h1M120.0 181.5h1M138.8 190.5h1M134.2 191.9h1M126.8 171.6h1M140.6 184.9h1M140.6 188.6h1M125.5 189.0h1M126.1 193.8h1M138.3 195.7h1M133.2 174.4h1M139.1 184.7h1M137.8 191.7h1M139.1 183.3h1M134.7 182.6h1M130.8 192.6h1M142.8 180.9h1M142.4 184.3h1M136.1 199.7h1M125.6 183.0h1M137.3 182.4h1M140.6 177.8h1M147.1 186.2h1M124.1 187.6h1M139.6 196.5h1M135.6 177.2h1M127.0 187.7h1M128.7 180.2h1M131.5 188.1h1M134.3 182.1h1M128.2 194.7h1M127.2 193.3h1M132.6 194.9h1M144.7 178.1h1M131.4 167.1h1M147.3 181.9h1M131.2 190.2h1M129.4 191.8h1M133.2 182.9h1M136.5 192.2h1M127.0 191.7h1M141.3 188.5h1M123.8 188.1h1M146.4 187.2h1M140.9 190.7h1M126.5 184.2h1M131.5 197.2h1M131.1 185.2h1M128.1 182.4h1M134.3 181.7h1M134.7 187.0h1M130.5 184.7h1M130.1 196.1h1M136.5 195.0h1M127.3 181.4h1M126.6 177.1h1M132.1 188.2h1M128.0 195.6h1M129.1 193.3h1M134.9 192.5h1M138.9 186.2h1M123.3 181.3h1M128.6 192.9h1M129.1 184.4h1M132.0 187.2h1M133.2 174.3h1M135.8 189.1h1M130.4 189.5h1M130.5 184.8h1M129.1 179.0h1M132.5 203.3h1M135.9 192.7h1M131.6 195.1h1M127.4 187.7h1M127.5 185.6h1M146.6 185.5h1M134.5 181.3h1M138.7 188.8h1M138.0 200.5h1M127.2 179.1h1M129.9 179.0h1M128.4 197.1h1M118.4 189.9h1M137.7 178.9h1M135.8 179.5h1M138.0 190.2h1M132.0 176.5h1M138.5 182.8h1M147.2 176.8h1M116.1 197.5h1M130.5 181.3h1M143.4 184.6h1M138.8 188.5h1M123.4 184.6h1M120.8 188.4h1M147.4 186.5h1M143.5 176.8h1M122.0 195.3h1M129.1 193.3h1M136.0 183.3h1M139.6 184.5h1M138.3 196.2h1M133.8 200.3h1M135.4 178.6h1M137.4 178.0h1M108.1 170.7h1M145.4 165.2h1M136.9 167.9h1M106.6 197.9h1M118.3 180.4h1M128.1 190.0h1M138.1 168.0h1M141.6 170.1h1M123.9 186.8h1M112.3 186.0h1M128.8 178.8h1M136.2 178.2h1M123.7 172.8h1M118.3 193.7h1M123.8 182.1h1M140.0 180.6h1M128.2 174.6h1M129.5 171.5h1M111.8 183.0h1M116.7 179.3h1M129.2 179.9h1M109.9 170.7h1M125.8 169.4h1M131.1 175.7h1M124.8 186.6h1M117.6 175.3h1M124.1 164.7h1M122.3 178.4h1M115.6 197.9h1M132.8 176.6h1M106.0 193.6h1M120.4 190.1h1M141.5 153.7h1M125.5 173.0h1M139.1 174.7h1M130.2 172.0h1M137.4 174.1h1M130.1 180.4h1M129.2 167.1h1M121.5 173.3h1M118.8 188.8h1M128.0 174.0h1M137.8 186.4h1M136.4 170.9h1M136.6 166.5h1M130.0 156.2h1M114.4 185.4h1M132.7 178.7h1M130.4 150.6h1M110.5 175.6h1M123.4 189.1h1M124.5 186.1h1M115.8 181.0h1M117.7 186.4h1M136.0 157.8h1M119.7 183.1h1M133.5 183.0h1M121.9 194.2h1M161.3 169.8h1M127.3 198.5h1M116.6 194.9h1M132.5 166.9h1M127.2 191.8h1M129.0 179.1h1M142.1 163.0h1M120.2 196.5h1M141.0 160.3h1M116.3 180.1h1M124.0 175.0h1M115.9 179.8h1M117.5 197.1h1M140.2 146.0h1M111.4 175.2h1M130.7 184.1h1M132.7 165.7h1M135.2 171.1h1M123.3 181.3h1M116.4 178.7h1M117.5 177.2h1M105.3 184.0h1M132.6 176.9h1M138.2 183.1h1M148.8 172.8h1M117.8 190.5h1M151.8 169.8h1M137.5 167.1h1M142.2 175.8h1M134.9 190.3h1M128.9 168.6h1M124.4 183.3h1M133.6 166.7h1M120.9 175.0h1M120.0 188.1h1M132.8 188.4h1M127.9 198.0h1M128.6 167.6h1M123.7 181.3h1M132.6 199.8h1M144.0 148.9h1M125.5 177.7h1M152.8 177.7h1M119.1 184.1h1M136.2 178.8h1M120.7 184.1h1M120.7 161.8h1M133.7 178.6h1M133.7 142.8h1M94.3 193.5h1M136.2 186.0h1M145.8 165.7h1M108.2 198.0h1M141.1 175.2h1M135.8 185.8h1M132.7 176.9h1M110.8 177.3h1M113.7 177.0h1M117.4 205.3h1M121.0 183.5h1M132.5 189.4h1M111.7 181.2h1M144.7 165.8h1M113.1 166.0h1M141.9 169.8h1M132.0 177.0h1M124.9 197.1h1M109.7 168.2h1M114.6 172.4h1M116.2 179.0h1M137.4 171.5h1M144.0 181.8h1M131.7 189.4h1M119.8 164.6h1M114.1 184.6h1M132.0 192.6h1M142.8 168.9h1M125.6 158.2h1M138.7 172.5h1M144.9 165.2h1M132.7 183.4h1M124.0 181.6h1M131.6 177.9h1M142.7 173.8h1M141.4 165.4h1M134.4 185.0h1M132.1 184.3h1M142.0 170.4h1M128.6 170.2h1M133.4 180.6h1M126.8 192.2h1M120.6 176.5h1M120.6 171.4h1M131.7 178.9h1M131.4 182.3h1M129.9 162.1h1M130.2 179.5h1M139.7 193.9h1M108.2 169.4h1M132.4 177.2h1M132.7 174.3h1M131.8 172.8h1M130.4 172.2h1M124.8 186.7h1M136.3 164.3h1M112.6 187.1h1M147.2 183.3h1M131.2 170.2h1M124.8 191.5h1M130.8 191.1h1M126.2 161.6h1M131.8 165.9h1M114.9 179.9h1M118.5 184.0h1M138.7 179.2h1M132.4 159.9h1M155.1 163.8h1M142.7 190.7h1M123.9 169.1h1M119.7 189.0h1M129.9 185.7h1M95.1 197.9h1M93.6 186.6h1M136.6 166.0h1M122.0 169.3h1M119.8 186.3h1M129.7 161.8h1M120.4 177.1h1M116.2 180.1h1M119.2 187.7h1M130.9 186.2h1M140.6 162.5h1M124.9 186.4h1M134.7 149.5h1M143.6 181.7h1M144.6 173.1h1M138.2 188.6h1M114.1 191.9h1M129.1 163.2h1M119.8 193.2h1M127.3 159.5h1M133.4 168.4h1M123.0 178.2h1M116.6 186.0h1M107.4 176.2h1M137.4 176.9h1M107.4 178.8h1M111.3 192.3h1M120.0 155.1h1M134.3 178.1h1M117.1 188.0h1M135.3 194.0h1M135.8 193.3h1M140.5 147.3h1M98.7 178.0h1M116.5 188.4h1M131.8 184.3h1M127.4 172.8h1M134.3 194.9h1M133.7 170.1h1M120.0 173.2h1M117.8 183.3h1M121.0 186.1h1M131.8 187.2h1M120.1 175.8h1M129.1 174.3h1M141.6 169.3h1M120.7 178.5h1M133.2 170.3h1M139.5 175.2h1M124.3 187.2h1M121.7 173.9h1M116.8 166.2h1M130.0 158.7h1M103.3 198.0h1M134.5 174.6h1M120.2 177.5h1M122.7 169.0h1M132.5 162.6h1M130.7 176.3h1M127.4 168.6h1M136.5 181.5h1M119.3 194.1h1M130.3 176.8h1M116.9 178.1h1M141.5 185.0h1M168.4 87.3h1M169.7 83.9h1M170.7 87.6h1M167.5 92.2h1M167.7 92.3h1M168.7 92.6h1M170.4 85.4h1M170.0 87.6h1M160.8 96.6h1M168.5 85.9h1M160.6 96.1h1M167.9 93.9h1M173.1 84.0h1M166.6 88.6h1M166.6 90.7h1M157.4 101.9h1M167.0 84.4h1M169.0 92.5h1M168.5 90.9h1M166.5 98.3h1M164.7 94.8h1M167.7 90.3h1M160.6 99.0h1M169.3 85.7h1M169.6 86.0h1M163.2 94.4h1M164.4 94.3h1M168.9 89.9h1M167.2 89.5h1M168.4 96.4h1M167.2 90.3h1M166.5 96.8h1M165.8 100.1h1M169.9 85.8h1M171.8 89.5h1M164.7 97.3h1M166.5 88.9h1M168.0 89.0h1M168.4 79.1h1M171.3 82.8h1M173.6 83.2h1M165.9 91.0h1M171.7 84.6h1M165.3 93.2h1M164.1 94.6h1M175.2 79.1h1M164.3 94.2h1M172.0 83.0h1M167.5 93.3h1M169.7 95.7h1M173.4 80.0h1M161.6 99.8h1M167.7 89.5h1M168.8 87.1h1M166.2 94.4h1M164.8 95.6h1M167.2 96.6h1M177.4 80.6h1M160.9 98.8h1M161.7 94.2h1M167.4 92.4h1M165.0 98.0h1M171.7 87.2h1M165.1 95.0h1M166.4 92.6h1M167.6 90.8h1M164.8 94.3h1M169.5 88.7h1M164.0 98.1h1M166.9 90.6h1M168.5 84.8h1M171.9 85.8h1M162.4 96.2h1M163.1 98.3h1M174.1 79.7h1M168.1 83.8h1M160.9 100.0h1M171.1 85.5h1M170.3 89.7h1M170.7 88.5h1M173.8 82.9h1M168.1 91.4h1M172.2 88.5h1M164.8 91.5h1M176.1 84.4h1M172.9 88.9h1M172.8 84.1h1M168.4 87.1h1M166.1 98.5h1M167.5 90.1h1M168.2 90.9h1M169.1 88.8h1M165.7 94.8h1M165.4 92.8h1M166.9 93.9h1M164.4 96.6h1M168.4 88.7h1M166.9 94.8h1M173.5 84.2h1M165.5 92.7h1M161.4 99.1h1M169.5 90.6h1M169.6 82.9h1M172.5 84.8h1M165.7 94.5h1M164.4 91.0h1M166.1 91.6h1M172.1 89.8h1M167.5 93.8h1M157.2 103.1h1M171.1 85.0h1M169.3 87.2h1M163.0 95.5h1M166.1 90.6h1M166.1 92.9h1M164.0 95.1h1M171.3 91.4h1M167.1 98.4h1M167.8 91.6h1M169.9 87.0h1M168.5 84.7h1M173.2 80.4h1M167.3 89.1h1M170.2 88.0h1M173.0 89.6h1M165.3 93.0h1M164.0 101.8h1M165.0 95.8h1M162.4 100.0h1M168.2 90.0h1M168.9 80.0h1M169.1 86.0h1M175.3 78.7h1M170.1 89.2h1M175.2 76.4h1M173.8 80.4h1M168.7 85.3h1M173.8 80.8h1M165.3 91.6h1M165.5 97.0h1M168.4 86.7h1M171.8 81.2h1M170.4 86.5h1M172.7 87.6h1M168.5 89.7h1M166.2 92.9h1M171.5 87.5h1M170.9 86.3h1M168.0 93.2h1M174.0 84.4h1M174.3 81.3h1M158.6 98.2h1M170.2 88.3h1M164.8 97.5h1M168.8 93.4h1M167.3 88.8h1M169.2 85.6h1M170.6 87.5h1M170.6 86.4h1M169.4 88.8h1M164.8 93.1h1M169.4 88.1h1M166.9 91.8h1M166.3 84.3h1M169.7 91.7h1M167.7 89.0h1M159.5 96.4h1M166.5 86.5h1M166.3 92.5h1M166.1 87.0h1M166.2 91.5h1M172.5 79.5h1M171.9 83.0h1M174.4 78.8h1M169.3 94.9h1M170.5 87.9h1M169.9 92.3h1M163.5 92.1h1M169.6 86.9h1M163.9 92.4h1M176.8 79.2h1M170.3 92.4h1M170.7 86.5h1M163.9 90.0h1M167.3 90.5h1M168.5 93.2h1M175.4 84.7h1M171.2 84.0h1M169.7 87.4h1M164.5 91.4h1M165.6 87.5h1M169.5 86.3h1M167.4 95.7h1M168.3 86.9h1M163.0 99.3h1M166.6 93.2h1M165.6 92.0h1M166.0 90.5h1M171.3 79.2h1M162.8 96.7h1M169.6 89.6h1M167.7 93.3h1M164.8 95.5h1M166.0 93.4h1M160.6 95.4h1M166.9 87.0h1M168.3 87.3h1M163.3 95.5h1M166.4 87.3h1M166.8 89.5h1M158.4 103.3h1M167.6 91.2h1M165.6 93.7h1M162.4 93.6h1M162.4 95.1h1M162.2 102.2h1M162.6 94.6h1M160.6 102.0h1M172.4 88.9h1M167.1 97.1h1M168.2 84.7h1M166.5 92.1h1M167.7 88.8h1M164.4 92.6h1M167.8 93.5h1M168.5 90.0h1M168.8 93.7h1M167.5 86.2h1M159.7 93.7h1M164.9 94.0h1M163.0 97.4h1M175.3 84.1h1M172.4 82.2h1M168.8 90.7h1M171.2 89.8h1M162.1 89.3h1M166.8 91.3h1M173.7 79.6h1M167.1 87.3h1M166.9 89.6h1M166.2 91.9h1M172.9 90.5h1M168.3 86.0h1M165.3 92.5h1M169.0 92.4h1M174.5 89.6h1M166.1 87.9h1M167.4 93.2h1M167.6 88.1h1M170.9 91.5h1M168.6 91.9h1M167.0 92.9h1M171.2 89.5h1M166.7 92.9h1M164.1 95.8h1M166.0 94.7h1M164.9 88.9h1M165.3 93.9h1M165.6 97.6h1M166.6 82.2h1M160.0 95.5h1M166.3 95.0h1M172.4 85.9h1M165.7 93.7h1M167.5 93.2h1M162.6 97.5h1M170.2 91.9h1M159.9 98.1h1M173.2 88.2h1M166.0 92.6h1M168.5 86.6h1M167.4 93.7h1M162.8 96.4h1M168.5 96.0h1M171.7 83.0h1M166.5 87.8h1M163.7 88.9h1M172.3 84.5h1M166.1 101.3h1M168.0 93.0h1M171.0 85.6h1M160.7 92.1h1M166.9 86.7h1M167.4 92.7h1M171.7 82.7h1M169.9 87.2h1M168.7 89.1h1M168.1 92.2h1M164.8 92.5h1M164.5 97.8h1M166.7 96.4h1M160.9 100.1h1M168.3 92.0h1M168.8 88.4h1M174.0 79.3h1M169.6 88.6h1M172.7 82.1h1M163.1 94.5h1M165.4 93.3h1M168.8 88.0h1M167.2 94.8h1M173.0 87.5h1M168.0 83.9h1M164.2 88.7h1M165.1 91.6h1M169.0 92.8h1M163.0 92.9h1M171.4 80.7h1M164.7 87.7h1M171.7 81.5h1M164.3 94.5h1M176.1 81.8h1M169.7 94.5h1M167.7 90.7h1M170.8 87.6h1M172.7 85.3h1M173.2 82.9h1M169.2 90.0h1M161.8 93.1h1M174.3 83.1h1M169.0 91.7h1M161.4 94.0h1M162.0 95.3h1M167.1 92.4h1M161.3 101.7h1M168.1 92.3h1M168.9 94.6h1M174.2 83.7h1M174.8 88.9h1M166.8 90.6h1M158.6 100.7h1M161.7 94.3h1M167.8 93.4h1M172.5 88.6h1M160.8 97.9h1M166.8 91.9h1M160.7 96.0h1M175.4 85.2h1M166.8 92.8h1M166.3 96.3h1M166.8 88.6h1M165.9 94.4h1M168.4 94.2h1M168.6 90.3h1M163.2 91.4h1M164.5 92.4h1M172.8 81.9h1M169.0 90.8h1M166.5 93.8h1M174.9 83.7h1M169.5 87.7h1M170.3 82.0h1M167.8 94.5h1M168.3 91.4h1M166.9 85.9h1M170.2 86.6h1M164.6 90.7h1M178.9 83.1h1M164.0 95.4h1M170.1 87.3h1M169.0 92.5h1M165.0 89.9h1M168.8 91.6h1M175.7 78.5h1M166.6 94.0h1M159.4 97.6h1M172.7 85.2h1M166.6 86.8h1M169.7 88.1h1M171.2 87.1h1M175.5 81.4h1M167.2 94.9h1M164.1 89.8h1M173.8 88.3h1M166.9 91.3h1M169.0 89.2h1M165.6 97.6h1M169.4 95.1h1M169.4 85.3h1M157.2 106.4h1M169.7 88.5h1M162.3 104.0h1M176.8 78.8h1M176.0 86.9h1M174.8 83.2h1M172.6 81.4h1M164.1 93.8h1M168.1 89.7h1M165.1 94.7h1M168.8 86.7h1M167.7 91.8h1M171.5 88.8h1M165.9 92.3h1M170.5 90.7h1M166.5 95.2h1M167.0 93.4h1M168.2 95.7h1M169.8 93.2h1M167.7 86.5h1M172.4 85.0h1M166.2 95.2h1M168.9 84.9h1M162.6 92.6h1M172.8 82.8h1M166.4 89.2h1M164.9 94.2h1M165.5 89.4h1M172.0 87.0h1M166.2 88.7h1M167.4 86.0h1M167.5 89.9h1M175.7 79.1h1M169.8 83.7h1M169.7 89.1h1M167.5 86.6h1M178.9 80.8h1M170.1 88.7h1M169.8 89.5h1M165.1 95.0h1M171.7 85.3h1M163.5 91.2h1M168.2 91.3h1M177.0 79.6h1M163.8 93.2h1M172.0 85.2h1M164.7 91.0h1M164.7 98.6h1M166.0 93.5h1M168.8 95.1h1M169.2 91.8h1M166.0 91.3h1M167.1 92.6h1M170.7 93.5h1M174.1 86.3h1M169.9 85.7h1M163.7 93.0h1M167.2 89.3h1M165.1 91.4h1M171.0 84.0h1M168.4 100.9h1M170.8 88.0h1M173.2 88.4h1M165.1 90.8h1M167.4 93.1h1M170.9 89.5h1M160.0 95.7h1M164.5 92.9h1M160.5 95.4h1M167.1 86.3h1M163.2 94.3h1M168.2 92.8h1M162.8 101.8h1M165.2 92.6h1M169.7 84.0h1M172.1 90.0h1M172.5 83.6h1M158.2 103.9h1M162.0 106.1h1M173.5 81.3h1M167.3 86.6h1M165.3 98.2h1M170.0 85.4h1M167.1 86.0h1M171.2 89.3h1M168.3 86.5h1M170.0 85.1h1M171.4 87.7h1M171.2 90.1h1M166.3 85.1h1M169.7 89.1h1M170.2 90.7h1M170.7 91.5h1M167.1 91.4h1M167.4 88.1h1M171.3 87.1h1M165.2 88.9h1M170.2 92.3h1M173.1 81.0h1M171.8 79.3h1M169.2 89.7h1M167.8 95.0h1M174.1 83.6h1M160.9 96.3h1M176.0 84.1h1M173.3 84.2h1M166.6 92.5h1M167.5 90.6h1M166.6 96.6h1M169.6 89.7h1M164.5 95.6h1M163.8 97.3h1M169.1 89.5h1M166.2 93.4h1M167.7 90.7h1M167.5 91.9h1M168.0 95.7h1M166.9 88.0h1M161.9 92.8h1M168.2 86.9h1M166.9 93.5h1M171.3 83.8h1M166.5 92.6h1M171.5 87.7h1M171.6 86.3h1M168.5 91.3h1M165.2 97.4h1M171.4 87.2h1M162.9 96.2h1M168.6 87.8h1M162.7 97.7h1M164.7 91.1h1M166.8 90.5h1M164.1 92.0h1M167.5 88.4h1M166.8 85.5h1M165.9 88.0h1M170.8 90.8h1M169.9 81.8h1M171.1 87.0h1M170.2 89.0h1M167.8 94.1h1M163.4 95.5h1M166.3 93.7h1M170.7 85.6h1M168.7 90.0h1M170.9 87.2h1M164.9 98.1h1M161.6 99.5h1M167.4 89.1h1M158.1 102.1h1M165.0 90.7h1M162.4 98.5h1M169.2 90.7h1M168.6 87.8h1M164.4 97.4h1M173.7 86.4h1M167.7 88.0h1M169.2 92.6h1M164.9 95.7h1M163.1 94.0h1M165.3 91.0h1M171.3 86.4h1M167.3 90.9h1M163.3 99.6h1M158.8 96.8h1M170.6 90.6h1M168.9 93.2h1M168.7 84.9h1M168.4 87.1h1M174.1 88.4h1M173.2 85.5h1M170.5 85.8h1M168.5 88.3h1M161.4 100.2h1M171.6 87.7h1M170.4 85.6h1M170.6 88.1h1M162.9 95.6h1M166.1 85.6h1M171.7 85.2h1M168.6 87.3h1M168.9 93.4h1M161.6 100.8h1M166.3 95.3h1M171.9 79.6h1M169.6 90.7h1M168.4 83.2h1M169.1 92.2h1M164.6 96.1h1M174.2 84.7h1M172.5 89.5h1M174.2 85.5h1M166.8 88.5h1M162.3 94.7h1M173.5 83.2h1M167.5 92.0h1M169.8 88.8h1M167.5 87.3h1M169.1 84.4h1M169.8 87.8h1M175.4 85.0h1M166.0 89.5h1M172.4 85.2h1M174.2 82.7h1M166.6 91.0h1M159.6 92.3h1M168.8 91.3h1M168.9 81.3h1M168.9 88.3h1M168.9 83.2h1M166.7 89.1h1M163.4 100.6h1M161.5 92.1h1M161.0 95.5h1M160.4 98.7h1M165.5 90.4h1M171.7 84.7h1M169.6 87.0h1M169.7 88.2h1M169.7 87.7h1M167.0 91.8h1M176.4 84.0h1M168.9 85.0h1M170.6 87.3h1M160.6 100.7h1M172.7 85.9h1M166.9 81.0h1M166.4 89.4h1M163.1 98.9h1M171.0 85.3h1M168.7 93.8h1M164.2 89.7h1M170.9 94.7h1M167.9 91.9h1M163.9 94.9h1M167.8 87.4h1M170.6 82.6h1M166.7 89.6h1M164.2 95.9h1M165.2 90.9h1M168.0 91.6h1M166.3 90.8h1M170.1 89.3h1M166.1 89.7h1M168.2 90.4h1M166.7 89.1h1M165.9 97.5h1M169.3 88.1h1M171.7 85.7h1M172.1 90.7h1M168.9 89.7h1M176.1 75.3h1M169.0 88.1h1M174.3 79.1h1M166.6 94.8h1M168.4 96.6h1M166.2 99.6h1M164.3 95.3h1M164.9 95.0h1M169.7 92.0h1M170.0 90.0h1M162.7 89.2h1M166.6 89.1h1M164.8 93.3h1M163.7 94.1h1M164.6 95.5h1M167.5 92.9h1M170.2 82.5h1M161.4 103.3h1M170.2 86.9h1M171.5 87.6h1M169.8 94.6h1M169.1 86.8h1M169.5 80.9h1M164.8 93.3h1M168.8 88.8h1M165.6 92.2h1M166.7 91.4h1M166.1 89.3h1M168.7 91.1h1M168.3 95.1h1M167.6 93.7h1M170.3 83.3h1M173.3 82.6h1M170.0 89.0h1M169.3 84.7h1M166.8 91.7h1M165.1 91.5h1M171.7 91.0h1M173.5 85.5h1M169.2 89.2h1M160.1 94.4h1M172.4 86.3h1M173.4 78.0h1M171.0 89.4h1M164.7 99.9h1M171.0 90.5h1M174.8 80.4h1M165.7 90.4h1M170.0 88.5h1M167.8 91.9h1M164.1 84.2h1M159.7 99.9h1M166.7 94.8h1M166.2 91.6h1M172.0 89.3h1M168.7 89.7h1M166.2 95.0h1M167.9 92.4h1M164.9 96.8h1M167.4 96.2h1M165.7 92.6h1M167.4 87.5h1M171.3 80.1h1M167.2 92.0h1M164.1 91.4h1M166.4 88.6h1M160.7 102.0h1M169.7 86.4h1M171.0 85.2h1M168.0 96.9h1M166.8 93.4h1M173.0 80.8h1M168.2 89.9h1M164.5 91.4h1M166.0 93.8h1M174.5 82.6h1M170.2 92.4h1M166.2 94.6h1M169.6 88.5h1M174.7 81.6h1M165.1 95.5h1M161.3 98.8h1M170.1 80.0h1M167.3 89.4h1M172.7 84.9h1M172.0 86.7h1M164.2 96.7h1M162.5 97.8h1M171.3 83.3h1M165.5 92.7h1M167.0 86.8h1M168.0 98.0h1M170.2 85.9h1M165.6 94.3h1M165.4 95.8h1M170.1 83.6h1M168.5 85.5h1M166.4 90.1h1M171.7 84.7h1M164.9 97.5h1M170.4 84.2h1M172.0 82.3h1M168.8 85.8h1M167.6 91.7h1M165.4 94.8h1M169.9 90.4h1M166.5 97.0h1M169.6 89.7h1M166.7 91.4h1M166.6 90.4h1M169.4 89.2h1M164.6 94.7h1M168.8 90.5h1M169.9 90.6h1M161.7 97.2h1M174.2 83.3h1M167.5 91.5h1M164.9 89.3h1M172.9 86.3h1M170.5 86.2h1M160.4 99.1h1M175.5 81.5h1M175.3 83.2h1M164.7 91.4h1M169.6 87.2h1M167.6 85.9h1M164.2 94.7h1M169.1 89.3h1M169.4 88.7h1M173.3 82.3h1M163.2 102.9h1M168.3 92.8h1M165.2 95.7h1M173.2 83.6h1M164.8 95.1h1M163.7 94.6h1M163.7 93.5h1M168.2 89.3h1M170.0 89.5h1M168.3 87.5h1M163.4 89.7h1M168.8 91.4h1M164.9 94.0h1M166.9 94.7h1M166.2 93.8h1M162.5 94.4h1M173.1 78.7h1M167.2 89.6h1M164.3 87.5h1M170.3 94.4h1M166.3 90.9h1M172.9 81.6h1M171.8 79.7h1M166.7 92.6h1M169.1 91.5h1M177.2 82.6h1M163.5 95.2h1M171.0 91.6h1M171.2 86.9h1M163.6 91.6h1M173.5 86.7h1M162.4 96.6h1M171.6 87.2h1M174.1 83.1h1M163.8 95.6h1M169.3 87.1h1M174.8 83.0h1M165.5 91.5h1M166.7 88.8h1M170.0 92.0h1M163.3 96.9h1M170.8 92.2h1M171.5 79.8h1M167.7 90.6h1M172.7 83.5h1M156.5 104.0h1M170.0 92.6h1M160.0 102.0h1M161.1 93.9h1M169.9 89.6h1M170.4 81.4h1M166.9 92.5h1M174.0 83.3h1M172.0 93.3h1M166.5 90.8h1M163.3 97.7h1M163.0 95.7h1M164.6 93.0h1M168.9 91.6h1M176.0 82.7h1M175.4 82.3h1M167.4 81.7h1M169.9 90.6h1M169.5 87.6h1M170.5 82.3h1M161.9 96.2h1M163.9 88.3h1M171.8 86.6h1M164.4 95.1h1M173.8 82.2h1M168.4 86.8h1M167.7 87.2h1M170.1 89.5h1M168.0 93.2h1M169.6 87.7h1M166.5 92.0h1M167.5 93.6h1M171.0 92.8h1M173.1 83.9h1M164.5 95.3h1M170.3 85.9h1M172.6 85.6h1M167.2 90.6h1M167.2 92.4h1M171.0 88.1h1M165.0 92.6h1M164.7 99.9h1M176.7 85.4h1M162.3 96.4h1M167.6 94.3h1M162.7 92.0h1M169.0 92.0h1M168.0 83.8h1M168.9 94.2h1M168.8 92.9h1M166.2 86.7h1M165.1 92.7h1M166.4 85.5h1M175.7 86.2h1M172.5 89.7h1M174.9 81.1h1M168.4 85.7h1M170.6 87.3h1M159.5 103.8h1M168.3 94.3h1M175.1 87.8h1M165.9 97.7h1M169.3 92.6h1M171.0 86.1h1M171.6 84.4h1M170.4 90.4h1M168.2 90.3h1M168.8 87.8h1M159.4 99.1h1M166.9 87.8h1M164.0 93.8h1M165.1 90.4h1M161.1 95.9h1M161.2 99.7h1M165.4 90.1h1M169.9 88.1h1M169.5 88.4h1M163.7 97.7h1M163.0 92.8h1M165.7 96.3h1M167.3 87.0h1M170.2 85.0h1M170.4 88.1h1M168.3 86.6h1M177.6 84.7h1M168.4 91.1h1M168.0 91.1h1M173.5 86.9h1M159.9 94.8h1M166.0 97.7h1M166.6 88.8h1M173.0 79.9h1M161.3 92.4h1M170.1 91.0h1M165.5 93.8h1M167.7 84.8h1M169.3 88.0h1M170.5 91.2h1M164.5 92.2h1M167.2 92.3h1M160.6 97.5h1M164.0 95.4h1M173.2 89.9h1M159.2 103.4h1M172.0 82.0h1M166.9 96.5h1M166.5 85.9h1M173.4 82.5h1M160.2 105.0h1M160.2 95.8h1M166.3 95.3h1M172.0 92.9h1M174.6 86.5h1M172.8 79.6h1M167.7 93.0h1M171.9 82.6h1M166.6 90.7h1M169.9 93.9h1M171.7 85.6h1M165.2 94.6h1M163.7 96.8h1M170.1 83.0h1M166.8 87.1h1M167.7 89.6h1M169.4 89.2h1M161.2 100.3h1M172.9 89.1h1M175.7 81.6h1M167.3 89.6h1M169.9 86.9h1M172.4 91.3h1M175.3 85.9h1M171.7 87.8h1M158.8 99.8h1M169.6 85.1h1M170.9 84.6h1M162.3 100.4h1M168.0 91.6h1M172.4 86.2h1M169.6 80.6h1M166.3 93.3h1M178.7 78.4h1M170.9 88.1h1M168.7 89.4h1M169.3 87.1h1M169.6 86.7h1M169.4 84.4h1M164.8 94.8h1M172.6 88.1h1M170.0 87.4h1M181.0 76.7h1M169.3 87.3h1M166.8 90.2h1M168.2 94.4h1M167.0 87.6h1M166.8 90.5h1M161.2 95.3h1M164.0 96.2h1M165.8 90.0h1M165.6 90.9h1M172.1 81.4h1M170.4 84.5h1M169.8 90.4h1M173.8 86.4h1M173.5 95.4h1M165.2 95.7h1M164.5 99.9h1M167.0 88.5h1M170.4 87.7h1M171.3 84.6h1M159.8 103.1h1M165.8 94.9h1M167.7 89.6h1M166.7 90.6h1M159.9 99.7h1M167.1 89.8h1M167.6 92.6h1M168.7 83.6h1M167.3 97.7h1M175.3 83.3h1M163.1 94.5h1M175.8 82.8h1M169.0 90.8h1M169.6 84.2h1M165.9 90.4h1M164.9 96.4h1M171.2 82.7h1M167.2 92.2h1M171.1 84.2h1M167.8 96.2h1M162.9 93.0h1M170.3 92.4h1M171.5 82.6h1M166.9 92.7h1M179.5 80.9h1M166.6 88.4h1M171.5 80.5h1M161.5 95.8h1M163.4 88.9h1M170.3 84.4h1M176.8 86.4h1M166.0 90.8h1M175.5 78.1h1M166.5 95.7h1M170.4 89.0h1M169.8 79.7h1M172.5 85.4h1M172.6 90.0h1M175.0 85.9h1M163.2 91.0h1M172.0 85.4h1M165.9 98.1h1M166.7 95.5h1M170.9 83.7h1M172.1 85.5h1M168.5 91.2h1M164.1 94.5h1M168.0 90.9h1M166.5 93.1h1M172.5 81.2h1M176.0 77.3h1M164.4 93.3h1M172.5 89.6h1M170.4 87.9h1M172.1 88.0h1M170.4 88.3h1M173.2 86.4h1M160.2 100.2h1M167.2 92.6h1M164.2 91.5h1M167.7 92.0h1M164.6 96.5h1M163.6 90.5h1M163.8 89.8h1M168.1 86.1h1M170.4 88.7h1M163.3 94.3h1M163.4 95.4h1M159.2 95.5h1M172.0 96.5h1M165.7 92.5h1M164.1 91.1h1M168.0 84.4h1M170.8 90.4h1M170.9 85.4h1M169.7 88.7h1M170.2 88.1h1M171.3 84.7h1M172.8 85.5h1M180.8 79.8h1M167.3 89.4h1M166.7 92.4h1M163.5 99.4h1M172.5 85.2h1M176.6 82.8h1M169.1 89.9h1M166.6 91.0h1M166.6 95.4h1M165.7 88.0h1M160.1 102.4h1M171.5 86.4h1M168.9 96.1h1M168.9 86.6h1M173.9 80.8h1M162.4 98.5h1M164.8 90.2h1M164.8 94.5h1M164.3 94.5h1M170.7 84.7h1M171.8 85.6h1M173.4 89.0h1M169.2 86.9h1M168.2 92.7h1M169.4 89.0h1M170.5 85.4h1M172.4 86.4h1M169.4 93.3h1M171.2 88.5h1M166.7 93.4h1M164.4 97.7h1M174.0 79.8h1M170.2 90.7h1M168.9 90.3h1M165.5 93.3h1M167.8 88.7h1M167.2 92.8h1M168.6 84.7h1M172.5 81.9h1M164.2 90.8h1M168.1 95.7h1M170.9 92.0h1M169.6 89.6h1M165.2 90.7h1M163.3 96.8h1M172.5 90.3h1M170.0 90.2h1M170.2 91.6h1M170.5 95.7h1M171.8 92.1h1M169.6 92.2h1M166.2 94.6h1M168.2 89.0h1M167.8 91.0h1M171.0 89.1h1M169.6 92.4h1M170.6 88.1h1M163.3 97.8h1M169.4 90.8h1M166.4 100.3h1M174.8 82.7h1M165.6 88.6h1M170.2 87.6h1M167.9 91.8h1M171.2 90.1h1M167.4 87.7h1M166.3 90.9h1M161.4 96.4h1M168.2 96.0h1M169.7 88.9h1M171.9 87.7h1M168.6 93.1h1M165.7 93.5h1M164.9 88.3h1M169.3 95.2h1M166.8 85.6h1M161.9 100.4h1M165.1 96.8h1M170.9 85.4h1M169.4 89.6h1M176.5 78.7h1M165.3 95.5h1M173.4 84.3h1M166.1 86.7h1M171.2 79.6h1M175.4 83.6h1M163.0 93.3h1M166.4 93.8h1M169.4 94.2h1M177.2 78.0h1M168.5 85.3h1M164.6 95.8h1M162.4 98.5h1M169.8 87.4h1M170.3 89.0h1M165.8 91.4h1M169.9 88.9h1M164.9 99.8h1M168.3 88.8h1M170.6 88.6h1M172.3 89.6h1M167.1 93.8h1M168.3 88.4h1M163.2 89.4h1M158.3 99.9h1M161.1 102.3h1M170.9 85.6h1M164.9 95.3h1M176.7 90.5h1M166.6 95.0h1M169.3 86.8h1M175.8 84.8h1M178.8 80.1h1M167.8 91.2h1M175.1 82.0h1M170.5 88.1h1M157.4 105.8h1M158.4 101.2h1M172.5 88.5h1M174.4 84.8h1M166.2 90.3h1M168.8 90.8h1M164.8 92.8h1M163.9 92.6h1M173.3 84.8h1M167.6 91.0h1M166.2 93.0h1M170.7 87.4h1M167.2 93.8h1M170.5 89.2h1M165.6 91.3h1M169.8 88.3h1M168.8 91.9h1M160.3 97.2h1M172.2 85.2h1M169.0 84.5h1M168.5 89.6h1M168.0 93.4h1M173.1 84.0h1M165.3 94.6h1M169.7 88.2h1M168.5 86.2h1M172.5 88.2h1M165.8 89.7h1M163.8 89.7h1M174.0 80.0h1M164.1 93.1h1M163.0 99.5h1M162.6 97.2h1M166.5 88.7h1M163.6 92.8h1M168.8 84.8h1M169.2 82.6h1M161.9 99.1h1M164.9 100.9h1M165.6 90.5h1M167.2 88.1h1M163.3 96.1h1M166.0 92.4h1M161.7 99.4h1M172.6 88.4h1M172.5 83.1h1M168.8 89.0h1M169.5 88.1h1M168.2 85.7h1M170.6 82.6h1M167.9 82.0h1M169.4 85.6h1M169.9 84.5h1M163.7 96.3h1M171.8 88.3h1M162.2 90.8h1M171.3 88.1h1M171.6 91.4h1M168.6 89.2h1M170.5 86.8h1M172.1 90.4h1M168.7 92.0h1M175.6 80.6h1M167.4 87.9h1M169.2 86.4h1M169.0 91.7h1M168.3 93.6h1M166.2 93.5h1M171.1 90.8h1M171.3 91.4h1M167.5 84.3h1M166.6 91.4h1M171.8 82.9h1M172.3 85.3h1M164.9 104.5h1M162.1 96.1h1M165.5 91.2h1M170.1 90.2h1M168.4 86.2h1M169.0 87.6h1M169.3 92.7h1M176.4 83.4h1M166.9 98.3h1M168.8 93.6h1M165.6 93.1h1M168.7 89.3h1M171.7 89.7h1M167.6 89.4h1M171.1 88.6h1M167.3 89.4h1M174.3 84.9h1M167.7 93.6h1M164.4 91.1h1M169.4 86.8h1M168.6 87.7h1M171.2 88.9h1M167.8 89.6h1M160.0 94.1h1M169.2 88.4h1M166.2 93.9h1M168.6 85.0h1M171.7 89.8h1M170.6 91.0h1M164.4 90.5h1M171.6 85.3h1M163.8 87.3h1M161.9 96.0h1M169.3 83.6h1M174.2 80.4h1M171.7 85.5h1M169.8 88.5h1M164.7 93.2h1M166.3 90.8h1M171.6 86.8h1M170.2 85.0h1M171.3 91.1h1M171.5 84.7h1M174.2 80.5h1M169.7 90.2h1M170.0 86.1h1M172.0 88.3h1M172.1 87.6h1M173.3 83.7h1M164.4 91.3h1M164.7 94.9h1M166.5 91.7h1M166.9 93.0h1M166.5 93.4h1M170.4 85.9h1M171.2 85.4h1M165.2 94.1h1M159.5 99.9h1M161.4 99.3h1M166.8 89.7h1M167.9 90.6h1M162.2 94.1h1M171.6 91.9h1M173.2 86.7h1M168.8 90.4h1M169.2 86.7h1M162.5 100.5h1M169.3 87.1h1M168.1 94.1h1M168.7 89.7h1M163.0 97.7h1M162.1 91.4h1M163.9 93.4h1M165.2 95.5h1M166.5 88.0h1M167.0 91.0h1M169.3 91.7h1M174.5 86.2h1M168.9 87.1h1M164.1 84.6h1M170.4 86.9h1M169.9 89.8h1M169.1 82.8h1M172.1 88.9h1M166.8 91.7h1M170.2 93.1h1M170.3 86.7h1M166.0 93.9h1M166.4 88.7h1M169.4 90.9h1M168.0 91.4h1M166.6 89.8h1M170.8 88.5h1M170.9 84.3h1M177.1 83.0h1M170.7 88.4h1M170.6 86.5h1M171.0 85.1h1M166.3 99.8h1M164.3 96.2h1M171.6 86.8h1M167.8 86.7h1M168.0 93.3h1M170.9 86.5h1M164.7 92.4h1M162.8 94.4h1M171.3 89.5h1M169.5 88.1h1M171.6 87.3h1M178.7 77.3h1M169.5 93.9h1M173.4 87.4h1M165.6 92.2h1M167.5 90.2h1M164.7 87.6h1M173.4 82.3h1M168.0 91.4h1M159.9 96.3h1M158.9 103.8h1M172.5 83.7h1M168.5 89.2h1M172.2 84.6h1M165.2 90.1h1M164.4 95.6h1M169.2 96.4h1M171.8 84.3h1M164.5 93.4h1M169.5 86.9h1M174.5 86.2h1M160.1 96.8h1M176.2 85.2h1M168.2 87.8h1M170.0 89.2h1M169.7 90.6h1M169.9 84.1h1M166.3 91.6h1M172.6 86.3h1M168.7 88.7h1M167.2 85.5h1M167.4 92.8h1M170.4 82.2h1M171.4 87.1h1M166.1 92.9h1M165.8 87.7h1M168.9 92.2h1M169.9 87.9h1M172.9 87.2h1M162.6 98.7h1M168.7 86.7h1M168.3 82.4h1M169.7 87.5h1M166.0 88.9h1M169.9 85.4h1M161.3 91.7h1M163.1 90.2h1M167.7 93.9h1M169.1 92.2h1M177.6 74.4h1M175.3 88.9h1M154.3 58.3h1M172.3 87.2h1M164.8 87.3h1M156.4 99.2h1M170.8 91.4h1M159.7 79.9h1M159.2 88.3h1M158.1 78.8h1M165.3 84.2h1M163.0 82.3h1M168.3 112.8h1M165.2 81.3h1M169.7 82.3h1M162.3 89.1h1M165.8 104.6h1M165.6 78.6h1M170.5 98.0h1M171.9 94.9h1M174.4 78.5h1M149.6 87.0h1M176.5 102.9h1M165.8 69.8h1M171.3 73.9h1M157.3 70.4h1M166.2 79.6h1M175.9 85.9h1M174.8 76.3h1M175.0 89.2h1M168.7 88.9h1M161.6 94.0h1M165.6 85.9h1M153.3 88.4h1M163.1 82.1h1M160.0 98.9h1M164.6 89.0h1M166.0 97.2h1M168.4 79.5h1M170.9 87.5h1M169.1 86.5h1M167.6 77.7h1M167.6 82.9h1M174.3 70.8h1M163.8 80.0h1M166.7 106.6h1M160.5 89.2h1M165.1 75.4h1M172.7 92.7h1M179.8 95.3h1M167.9 104.8h1M173.0 91.8h1M166.6 95.9h1M172.4 88.2h1M157.6 81.7h1M169.9 89.2h1M170.3 84.6h1M152.8 78.7h1M167.9 103.3h1M159.9 86.8h1M165.9 79.2h1M168.6 83.9h1M168.8 96.0h1M170.5 85.1h1M167.3 81.2h1M172.6 98.4h1M163.9 81.2h1M172.4 93.7h1M158.9 89.6h1M170.4 81.9h1M164.2 97.6h1M166.0 94.4h1M169.3 94.4h1M168.6 87.7h1M173.1 85.2h1M158.9 60.0h1M168.2 84.6h1M159.0 86.5h1M159.2 97.5h1M180.8 106.8h1M165.8 88.4h1M175.1 108.5h1M167.0 86.9h1M159.7 99.1h1M174.3 97.2h1M169.2 71.5h1M175.1 102.1h1M175.3 76.4h1M165.3 86.9h1M166.2 79.9h1M161.5 82.6h1M162.4 77.8h1M161.4 85.2h1M163.7 101.6h1M161.5 78.1h1M169.1 96.8h1M162.3 92.7h1M164.0 95.1h1M162.4 92.9h1M158.9 97.0h1M162.7 95.3h1M163.7 79.0h1M166.8 74.4h1M174.8 95.6h1M172.7 91.4h1M168.1 102.3h1M164.1 88.9h1M164.6 86.5h1M164.7 79.9h1M156.1 72.4h1M170.6 89.9h1M168.9 101.0h1M164.9 86.7h1M161.9 95.9h1M176.1 93.6h1M174.4 72.1h1M160.2 91.6h1M176.3 76.1h1M165.0 89.8h1M172.3 92.1h1M155.3 87.4h1M167.2 87.2h1M174.9 96.3h1M169.4 105.8h1M172.0 78.1h1M167.5 84.3h1M172.4 80.1h1M178.2 76.2h1M161.7 93.2h1M166.7 82.3h1M162.4 98.8h1M155.9 100.2h1M160.1 88.0h1M167.7 78.2h1M172.3 87.5h1M170.7 86.8h1M167.2 81.8h1M167.6 98.9h1M161.3 87.3h1M165.0 78.4h1M165.7 93.4h1M150.2 77.4h1M174.9 96.1h1M163.0 86.4h1M159.5 101.8h1M170.3 87.9h1M166.6 74.3h1M177.3 80.0h1M163.5 90.9h1M160.0 84.2h1M173.0 84.6h1M164.8 92.6h1M171.5 73.5h1M169.1 82.7h1M154.4 79.9h1M159.1 89.0h1M159.4 94.8h1M174.6 84.8h1M166.9 119.9h1M168.5 120.5h1M168.5 120.2h1M171.3 118.2h1M171.7 118.3h1M171.1 114.8h1M172.2 121.5h1M167.2 116.8h1M166.6 119.1h1M165.4 118.2h1M172.5 116.6h1M170.6 113.6h1M167.1 118.2h1M172.1 116.9h1M168.7 114.0h1M168.4 120.7h1M167.1 117.5h1M170.5 115.4h1M171.0 115.2h1M170.7 120.1h1M169.3 115.5h1M169.4 115.6h1M169.7 111.5h1M168.9 115.9h1M161.9 115.0h1M168.5 119.0h1M168.5 120.1h1M170.8 119.4h1M168.7 112.5h1M169.2 117.4h1M168.6 120.4h1M167.3 116.0h1M164.9 116.1h1M168.0 116.4h1M170.2 112.8h1M170.6 115.6h1M173.5 116.1h1M174.6 117.2h1M170.1 116.8h1M170.6 116.7h1M168.6 115.6h1M170.2 121.7h1M167.0 120.0h1M168.6 118.6h1M170.2 117.3h1M172.0 120.5h1M168.0 114.5h1M168.5 118.8h1M172.8 118.7h1M169.3 116.3h1M170.9 112.1h1M172.8 112.6h1M170.4 120.0h1M168.9 113.7h1M174.0 118.5h1M169.0 116.2h1M171.0 115.5h1M167.3 117.5h1M175.3 120.1h1M168.6 118.7h1M175.0 120.0h1M169.0 113.9h1M169.3 115.1h1M165.9 119.8h1M166.6 116.6h1M170.3 115.8h1M172.7 112.7h1M168.0 115.4h1M169.9 115.2h1M172.7 118.0h1M169.8 116.3h1M168.1 112.0h1M170.4 111.4h1M169.7 119.4h1M169.0 112.9h1M172.4 112.6h1M164.3 113.1h1M174.9 115.0h1M170.8 117.4h1M166.6 116.4h1M171.5 114.7h1M170.3 115.2h1M173.4 114.3h1M172.7 115.7h1M169.7 114.6h1M171.9 116.7h1M174.6 113.7h1M174.6 115.4h1M171.6 117.1h1M170.3 114.0h1M168.0 115.1h1M171.4 117.8h1M172.2 115.8h1M170.8 115.5h1M164.2 115.8h1M169.0 116.6h1M168.4 109.4h1M170.5 117.1h1M169.6 115.8h1M169.9 121.1h1M169.5 112.3h1M172.5 119.6h1M167.6 115.9h1M170.7 115.4h1M167.8 116.6h1M172.2 116.2h1M171.2 112.9h1M170.7 117.2h1M172.8 117.7h1M171.9 113.4h1M173.7 118.1h1M166.1 116.6h1M170.3 117.8h1M168.1 117.6h1M174.3 116.5h1M171.7 120.9h1M169.4 116.2h1M172.9 112.3h1M169.8 118.3h1M170.7 111.9h1M169.4 116.4h1M173.5 115.4h1M170.4 110.3h1M174.1 111.7h1M167.9 121.8h1M170.6 114.1h1M167.5 110.0h1M172.8 113.4h1M169.9 114.9h1M167.2 118.3h1M172.6 111.7h1M172.9 115.9h1M170.2 115.8h1M168.3 115.3h1M171.2 118.7h1M175.1 115.4h1M167.5 110.4h1M165.3 115.6h1M170.1 114.0h1M166.2 115.2h1M165.4 117.1h1M171.0 109.7h1M171.5 115.9h1M172.7 116.4h1M171.4 112.9h1M172.2 110.7h1M170.6 119.3h1M174.7 118.2h1M169.3 111.8h1M168.3 114.0h1M174.8 113.8h1M172.3 115.2h1M170.1 112.7h1M170.7 117.6h1M168.7 116.3h1M167.9 118.4h1M165.0 115.9h1M165.1 120.3h1M171.7 113.2h1M169.0 118.0h1M168.1 117.8h1M168.7 115.9h1M172.1 117.2h1M174.5 115.2h1M170.2 112.4h1M167.5 115.5h1M168.6 118.4h1M169.5 110.1h1M172.2 120.4h1M170.6 112.3h1M172.5 117.9h1M166.4 112.9h1M171.3 117.9h1M175.4 114.0h1M171.5 116.7h1M169.4 116.4h1M171.3 116.2h1M173.2 117.2h1M171.2 115.8h1M173.4 115.2h1M165.7 119.5h1M171.2 115.0h1M171.1 115.9h1M171.5 117.6h1M170.2 114.0h1M170.0 115.1h1M171.4 116.4h1M166.7 116.2h1M168.7 115.7h1M169.6 114.9h1M171.3 116.8h1M170.2 117.7h1M168.2 112.4h1M172.9 114.0h1M171.1 115.9h1M170.6 116.6h1M171.7 118.2h1M170.8 117.3h1M173.9 114.8h1M169.9 113.5h1M167.4 117.0h1M171.5 114.2h1M171.8 113.4h1M172.7 118.3h1M172.1 114.3h1M170.0 115.0h1M174.9 116.6h1M168.6 109.9h1M168.4 122.9h1M172.3 119.8h1M168.3 121.2h1M173.8 115.8h1M167.7 116.4h1M170.9 118.6h1M170.9 116.4h1M168.9 116.9h1M165.1 114.9h1M171.1 113.7h1M171.1 119.5h1M170.3 117.6h1M168.9 116.5h1M166.5 114.6h1M168.4 122.1h1M165.0 115.1h1M175.3 110.8h1M169.3 117.4h1M173.9 110.0h1M169.9 119.5h1M174.7 114.5h1M168.6 116.1h1M168.2 116.2h1M168.0 115.3h1M170.6 112.5h1M167.7 117.4h1M166.2 116.8h1M174.7 113.9h1M174.2 118.1h1M168.4 117.8h1M173.0 113.5h1M163.5 116.1h1M171.0 111.7h1M176.2 109.0h1M176.1 118.4h1M172.6 116.1h1M173.7 119.3h1M171.1 116.6h1M174.8 117.0h1M169.3 117.2h1M163.5 117.7h1M173.6 117.8h1M170.8 113.2h1M170.5 117.3h1M172.2 110.5h1M172.4 116.9h1M166.5 121.9h1M170.8 121.7h1M168.4 120.2h1M169.6 114.4h1M173.8 117.9h1M170.2 113.8h1M168.6 118.8h1M170.7 115.7h1M170.0 114.5h1M170.6 117.2h1M172.9 119.0h1M170.5 112.2h1M169.2 115.5h1M169.8 116.8h1M167.4 116.9h1M174.6 114.0h1M172.3 116.0h1M165.0 114.3h1M170.1 118.6h1M174.1 117.2h1M165.7 120.4h1M169.3 114.4h1M175.7 114.2h1M171.6 116.8h1M172.7 119.3h1M167.6 116.9h1M175.0 115.5h1M172.1 111.7h1M174.5 115.2h1M167.6 116.9h1M168.8 119.2h1M167.7 112.4h1M171.5 117.6h1M167.6 117.2h1M170.7 122.0h1M174.8 119.3h1M172.9 112.1h1M168.6 114.7h1M171.9 115.6h1M167.6 114.4h1M172.8 114.8h1M167.0 112.5h1M172.6 115.0h1M173.4 113.9h1M166.6 115.4h1M173.3 114.8h1M171.5 112.8h1M170.8 118.9h1M170.5 111.6h1M169.2 110.8h1M162.5 119.4h1M169.2 113.8h1M177.9 114.8h1M170.3 115.2h1M170.7 118.3h1M173.3 124.8h1M170.7 115.4h1M166.8 118.1h1M168.7 115.4h1M164.7 125.3h1M164.3 118.0h1M170.3 113.0h1M167.5 114.3h1M163.9 125.2h1M171.4 117.6h1M173.9 126.7h1M169.5 112.6h1M167.0 120.8h1M181.4 116.0h1M171.2 117.3h1M167.3 118.1h1M176.0 121.4h1M179.4 116.3h1M162.8 119.2h1M163.8 114.0h1M168.7 114.7h1M174.2 120.0h1M163.5 121.3h1M178.0 117.6h1M171.8 125.8h1M180.6 113.3h1M171.1 110.8h1M173.4 122.6h1M175.5 119.4h1M168.0 114.0h1M163.6 124.9h1M168.6 116.6h1M161.1 129.6h1M162.6 109.1h1M169.9 113.9h1M172.7 121.0h1M175.7 123.8h1M178.5 125.2h1M166.3 115.0h1M162.1 117.6h1M178.9 119.9h1M171.2 121.9h1M171.1 115.3h1M161.8 116.9h1M163.9 109.4h1M174.7 122.9h1M166.2 112.9h1M177.8 120.2h1M164.4 118.8h1M178.3 119.2h1M162.7 116.0h1M161.3 120.9h1M168.7 120.7h1M166.4 112.7h1M165.9 117.1h1M173.7 118.5h1M175.0 112.7h1M163.2 119.1h1M175.4 123.0h1M178.7 123.7h1M177.9 116.0h1M169.7 102.3h1M167.8 121.3h1M170.3 121.3h1M172.4 117.1h1M165.3 118.1h1M161.5 114.8h1M171.6 113.2h1M172.2 121.2h1M170.9 123.9h1M162.8 118.4h1M160.3 112.6h1M168.1 109.6h1M172.7 120.8h1M176.1 120.8h1M167.3 123.9h1M161.4 116.1h1M163.6 114.8h1M167.1 114.5h1M174.2 122.7h1M159.9 126.8h1M166.7 113.3h1M165.9 115.4h1M169.8 116.0h1M168.4 121.1h1M164.5 113.8h1M175.4 122.1h1M177.6 120.2h1M175.8 118.7h1M173.4 122.3h1M175.1 113.1h1M173.3 113.8h1M171.3 124.9h1M160.5 117.1h1M171.5 114.2h1M173.5 116.1h1M167.3 112.6h1M175.8 121.8h1M170.7 113.8h1M163.8 121.9h1M176.7 121.5h1M155.6 136.2h1M163.4 137.9h1M156.4 137.2h1M158.8 142.2h1M160.2 140.7h1M155.6 147.0h1M155.5 154.9h1M157.7 138.5h1M154.8 144.4h1M153.9 147.3h1M155.9 153.1h1M158.7 134.3h1M164.2 142.4h1M157.1 141.3h1M158.0 147.1h1M160.6 151.8h1M159.0 137.1h1M157.0 140.3h1M156.1 146.0h1M160.9 146.2h1M153.0 130.3h1M159.1 163.9h1M154.1 140.7h1M154.4 140.2h1M156.6 143.4h1M157.8 146.9h1M159.3 142.3h1M157.2 151.1h1M157.2 143.2h1M155.7 142.6h1M156.7 139.3h1M161.9 144.4h1M158.1 154.0h1M151.8 145.1h1M162.1 150.0h1M158.9 142.6h1M161.2 153.2h1M148.9 142.9h1M150.1 128.1h1M157.4 137.8h1M156.3 141.3h1M156.1 142.2h1M161.7 145.9h1M152.8 140.9h1M153.8 135.4h1M158.8 146.1h1M153.7 141.2h1M156.8 153.6h1M156.7 144.4h1M155.5 146.8h1M156.0 141.7h1M160.1 138.1h1M154.1 150.2h1M154.7 142.2h1M153.2 135.4h1M156.8 146.7h1M158.5 141.5h1M162.4 139.4h1M163.0 147.0h1M164.3 131.4h1M152.5 147.5h1M154.9 144.3h1M166.0 141.1h1M157.9 142.6h1M157.3 137.8h1M155.7 137.9h1M156.1 144.3h1M162.5 142.1h1M159.3 149.5h1M154.2 138.0h1M159.1 149.0h1M160.0 155.2h1M157.4 132.4h1M161.4 151.9h1M159.2 145.3h1M156.7 142.0h1M158.5 142.4h1M158.6 149.6h1M151.1 132.0h1M159.2 149.4h1M152.9 146.6h1M159.0 149.6h1M151.6 128.4h1M159.2 123.5h1M160.2 145.8h1M154.2 133.2h1M156.8 145.8h1M160.4 140.3h1M152.3 134.5h1M160.2 129.7h1M163.8 148.2h1M159.8 141.8h1M154.1 133.6h1M160.6 145.5h1M154.7 133.9h1M151.9 147.2h1M152.4 134.6h1M161.5 141.5h1M158.1 148.1h1M154.3 136.3h1M162.8 144.4h1M157.7 134.3h1M161.3 147.8h1M157.6 136.6h1M153.0 143.4h1M155.6 135.2h1M153.5 150.3h1M166.0 164.3h1M153.8 139.8h1M164.5 138.6h1M152.2 140.8h1M151.9 136.5h1M158.8 132.3h1M152.0 150.2h1M154.2 131.2h1M160.1 152.7h1M165.2 134.6h1M157.2 136.9h1M157.7 138.0h1M155.4 135.6h1M156.3 141.9h1M153.9 140.1h1M156.5 131.9h1M155.8 142.9h1M155.4 139.3h1M152.8 152.7h1M161.0 150.3h1M155.0 132.0h1M156.3 143.3h1M158.0 144.8h1M161.1 137.6h1M146.9 140.0h1M160.4 142.6h1M155.5 142.4h1M153.7 133.7h1M158.8 141.7h1M159.6 140.9h1M153.1 147.2h1M160.9 138.9h1M152.4 132.4h1M161.9 140.0h1M157.1 145.0h1M165.8 131.6h1M152.8 143.4h1M158.4 144.9h1M161.5 136.7h1M152.5 133.3h1M159.2 145.8h1M152.1 158.5h1M153.6 156.8h1M151.1 139.7h1M154.6 137.6h1M149.6 134.9h1M158.3 143.3h1M155.1 140.3h1M145.9 141.6h1M160.2 148.3h1M160.6 140.2h1M162.2 155.2h1M159.2 140.5h1M154.9 141.5h1M154.4 137.9h1M159.2 152.7h1M157.7 143.8h1M161.3 149.7h1M162.5 136.0h1M161.1 141.7h1M156.9 147.8h1M145.4 132.7h1M151.3 146.6h1M158.5 146.4h1M150.7 135.2h1M164.3 144.9h1M154.0 137.1h1M154.9 139.2h1M157.3 138.8h1M155.8 149.4h1M154.9 137.7h1M160.8 138.9h1M161.3 143.6h1M162.4 136.9h1M163.4 147.1h1M160.6 136.7h1M150.2 141.9h1M156.5 142.8h1M154.4 144.6h1M156.7 144.1h1M160.5 153.8h1M157.6 136.1h1M160.4 148.7h1M164.6 158.9h1M160.3 145.5h1M162.0 143.0h1M152.1 142.6h1M153.6 144.6h1M158.6 147.4h1M160.2 146.8h1M150.2 139.0h1M151.2 150.6h1M160.0 142.2h1M153.7 133.2h1M156.4 129.4h1M160.9 146.8h1M158.3 141.6h1M154.8 147.3h1M157.9 132.4h1M157.2 151.1h1M159.1 139.0h1M149.3 132.8h1M157.1 135.9h1M158.2 150.1h1M158.0 154.5h1M159.4 143.4h1M157.2 138.5h1M159.4 152.7h1M159.9 151.2h1M150.1 126.1h1M158.1 142.9h1M153.9 147.3h1M152.6 142.5h1M159.9 156.2h1M156.9 138.4h1M155.2 149.5h1M152.7 141.7h1M152.9 144.7h1M155.6 146.2h1M155.7 149.2h1M161.4 135.7h1M154.1 152.2h1M156.7 146.5h1M163.0 153.8h1M155.6 132.9h1M155.7 137.9h1M162.6 144.9h1M160.8 140.8h1M158.0 127.5h1M153.0 132.7h1M156.4 127.7h1M158.9 140.9h1M155.1 145.5h1M155.0 118.3h1M157.8 142.7h1M156.3 149.0h1M156.5 137.9h1M156.9 137.8h1M158.8 150.2h1M152.8 126.1h1M150.8 146.2h1M157.2 148.7h1M156.6 142.8h1M150.9 149.1h1M161.1 152.2h1M155.9 140.6h1M160.1 146.7h1M158.2 143.8h1M155.9 143.8h1M151.5 150.6h1M158.4 156.7h1M151.3 139.1h1M155.7 151.6h1M152.8 134.3h1M156.1 148.5h1M160.1 150.8h1M157.7 137.7h1M154.2 129.0h1M153.2 144.6h1M153.4 137.3h1M160.1 150.8h1M165.4 153.2h1M155.7 149.4h1M155.3 147.9h1M153.0 136.7h1M155.5 139.4h1M159.7 145.3h1M152.7 136.4h1M156.4 150.5h1M153.2 135.4h1M162.6 143.4h1M156.3 141.0h1M161.2 144.3h1M157.4 126.7h1M156.9 144.2h1M156.8 137.3h1M153.9 133.5h1M155.0 139.6h1M150.3 135.5h1M154.9 147.6h1M151.3 127.2h1M160.1 146.5h1M157.5 153.6h1M152.8 141.1h1M157.7 141.2h1M154.1 141.0h1M155.9 145.6h1M153.6 144.2h1M158.2 135.6h1M155.9 146.3h1M157.7 142.4h1M151.5 137.0h1M155.1 144.8h1M146.4 147.7h1M158.0 138.7h1M166.1 149.9h1M148.4 136.9h1M160.6 131.7h1M164.3 156.2h1M156.8 126.8h1M152.2 126.2h1M155.8 145.7h1M160.7 139.2h1M155.0 142.2h1M149.7 131.6h1M152.3 133.2h1M155.2 131.3h1M155.2 137.9h1M154.9 137.4h1M158.0 147.5h1M163.5 140.1h1M159.2 147.3h1M158.2 141.6h1M150.4 130.0h1M155.6 145.3h1M157.5 127.9h1M159.3 146.1h1M160.2 148.5h1M154.7 136.7h1M153.8 153.4h1M156.8 147.4h1M155.3 142.0h1M163.0 141.5h1M152.6 141.4h1M156.4 151.9h1M163.3 141.2h1M157.6 150.8h1M156.2 149.4h1M158.9 137.6h1M155.0 145.6h1M156.4 142.0h1M158.3 155.1h1M158.2 138.5h1M155.4 141.7h1M157.6 142.3h1M150.8 133.2h1M154.5 139.7h1M157.1 143.2h1M151.5 130.0h1M160.3 148.7h1M154.8 134.7h1M151.8 156.2h1M164.1 146.7h1M155.3 142.8h1M160.1 143.4h1M156.4 130.2h1M154.4 130.3h1M160.5 152.1h1M159.1 145.2h1M152.9 139.4h1M159.1 139.6h1M154.9 152.0h1M162.1 147.3h1M153.8 139.7h1M156.7 136.2h1M157.2 147.1h1M159.0 142.1h1M155.9 144.7h1M155.3 142.3h1M155.2 140.4h1M160.3 154.2h1M162.1 146.9h1M152.4 140.1h1M147.9 150.0h1M156.9 146.3h1M152.1 129.2h1M157.2 140.7h1M157.5 145.5h1M156.4 148.8h1M155.7 141.7h1M157.3 147.4h1M151.7 134.1h1M154.5 151.1h1M155.5 155.4h1M150.6 139.2h1M156.1 142.0h1M163.3 158.2h1M160.2 137.7h1M153.9 140.6h1M159.6 149.8h1M149.9 128.4h1M152.8 125.5h1M153.6 133.6h1M166.2 158.7h1M152.5 130.9h1M153.5 138.4h1M153.6 145.7h1M150.3 131.4h1M158.0 135.4h1M161.4 139.7h1M156.3 153.1h1M151.2 138.8h1M156.0 151.6h1M150.5 140.0h1M156.2 145.1h1M162.7 146.8h1M151.5 135.4h1M157.1 145.7h1M159.0 147.9h1M153.8 155.1h1M156.1 144.0h1M153.9 152.9h1M159.6 149.0h1M156.7 140.0h1M157.1 147.9h1M148.0 144.0h1M156.3 154.2h1M155.0 133.5h1M156.1 152.2h1M158.3 140.4h1M158.5 147.0h1M159.2 146.2h1M154.0 130.3h1M157.8 136.3h1M153.9 138.5h1M157.7 154.8h1M157.7 136.6h1M153.6 148.3h1M152.5 152.7h1M159.5 145.5h1M157.7 130.3h1M157.2 135.1h1M164.5 142.5h1M156.8 141.8h1M149.3 138.5h1M155.5 146.6h1M149.2 144.0h1M156.2 145.4h1M159.4 152.9h1M161.1 137.8h1M163.1 142.4h1M155.0 132.0h1M160.8 138.2h1M159.9 144.4h1M158.4 160.2h1M154.5 143.2h1M151.4 147.0h1M154.6 138.1h1M155.0 139.8h1M153.4 142.3h1M156.5 142.9h1M153.9 140.7h1M164.9 148.8h1M151.3 143.3h1M159.1 136.6h1M157.2 156.2h1M153.1 132.6h1M159.3 148.9h1M149.9 147.4h1M154.5 142.4h1M158.2 139.2h1M150.4 138.8h1M149.3 133.8h1M148.7 150.2h1M157.3 155.8h1M149.0 134.3h1M153.7 136.4h1M153.9 142.2h1M157.7 142.6h1M162.2 147.3h1M149.7 138.9h1M151.1 130.8h1M153.6 143.4h1M161.2 137.5h1M155.0 142.5h1M151.2 135.0h1M150.4 144.0h1M159.3 150.6h1M151.7 143.4h1M154.9 150.1h1M156.8 132.3h1M158.2 149.4h1M156.1 138.4h1M158.3 143.6h1M151.2 132.2h1M153.5 149.2h1M154.3 140.9h1M154.2 149.1h1M159.8 143.3h1M156.7 135.1h1M158.0 150.1h1M159.4 151.2h1M155.2 143.7h1M155.0 140.0h1M160.5 146.1h1M151.4 145.7h1M156.2 136.5h1M158.6 132.7h1M154.5 148.5h1M155.0 137.2h1M155.2 136.0h1M155.7 143.4h1M159.3 142.1h1M156.2 135.4h1M155.8 137.8h1M155.5 142.9h1M148.1 122.2h1M157.7 137.1h1M153.7 133.2h1M155.2 147.9h1M155.0 140.6h1M163.6 144.5h1M154.8 146.6h1M158.3 134.8h1M154.3 150.5h1M152.7 142.2h1M162.3 142.1h1M150.0 131.1h1M156.3 140.2h1M162.8 144.7h1M149.4 140.2h1M157.4 150.0h1M155.7 135.6h1M153.1 136.9h1M157.0 133.7h1M155.7 133.6h1M151.9 124.4h1M156.4 133.9h1M157.9 153.9h1M150.9 147.0h1M157.2 138.9h1M164.6 150.8h1M158.5 137.5h1M156.2 136.8h1M150.4 137.5h1M155.4 149.5h1M159.7 145.1h1M156.9 140.0h1M160.3 139.3h1M154.5 139.0h1M151.3 146.9h1M152.3 148.1h1M158.7 146.8h1M160.0 146.3h1M156.7 145.6h1M156.8 137.5h1M155.8 134.6h1M158.0 135.6h1M152.5 138.1h1M156.3 157.3h1M154.1 145.5h1M158.3 149.7h1M156.2 138.6h1M152.8 149.8h1M157.0 142.7h1M160.1 149.7h1M151.8 132.9h1M159.7 152.5h1M153.4 145.9h1M156.1 137.1h1M153.1 146.2h1M155.6 135.7h1M152.7 149.5h1M152.5 151.2h1M158.8 138.7h1M155.9 139.4h1M154.1 143.8h1M159.8 141.0h1M150.8 152.2h1M158.1 136.9h1M157.1 138.8h1M154.5 140.7h1M158.8 150.5h1M162.6 151.0h1M160.8 151.9h1M154.6 132.2h1M161.0 156.9h1M156.8 121.9h1M154.0 144.1h1M159.0 142.3h1M151.9 144.1h1M165.4 157.9h1M160.5 150.5h1M156.2 151.2h1M157.5 137.2h1M158.5 159.0h1M156.1 135.4h1M153.9 148.3h1M161.4 153.0h1M158.8 147.7h1M157.7 145.3h1M159.3 147.6h1M153.7 136.3h1M158.6 147.9h1M158.5 142.5h1M155.7 150.4h1M154.4 141.7h1M164.4 148.3h1M153.2 136.2h1M158.6 149.6h1M155.1 151.9h1M150.3 136.3h1M159.7 136.4h1M158.6 133.0h1M152.5 142.2h1M146.0 129.8h1M153.4 142.0h1M163.5 135.7h1M158.9 144.2h1M156.7 141.8h1M158.9 157.9h1M157.8 147.0h1M156.6 144.4h1M161.0 145.3h1M159.2 149.4h1M161.3 144.0h1M154.8 139.2h1M163.9 148.9h1M158.5 147.4h1M152.1 127.9h1M152.0 137.9h1M154.6 145.2h1M160.6 153.2h1M161.4 149.5h1M154.7 144.3h1M154.9 145.1h1M164.5 146.6h1M157.0 142.4h1M161.0 149.2h1M155.1 136.2h1M154.0 148.1h1M153.5 135.6h1M150.4 139.9h1M154.6 143.2h1M155.5 151.5h1M150.8 126.1h1M154.9 151.1h1M149.7 137.5h1M156.9 142.9h1M160.6 154.6h1M156.2 138.1h1M157.7 124.9h1M163.1 153.1h1M155.8 141.7h1M157.7 141.0h1M159.0 146.6h1M158.4 134.4h1M153.5 135.7h1M161.0 131.0h1M157.0 142.2h1M160.1 136.3h1M153.6 142.2h1M156.4 146.1h1M151.4 137.6h1M156.0 139.4h1M155.6 144.8h1M152.1 130.9h1M162.0 153.5h1M157.8 155.4h1M157.6 141.7h1M154.0 148.3h1M152.5 147.8h1M161.8 130.7h1M158.0 137.5h1M158.5 143.2h1M152.6 139.4h1M160.7 153.3h1M157.4 144.7h1M157.3 144.5h1M158.8 132.2h1M160.1 131.4h1M158.4 137.7h1M155.8 151.8h1M152.2 133.5h1M156.9 140.7h1M153.1 146.2h1M153.7 138.0h1M152.2 137.0h1M157.8 138.4h1M158.9 133.3h1M153.6 124.2h1M157.8 130.4h1M157.6 150.1h1M154.8 131.2h1M159.5 148.4h1M151.9 127.8h1M158.2 139.3h1M152.6 133.2h1M151.2 135.7h1M158.8 145.9h1M158.6 136.5h1M162.1 141.4h1M146.6 124.3h1M156.3 130.5h1M163.8 149.4h1M160.1 146.1h1M154.7 138.7h1M149.9 142.8h1M159.4 142.7h1M150.8 143.5h1M159.9 141.1h1M152.7 143.6h1M156.6 144.2h1M153.2 153.9h1M156.2 139.2h1M158.2 124.9h1M158.2 145.8h1M159.2 154.6h1M158.9 156.0h1M154.4 144.2h1M160.6 145.1h1M155.0 162.1h1M151.0 132.0h1M156.8 145.5h1M152.0 146.0h1M149.1 137.3h1M156.6 145.9h1M150.7 144.1h1M160.9 134.4h1M159.5 140.5h1M165.2 157.1h1M161.7 141.5h1M159.6 139.3h1M155.7 152.5h1M159.6 143.9h1M160.0 146.6h1M158.7 146.6h1M154.2 141.8h1M148.9 149.6h1M157.5 135.9h1M156.9 146.0h1M158.7 137.6h1M154.4 157.0h1M154.8 151.0h1M154.3 154.8h1M157.6 147.8h1M160.7 151.1h1M155.5 138.2h1M159.5 129.0h1M163.2 152.8h1M159.4 143.8h1M161.0 142.6h1M150.9 125.4h1M161.5 160.4h1M162.0 142.4h1M154.8 144.9h1M159.4 138.5h1M164.2 147.3h1M160.4 143.2h1M160.7 118.0h1M154.1 136.3h1M157.7 146.5h1M154.6 146.2h1M158.9 130.9h1M158.4 145.1h1M156.7 140.4h1M157.6 121.3h1M155.4 147.9h1M156.8 135.4h1M159.3 134.6h1M150.9 145.3h1M155.5 126.8h1M160.6 146.0h1M153.4 150.7h1M161.5 137.4h1M160.2 150.5h1M157.1 151.7h1M154.6 130.6h1M154.3 136.6h1M159.7 141.7h1M161.9 143.1h1M155.9 133.4h1M153.6 136.3h1M155.1 142.0h1M157.9 146.4h1M157.4 143.3h1M156.5 150.8h1M163.2 146.5h1M150.4 147.6h1M158.3 140.4h1M160.8 133.1h1M157.8 157.7h1M162.2 134.1h1M154.8 139.0h1M160.0 144.3h1M157.0 135.5h1M154.1 146.2h1M157.3 138.1h1M157.7 143.0h1M163.7 154.9h1M158.9 142.9h1M156.2 143.3h1M161.6 150.2h1M165.4 144.0h1M160.6 146.7h1M154.6 133.4h1M156.7 137.6h1M159.1 149.9h1M154.7 140.0h1M151.0 141.1h1M157.5 157.0h1M162.3 139.1h1M163.2 149.9h1M159.2 144.0h1M158.7 142.2h1M163.8 143.4h1M161.7 140.3h1M154.9 135.1h1M158.9 149.5h1M159.5 141.7h1M157.2 153.4h1M159.0 144.1h1M158.1 139.6h1M154.7 126.0h1M158.1 141.3h1M159.7 147.7h1M157.4 140.2h1M157.9 143.5h1M154.5 128.2h1M157.1 146.2h1M157.8 140.7h1M153.6 133.0h1M159.1 152.4h1M157.3 146.3h1M158.0 142.2h1M157.2 141.1h1M153.6 140.5h1M161.1 140.1h1M153.0 147.1h1M156.0 141.3h1M158.3 144.8h1M158.9 153.2h1M160.4 144.0h1M159.4 146.9h1M163.7 149.3h1M151.3 143.6h1M159.1 146.2h1M160.2 144.1h1M157.0 138.9h1M150.1 139.4h1M164.7 162.6h1M159.3 141.1h1M153.7 148.7h1M158.4 139.1h1M149.7 138.3h1M156.2 128.0h1M157.1 142.2h1M159.4 155.7h1M157.1 144.2h1M153.3 136.4h1M156.0 148.2h1M159.9 145.5h1M150.9 145.1h1M157.0 132.6h1M157.2 141.5h1M163.4 150.1h1M158.8 141.8h1M167.0 153.3h1M164.0 144.0h1M155.7 141.0h1M159.7 142.5h1M156.7 153.4h1M156.4 130.4h1M157.4 137.7h1M154.3 134.4h1M161.3 143.0h1M156.4 147.6h1M158.5 143.0h1M159.0 135.9h1M156.6 145.4h1M151.9 130.6h1M158.3 149.8h1M153.6 139.5h1M164.4 152.9h1M157.8 138.2h1M162.3 153.1h1M157.7 151.1h1M154.2 145.6h1M155.3 126.3h1M154.3 141.8h1M158.6 146.7h1M152.7 137.7h1M154.7 151.3h1M158.5 136.5h1M155.4 138.6h1M159.3 160.0h1M160.5 141.6h1M148.1 138.6h1M160.3 140.3h1M158.4 150.0h1M150.4 135.2h1M151.9 142.6h1M155.0 145.6h1M157.8 141.6h1M152.2 147.3h1M157.8 133.8h1M158.5 152.3h1M158.7 147.9h1M157.1 153.7h1M157.4 150.7h1M160.7 150.2h1M158.5 139.9h1M154.4 147.9h1M152.5 137.6h1M155.8 146.7h1M161.1 134.2h1M156.6 150.6h1M163.1 150.3h1M155.5 137.1h1M162.4 138.8h1M159.2 138.2h1M155.5 129.9h1M156.6 141.7h1M157.4 129.9h1M159.8 134.1h1M153.6 135.5h1M158.7 143.9h1M153.4 148.9h1M153.8 147.5h1M154.0 138.0h1M162.9 146.1h1M160.6 153.1h1M153.5 132.5h1M166.2 154.5h1M154.8 148.7h1M154.8 142.0h1M155.7 142.3h1M155.2 138.6h1M157.5 144.3h1M159.7 162.8h1M156.3 129.3h1M156.5 142.8h1M156.4 141.2h1M152.3 132.4h1M154.6 143.0h1M158.5 140.3h1M158.7 154.7h1M156.8 141.5h1M156.6 149.7h1M150.5 141.7h1M154.4 138.7h1M148.5 149.4h1M156.0 136.8h1M160.3 141.7h1M153.4 144.1h1M151.3 140.4h1M153.6 143.8h1M160.9 158.0h1M155.2 137.5h1M154.7 135.2h1M152.5 153.9h1M155.6 134.9h1M153.5 132.4h1M155.7 136.4h1M159.3 145.0h1M160.5 147.6h1M156.2 139.2h1M153.4 146.0h1M157.0 132.8h1M159.7 148.5h1M157.7 145.4h1M160.2 140.2h1M152.4 142.3h1M158.8 151.6h1M159.6 142.2h1M153.8 139.0h1M158.7 149.9h1M154.5 133.7h1M156.7 135.4h1M155.2 149.3h1M162.0 135.6h1M149.7 133.0h1M154.8 131.8h1M154.5 142.9h1M159.9 140.6h1M150.0 136.1h1M153.2 145.2h1M156.0 132.4h1M149.4 129.7h1M154.1 143.1h1M151.4 126.9h1M157.1 139.0h1M159.4 145.7h1M147.9 132.6h1M153.6 126.3h1M162.8 143.1h1M162.0 144.7h1M161.5 155.8h1M151.5 140.9h1M159.7 140.5h1M152.5 134.8h1M158.8 149.0h1M160.3 151.2h1M155.7 139.7h1M160.0 143.6h1M159.2 151.7h1M155.8 142.6h1M157.0 154.2h1M157.6 152.1h1M154.0 142.0h1M152.0 139.6h1M159.3 137.1h1M160.2 134.0h1M159.9 155.5h1M151.9 140.7h1M153.6 137.3h1M154.7 133.9h1M152.1 138.7h1M157.5 147.7h1M158.4 144.8h1M148.5 126.0h1M151.4 145.4h1M160.1 145.7h1M158.9 147.0h1M161.3 150.9h1M155.6 146.1h1M158.8 160.0h1M162.0 136.1h1M161.2 150.1h1M159.4 136.0h1M159.3 138.0h1M157.0 155.4h1M158.9 149.1h1M148.1 139.3h1M161.9 145.2h1M146.7 131.7h1M157.2 136.7h1M154.1 137.3h1M157.8 129.8h1M159.9 146.0h1M155.1 132.9h1M156.3 141.4h1M159.5 151.9h1M159.0 146.3h1M156.5 137.0h1M159.0 138.6h1M161.8 144.2h1M151.9 133.2h1M162.6 144.9h1M153.5 146.7h1M161.6 151.8h1M154.1 143.9h1M163.8 141.9h1M155.4 129.7h1M160.2 143.6h1M165.5 147.9h1M161.2 142.5h1M162.5 140.2h1M151.7 139.9h1M153.8 138.1h1M157.9 142.9h1M153.6 132.6h1M156.4 147.5h1M154.9 140.6h1M154.2 146.6h1M161.9 139.4h1M161.0 141.1h1M155.4 133.6h1M164.4 155.7h1M155.1 150.7h1M168.6 141.3h1M154.1 135.3h1M164.5 155.2h1M155.9 146.3h1M158.4 140.7h1M159.7 136.8h1M161.4 140.7h1M156.9 152.2h1M155.3 136.4h1M156.0 141.8h1M163.0 140.7h1M157.2 146.7h1M155.8 150.9h1M151.1 144.3h1M149.2 146.9h1M151.7 146.2h1M157.8 136.7h1M152.7 142.9h1M153.3 134.2h1M154.6 144.4h1M152.8 143.3h1M154.1 144.2h1M157.5 137.4h1M159.0 159.5h1M161.0 149.7h1M156.9 140.4h1M150.3 137.3h1M155.5 142.5h1M159.7 140.0h1M162.6 141.1h1M152.7 146.0h1M156.9 134.0h1M159.8 136.1h1M165.2 141.0h1M153.1 128.8h1M163.8 158.2h1M154.8 149.4h1M161.3 143.7h1M161.1 148.6h1M151.9 144.9h1M154.6 142.6h1M156.6 145.7h1M158.3 143.0h1M159.0 150.1h1M158.2 142.2h1M160.3 150.4h1M155.8 155.6h1M153.4 148.2h1M158.4 143.2h1M151.1 134.7h1M154.2 138.8h1M154.8 134.8h1M162.6 140.4h1M158.9 149.2h1M159.6 129.5h1M160.3 144.5h1M151.0 130.8h1M162.3 137.9h1M156.6 147.7h1M160.4 137.6h1M160.2 151.4h1M155.4 144.1h1M150.6 142.1h1M158.8 142.0h1M156.4 141.7h1M165.7 142.9h1M153.1 133.7h1M156.9 141.5h1M154.0 137.5h1M154.7 143.7h1M160.4 136.0h1M161.5 142.1h1M155.7 156.6h1M158.1 157.1h1M155.2 140.3h1M154.1 143.8h1M161.3 147.0h1M156.4 139.0h1M155.6 143.2h1M156.7 138.0h1M159.4 147.5h1M154.7 136.0h1M159.6 157.5h1M157.5 135.1h1M159.2 142.0h1M156.8 153.6h1M159.9 145.2h1M147.2 127.4h1M157.4 148.1h1M160.8 142.2h1M165.4 144.8h1M156.8 129.7h1M162.1 159.0h1M163.3 129.2h1M164.5 150.8h1M156.0 133.9h1M155.0 134.0h1M150.9 150.3h1M159.0 137.2h1M157.6 158.0h1M160.5 152.9h1M153.0 147.0h1M153.6 139.7h1M159.8 138.9h1M160.0 145.3h1M167.9 143.0h1M159.6 138.7h1M163.7 141.6h1M159.0 143.8h1M158.2 150.0h1M155.2 137.8h1M157.3 142.2h1M160.9 148.4h1M166.1 144.9h1M153.4 123.2h1M154.7 148.3h1M156.7 138.8h1M152.7 151.6h1M158.0 139.4h1M146.5 136.9h1M153.8 165.8h1M157.1 135.2h1M157.0 131.9h1M154.5 143.6h1M158.0 148.7h1M159.3 146.0h1M159.2 143.5h1M151.6 135.7h1M159.9 157.6h1M147.7 131.8h1M153.3 145.5h1M152.1 132.2h1M157.2 144.4h1M159.7 142.0h1M157.0 146.2h1M154.1 135.4h1M156.0 136.3h1M152.9 127.3h1M154.1 136.8h1M159.3 133.6h1M157.2 139.5h1M158.3 134.3h1M152.0 145.6h1M153.7 130.4h1M161.3 143.3h1M159.1 128.6h1M153.7 144.2h1M160.4 134.7h1M157.8 131.4h1M148.6 152.7h1M164.7 141.5h1M152.3 152.0h1M156.5 146.5h1M162.3 130.2h1M151.8 136.2h1M164.1 150.1h1M154.5 152.8h1M151.9 138.7h1M167.2 159.9h1M155.6 147.9h1M165.8 156.0h1M166.3 145.4h1M162.8 153.6h1M158.7 136.3h1M152.4 142.3h1M149.2 128.0h1M157.5 143.8h1M156.8 129.7h1M148.3 146.7h1M152.4 138.0h1M154.3 132.6h1M160.7 137.2h1M154.3 137.0h1M147.8 132.6h1M159.8 156.1h1M149.2 133.9h1M154.5 153.4h1M161.0 153.8h1M172.0 147.1h1M168.0 134.9h1M146.6 136.3h1M167.9 126.7h1M144.3 132.2h1M150.8 130.5h1M151.2 137.3h1M164.2 141.6h1M155.0 150.3h1M159.4 128.9h1M155.0 150.4h1M153.1 133.2h1M157.0 165.1h1M157.4 153.9h1M156.1 161.1h1M169.9 142.4h1M163.8 131.7h1M159.8 126.3h1M171.2 140.0h1M152.2 127.7h1M152.7 148.8h1M152.4 149.0h1M145.2 135.9h1M156.4 152.4h1M157.9 142.5h1M150.5 146.1h1M158.6 147.3h1M155.2 134.0h1M151.9 142.0h1M146.8 133.9h1M158.0 146.2h1M153.6 134.5h1M153.4 154.9h1M148.4 153.2h1M164.6 133.5h1M160.9 139.8h1M153.2 141.4h1M154.1 155.1h1M161.3 145.4h1M153.2 144.7h1M162.1 162.2h1M142.7 145.9h1M157.9 143.7h1M161.2 140.8h1M163.7 144.2h1M156.9 131.1h1M163.7 153.9h1M156.1 132.2h1M153.7 128.1h1M156.2 151.0h1M147.3 155.8h1M150.1 144.0h1M156.7 135.0h1M139.9 124.4h1M164.8 148.1h1M159.3 132.4h1M149.2 146.7h1M160.1 135.9h1M155.7 150.2h1M164.2 133.5h1M152.8 146.0h1M162.2 136.2h1M147.5 140.7h1M147.3 135.0h1M145.0 155.6h1M153.5 124.4h1M150.1 149.9h1M162.6 130.9h1M145.7 140.0h1M162.1 150.1h1M157.3 128.5h1M153.4 151.8h1M154.6 137.5h1M171.1 146.8h1M154.8 150.1h1M164.2 150.0h1M160.6 137.4h1M158.6 144.4h1M143.2 138.3h1M152.9 143.7h1M157.0 138.0h1M163.8 148.0h1M156.9 168.9h1M146.2 153.1h1M143.7 134.6h1M155.8 141.5h1M150.3 141.6h1M157.0 127.9h1M156.7 131.4h1M154.6 146.9h1M144.0 131.1h1M160.1 161.7h1M154.7 125.6h1M155.5 140.4h1M163.2 156.3h1M152.8 146.9h1M161.8 149.3h1M156.1 122.7h1M154.5 138.1h1M152.5 128.4h1M150.4 136.1h1M153.5 143.9h1M149.0 134.3h1M164.7 148.5h1M154.7 132.0h1M148.4 144.1h1M153.6 137.3h1M161.9 130.6h1M163.0 128.6h1M162.2 134.5h1M150.8 155.8h1M157.7 128.9h1M148.6 147.0h1M162.5 118.4h1M169.1 144.6h1M175.7 88.6h1M180.0 83.7h1M188.3 102.0h1M183.3 102.7h1M188.3 101.7h1M182.7 79.9h1M186.2 100.8h1M169.5 95.5h1M179.4 72.0h1M180.3 85.2h1M168.3 106.4h1M187.7 85.0h1M186.5 67.8h1M172.4 101.7h1M182.7 104.8h1M188.0 85.3h1M178.4 90.5h1M189.1 96.7h1M190.4 78.4h1M171.8 95.6h1M192.6 112.4h1M198.4 103.6h1M175.9 94.0h1M190.5 86.4h1M164.5 125.8h1M159.5 66.9h1M183.4 90.7h1M172.4 81.9h1M192.4 79.3h1M201.8 89.3h1" stroke="#000" stroke-width="1" stroke-opacity="0.68" fill="none"/>
<ellipse cx="166.8" cy="87.4" rx="13.8" ry="17" transform="rotate(-12 166.8 87.4)" fill="none" stroke="#111" stroke-width="1.6"/>
<ellipse cx="170.7" cy="117.2" rx="10.6" ry="9.2" fill="none" stroke="#111" stroke-width="1.6"/>
<ellipse cx="156.3" cy="142.7" rx="10.0" ry="16.5" transform="rotate(8 156.3 142.7)" fill="none" stroke="#111" stroke-width="1.6"/>
<line x1="34.40" y1="5.50" x2="261.00" y2="5.50" stroke="#c4c4c4" stroke-width="1.2"/>
<line x1="261.00" y1="5.50" x2="261.00" y2="206.60" stroke="#9a9a9a" stroke-width="1.2"/>
<line x1="34.40" y1="5.50" x2="34.40" y2="206.60" stroke="#555" stroke-width="1"/>
<line x1="34.40" y1="206.60" x2="261.00" y2="206.60" stroke="#444" stroke-width="1.4"/>
<line x1="34.40" y1="206.60" x2="31.90" y2="206.60" stroke="#333" stroke-width="1.2"/>
<line x1="35.15" y1="191.47" x2="32.90" y2="191.47" stroke="#333" stroke-width="1.2"/>
<line x1="35.15" y1="182.61" x2="32.90" y2="182.61" stroke="#333" stroke-width="1.2"/>
<line x1="35.15" y1="176.33" x2="32.90" y2="176.33" stroke="#333" stroke-width="1.2"/>
<line x1="35.15" y1="171.46" x2="32.90" y2="171.46" stroke="#333" stroke-width="1.2"/>
<line x1="35.15" y1="167.48" x2="32.90" y2="167.48" stroke="#333" stroke-width="1.2"/>
<line x1="35.15" y1="164.11" x2="32.90" y2="164.11" stroke="#333" stroke-width="1.2"/>
<line x1="35.15" y1="161.20" x2="32.90" y2="161.20" stroke="#333" stroke-width="1.2"/>
<line x1="35.15" y1="158.63" x2="32.90" y2="158.63" stroke="#333" stroke-width="1.2"/>
<line x1="34.40" y1="156.32" x2="31.90" y2="156.32" stroke="#333" stroke-width="1.2"/>
<line x1="35.15" y1="141.19" x2="32.90" y2="141.19" stroke="#333" stroke-width="1.2"/>
<line x1="35.15" y1="132.34" x2="32.90" y2="132.34" stroke="#333" stroke-width="1.2"/>
<line x1="35.15" y1="126.06" x2="32.90" y2="126.06" stroke="#333" stroke-width="1.2"/>
<line x1="35.15" y1="121.18" x2="32.90" y2="121.18" stroke="#333" stroke-width="1.2"/>
<line x1="35.15" y1="117.20" x2="32.90" y2="117.20" stroke="#333" stroke-width="1.2"/>
<line x1="35.15" y1="113.84" x2="32.90" y2="113.84" stroke="#333" stroke-width="1.2"/>
<line x1="35.15" y1="110.92" x2="32.90" y2="110.92" stroke="#333" stroke-width="1.2"/>
<line x1="35.15" y1="108.35" x2="32.90" y2="108.35" stroke="#333" stroke-width="1.2"/>
<line x1="34.40" y1="106.05" x2="31.90" y2="106.05" stroke="#333" stroke-width="1.2"/>
<line x1="35.15" y1="90.92" x2="32.90" y2="90.92" stroke="#333" stroke-width="1.2"/>
<line x1="35.15" y1="82.06" x2="32.90" y2="82.06" stroke="#333" stroke-width="1.2"/>
<line x1="35.15" y1="75.78" x2="32.90" y2="75.78" stroke="#333" stroke-width="1.2"/>
<line x1="35.15" y1="70.91" x2="32.90" y2="70.91" stroke="#333" stroke-width="1.2"/>
<line x1="35.15" y1="66.93" x2="32.90" y2="66.93" stroke="#333" stroke-width="1.2"/>
<line x1="35.15" y1="63.56" x2="32.90" y2="63.56" stroke="#333" stroke-width="1.2"/>
<line x1="35.15" y1="60.65" x2="32.90" y2="60.65" stroke="#333" stroke-width="1.2"/>
<line x1="35.15" y1="58.08" x2="32.90" y2="58.08" stroke="#333" stroke-width="1.2"/>
<line x1="34.40" y1="55.78" x2="31.90" y2="55.78" stroke="#333" stroke-width="1.2"/>
<line x1="35.15" y1="40.64" x2="32.90" y2="40.64" stroke="#333" stroke-width="1.2"/>
<line x1="35.15" y1="31.79" x2="32.90" y2="31.79" stroke="#333" stroke-width="1.2"/>
<line x1="35.15" y1="25.51" x2="32.90" y2="25.51" stroke="#333" stroke-width="1.2"/>
<line x1="35.15" y1="20.63" x2="32.90" y2="20.63" stroke="#333" stroke-width="1.2"/>
<line x1="35.15" y1="16.65" x2="32.90" y2="16.65" stroke="#333" stroke-width="1.2"/>
<line x1="35.15" y1="13.29" x2="32.90" y2="13.29" stroke="#333" stroke-width="1.2"/>
<line x1="35.15" y1="10.37" x2="32.90" y2="10.37" stroke="#333" stroke-width="1.2"/>
<line x1="35.15" y1="7.80" x2="32.90" y2="7.80" stroke="#333" stroke-width="1.2"/>
<line x1="34.40" y1="5.50" x2="31.90" y2="5.50" stroke="#333" stroke-width="1.2"/>
<line x1="34.40" y1="206.60" x2="34.40" y2="209.10" stroke="#333" stroke-width="1.2"/>
<line x1="51.45" y1="206.60" x2="51.45" y2="208.10" stroke="#333" stroke-width="1.2"/>
<line x1="61.43" y1="206.60" x2="61.43" y2="208.10" stroke="#333" stroke-width="1.2"/>
<line x1="68.51" y1="206.60" x2="68.51" y2="208.10" stroke="#333" stroke-width="1.2"/>
<line x1="74.00" y1="206.60" x2="74.00" y2="208.10" stroke="#333" stroke-width="1.2"/>
<line x1="78.48" y1="206.60" x2="78.48" y2="208.10" stroke="#333" stroke-width="1.2"/>
<line x1="82.27" y1="206.60" x2="82.27" y2="208.10" stroke="#333" stroke-width="1.2"/>
<line x1="85.56" y1="206.60" x2="85.56" y2="208.10" stroke="#333" stroke-width="1.2"/>
<line x1="88.46" y1="206.60" x2="88.46" y2="208.10" stroke="#333" stroke-width="1.2"/>
<line x1="91.05" y1="206.60" x2="91.05" y2="209.10" stroke="#333" stroke-width="1.2"/>
<line x1="108.10" y1="206.60" x2="108.10" y2="208.10" stroke="#333" stroke-width="1.2"/>
<line x1="118.08" y1="206.60" x2="118.08" y2="208.10" stroke="#333" stroke-width="1.2"/>
<line x1="125.16" y1="206.60" x2="125.16" y2="208.10" stroke="#333" stroke-width="1.2"/>
<line x1="130.65" y1="206.60" x2="130.65" y2="208.10" stroke="#333" stroke-width="1.2"/>
<line x1="135.13" y1="206.60" x2="135.13" y2="208.10" stroke="#333" stroke-width="1.2"/>
<line x1="138.92" y1="206.60" x2="138.92" y2="208.10" stroke="#333" stroke-width="1.2"/>
<line x1="142.21" y1="206.60" x2="142.21" y2="208.10" stroke="#333" stroke-width="1.2"/>
<line x1="145.11" y1="206.60" x2="145.11" y2="208.10" stroke="#333" stroke-width="1.2"/>
<line x1="147.70" y1="206.60" x2="147.70" y2="209.10" stroke="#333" stroke-width="1.2"/>
<line x1="164.75" y1="206.60" x2="164.75" y2="208.10" stroke="#333" stroke-width="1.2"/>
<line x1="174.73" y1="206.60" x2="174.73" y2="208.10" stroke="#333" stroke-width="1.2"/>
<line x1="181.81" y1="206.60" x2="181.81" y2="208.10" stroke="#333" stroke-width="1.2"/>
<line x1="187.30" y1="206.60" x2="187.30" y2="208.10" stroke="#333" stroke-width="1.2"/>
<line x1="191.78" y1="206.60" x2="191.78" y2="208.10" stroke="#333" stroke-width="1.2"/>
<line x1="195.57" y1="206.60" x2="195.57" y2="208.10" stroke="#333" stroke-width="1.2"/>
<line x1="198.86" y1="206.60" x2="198.86" y2="208.10" stroke="#333" stroke-width="1.2"/>
<line x1="201.76" y1="206.60" x2="201.76" y2="208.10" stroke="#333" stroke-width="1.2"/>
<line x1="204.35" y1="206.60" x2="204.35" y2="209.10" stroke="#333" stroke-width="1.2"/>
<line x1="221.40" y1="206.60" x2="221.40" y2="208.10" stroke="#333" stroke-width="1.2"/>
<line x1="231.38" y1="206.60" x2="231.38" y2="208.10" stroke="#333" stroke-width="1.2"/>
<line x1="238.46" y1="206.60" x2="238.46" y2="208.10" stroke="#333" stroke-width="1.2"/>
<line x1="243.95" y1="206.60" x2="243.95" y2="208.10" stroke="#333" stroke-width="1.2"/>
<line x1="248.43" y1="206.60" x2="248.43" y2="208.10" stroke="#333" stroke-width="1.2"/>
<line x1="252.22" y1="206.60" x2="252.22" y2="208.10" stroke="#333" stroke-width="1.2"/>
<line x1="255.51" y1="206.60" x2="255.51" y2="208.10" stroke="#333" stroke-width="1.2"/>
<line x1="258.41" y1="206.60" x2="258.41" y2="208.10" stroke="#333" stroke-width="1.2"/>
<line x1="261.00" y1="206.60" x2="261.00" y2="209.10" stroke="#333" stroke-width="1.2"/>
<g transform="translate(30.20,206.20) rotate(-90) scale(0.68,1)"><text x="-5.95" y="0" font-size="7.3" stroke="#000" stroke-width="0.15">10</text><text x="2.61" y="-3.50" font-size="6.00" stroke="#000" stroke-width="0.15">0</text></g>
<g transform="translate(34.40,217.00) scale(0.68,1)"><text x="-5.95" y="0" font-size="7.3" stroke="#000" stroke-width="0.15">10</text><text x="2.61" y="-3.50" font-size="6.00" stroke="#000" stroke-width="0.15">0</text></g>
<g transform="translate(30.20,155.92) rotate(-90) scale(0.68,1)"><text x="-5.95" y="0" font-size="7.3" stroke="#000" stroke-width="0.15">10</text><text x="2.61" y="-3.50" font-size="6.00" stroke="#000" stroke-width="0.15">1</text></g>
<g transform="translate(91.05,217.00) scale(0.68,1)"><text x="-5.95" y="0" font-size="7.3" stroke="#000" stroke-width="0.15">10</text><text x="2.61" y="-3.50" font-size="6.00" stroke="#000" stroke-width="0.15">1</text></g>
<g transform="translate(30.20,105.65) rotate(-90) scale(0.68,1)"><text x="-5.95" y="0" font-size="7.3" stroke="#000" stroke-width="0.15">10</text><text x="2.61" y="-3.50" font-size="6.00" stroke="#000" stroke-width="0.15">2</text></g>
<g transform="translate(147.70,217.00) scale(0.68,1)"><text x="-5.95" y="0" font-size="7.3" stroke="#000" stroke-width="0.15">10</text><text x="2.61" y="-3.50" font-size="6.00" stroke="#000" stroke-width="0.15">2</text></g>
<g transform="translate(30.20,55.38) rotate(-90) scale(0.68,1)"><text x="-5.95" y="0" font-size="7.3" stroke="#000" stroke-width="0.15">10</text><text x="2.61" y="-3.50" font-size="6.00" stroke="#000" stroke-width="0.15">3</text></g>
<g transform="translate(204.35,217.00) scale(0.68,1)"><text x="-5.95" y="0" font-size="7.3" stroke="#000" stroke-width="0.15">10</text><text x="2.61" y="-3.50" font-size="6.00" stroke="#000" stroke-width="0.15">3</text></g>
<g transform="translate(30.20,7.70) rotate(-90) scale(0.68,1)"><text x="-5.95" y="0" font-size="7.3" stroke="#000" stroke-width="0.15">10</text><text x="2.61" y="-3.50" font-size="6.00" stroke="#000" stroke-width="0.15">4</text></g>
<g transform="translate(261.00,217.00) scale(0.68,1)"><text x="-5.95" y="0" font-size="7.3" stroke="#000" stroke-width="0.15">10</text><text x="2.61" y="-3.50" font-size="6.00" stroke="#000" stroke-width="0.15">4</text></g>
<text x="43.67" y="26.00" font-size="21.5" font-weight="bold" stroke="#000" stroke-width="0.42">A</text>
<text x="160.47" y="58.50" font-size="19.1" font-weight="normal" stroke="#000" stroke-width="0.42">neutrophils</text>
<text x="64.58" y="113.90" font-size="18.9" font-weight="normal" stroke="#000" stroke-width="0.42">monocytes</text>
<text x="154.47" y="178.40" font-size="19.0" font-weight="normal" stroke="#000" stroke-width="0.42">lymphocytes</text>
<text x="103.17" y="242.80" font-size="18.6" font-weight="normal" stroke="#000" stroke-width="0.42">Size (FSC)</text>
<text transform="translate(18.20,187.44) rotate(-90)" font-size="19.0" stroke="#000" stroke-width="0.42">Granulometry (SSC)</text>
<path d="M301.5 203.8 L302.3 193.8 L303.8 179.4 L305.7 169.8 L307.1 166.5 L309.0 152.0 L310.5 137.6 L311.5 128.0 L312.4 118.5 L313.4 111.7 L315.3 99.2 L316.8 93.5 L318.7 101.0 L320.6 105.0 L322.0 111.7 L323.0 118.5 L323.5 128.0 L325.0 137.6 L326.8 152.0 L328.8 161.7 L329.7 174.6 L331.7 182.3 L333.6 187.0 L335.5 193.8 L337.4 197.7 L339.3 200.6 L345.0 201.4 L352.0 201.8 L356.0 202.5 L356.0 203.8Z" fill="#555" stroke="#111" stroke-width="1.0"/>
<polyline points="318.0,201.5 318.9,201.0 319.7,199.0 320.7,199.0 321.2,198.1 322.2,197.1 323.0,196.3 323.6,194.7 324.4,193.9 325.3,192.3 325.9,191.1 326.8,189.9 327.8,189.5 328.0,187.1 329.2,186.9 330.1,186.2 331.3,184.6 331.6,185.2 332.3,183.4 332.6,181.0 333.1,180.7 333.4,179.2 334.0,177.9 334.5,177.2 335.0,175.7 335.3,175.3 335.5,173.2 335.7,172.2 336.0,170.7 336.2,170.0 336.0,168.7 336.4,167.8 336.4,165.9 336.8,165.0 337.0,164.5 336.9,163.0 337.6,161.6 337.5,160.9 337.9,159.7 338.1,157.3 338.3,156.6 338.7,155.7 338.5,153.8 339.2,153.6 339.2,152.0 339.7,150.9 340.1,149.4 340.2,147.9 340.7,145.5 340.8,145.3 341.4,144.2 342.3,143.2 343.2,141.8 343.8,140.5 343.9,138.4 344.8,137.9 344.8,136.9 345.3,136.0 345.5,134.4 345.5,133.4 345.6,132.3 346.2,130.0 345.6,129.9 346.6,127.9 346.1,127.5 346.4,125.7 346.7,125.0 346.9,123.6 347.1,121.7 347.3,120.4 347.6,119.0 347.6,119.0 348.0,117.0 348.6,115.3 349.0,114.2 349.5,111.9 350.6,111.5 351.3,110.5 351.8,113.0 352.1,113.5 352.3,114.6 353.3,115.7 353.4,117.1 353.8,118.7 354.1,119.8 353.8,120.9 354.1,122.4 354.2,123.8 354.1,125.4 354.5,125.7 354.9,128.2 355.1,128.9 355.1,131.5 355.6,130.8 355.5,132.7 355.6,134.0 356.0,135.8 356.5,135.1 356.8,136.9 357.5,138.9 357.9,139.4 358.6,142.2 358.6,142.5 358.7,143.6 358.7,145.8 358.9,146.0 359.3,147.1 359.2,148.4 359.4,149.4 359.4,151.1 359.5,152.6 359.6,154.2 359.9,154.9 360.1,156.0 360.2,157.7 360.5,158.3 361.0,160.1 361.1,160.1 361.4,162.4 361.4,163.9 361.8,164.1 362.3,165.8 362.6,166.3 363.3,168.0 363.0,169.8 363.5,170.8 363.9,171.8 364.3,172.6 364.7,174.0 364.9,175.4 365.6,176.4 365.9,178.0 366.2,178.3 367.0,179.3 367.5,181.1 368.2,181.8 368.4,183.6 368.6,186.2 369.4,185.4 370.2,186.9 370.2,188.4 371.1,189.0 371.5,190.6 371.8,191.8 372.5,192.4 372.6,193.8 373.2,195.5 373.8,196.6 375.0,197.3 376.0,198.4 377.6,198.8 378.5,199.1 379.8,199.0 381.2,199.4 382.7,199.7 383.8,200.3 385.0,200.0" fill="none" stroke="#111" stroke-width="1.2" stroke-linejoin="round" />
<polyline points="311.0,201.5 312.5,200.6 313.8,199.0 315.6,200.2 316.5,199.4 317.9,198.1 319.4,197.5 319.8,196.2 320.7,195.5 321.4,194.1 322.0,192.9 322.8,192.3 323.4,191.3 323.8,190.4 324.9,188.0 324.8,186.9 325.8,186.6 326.4,185.7 326.8,184.3 327.3,183.4 327.6,181.4 328.3,181.3 328.6,178.5 329.1,178.3 329.7,177.2 329.5,175.9 330.1,173.4 330.0,173.5 330.1,172.2 330.7,170.6 330.3,168.9 330.6,168.0 330.5,166.8 330.8,165.2 330.5,163.3 331.1,163.3 331.2,162.1 331.0,161.1 331.2,159.1 331.4,159.3 332.1,157.3 332.4,155.5 333.0,154.5 333.1,153.2 333.4,152.1 334.0,150.4 334.2,149.3 334.2,148.0 334.4,147.2 334.5,145.6 334.7,144.4 334.7,143.5 335.3,142.9 335.5,142.4 335.7,139.8 336.1,138.3 336.2,137.1 336.2,135.4 336.5,135.1 336.4,134.8 336.8,132.8 336.7,131.6 337.0,130.8 337.4,128.9 337.3,127.7 337.3,126.3 337.7,125.6 338.1,123.5 338.1,122.3 338.5,121.2 338.3,119.4 338.3,118.6 338.8,117.4 339.0,116.2 339.5,115.5 340.0,113.8 340.3,112.2 340.8,110.6 341.5,109.4 342.0,108.8 342.6,107.2 342.8,105.6 344.0,103.7 345.1,103.4 346.0,104.7 347.1,105.1 347.6,106.4 348.7,107.1 349.6,109.1 349.4,110.1 349.9,111.8 350.7,111.9 350.7,113.8 350.9,115.7 351.1,116.1 351.0,116.5 351.0,119.2 350.9,119.6 351.1,122.2 351.0,121.9 351.2,122.8 351.1,124.7 351.4,125.8 351.6,127.6 351.3,127.6 351.7,130.4 352.0,131.0 352.1,132.6 352.4,133.5 352.3,135.2 352.9,135.1 353.2,137.4 352.9,137.2 353.2,139.7 353.2,139.7 353.6,141.5 353.5,144.4 354.1,144.7 353.8,145.7 353.7,146.7 354.1,147.2 354.1,149.3 354.6,150.3 354.9,151.1 354.8,151.9 355.1,154.4 355.3,155.6 355.3,156.3 355.6,157.1 356.2,159.4 356.0,159.9 356.3,160.8 356.5,162.1 356.6,163.5 356.7,164.5 356.7,166.0 357.0,167.5 357.3,169.7 357.6,170.0 357.8,171.0 358.1,172.9 357.7,174.2 358.3,173.7 358.2,176.1 358.1,177.0 358.5,179.0 358.9,181.3 359.2,181.7 359.7,182.4 359.9,182.5 360.4,185.0 361.3,186.1 361.5,186.5 362.1,188.7 362.2,189.2 362.9,191.1 363.8,191.5 364.5,192.9 365.1,193.2 366.2,193.7 367.7,196.5 368.5,196.3 370.1,196.5 371.4,196.8 372.9,197.4 374.0,198.3 375.3,197.4 376.6,199.0 378.0,199.0" fill="none" stroke="#111" stroke-width="1.2" stroke-linejoin="round" />
<polyline points="301.5,203.0 303.0,200.9 303.7,201.5 304.6,201.1 305.3,200.5 306.3,201.6 307.3,198.5 307.9,197.3 308.5,196.5 309.6,195.7 310.2,194.5 310.5,194.5 311.1,192.1 311.4,191.6 312.3,190.0 312.3,189.6 312.5,187.6 313.2,186.9 313.3,185.8 313.0,184.8 313.7,182.0 314.3,182.2 314.4,180.0 314.8,179.4 315.3,178.6 315.2,177.7 315.4,175.2 315.7,174.9 315.8,172.9 316.0,170.7 316.3,171.3 316.1,169.8 316.4,169.1 316.4,166.9 317.1,166.9 316.7,164.7 317.5,163.5 318.0,161.9 317.9,160.8 318.4,160.3 318.2,158.1 318.9,158.4 318.9,157.4 319.0,155.2 319.0,153.9 319.7,152.3 319.5,151.8 319.8,151.1 319.7,148.6 320.2,149.1 320.6,147.3 320.5,146.2 320.7,145.3 320.8,143.7 321.2,142.7 321.4,142.7 321.9,140.9 321.4,138.6 321.9,137.9 321.7,137.1 322.6,134.4 322.4,133.5 322.8,133.2 323.4,131.5 323.3,130.5 323.7,129.6 323.8,127.4 323.6,126.3 324.1,125.9 323.8,124.0 324.1,122.6 323.9,122.0 324.8,120.4 324.3,118.5 324.2,118.3 324.8,116.7 324.8,115.4 324.9,113.1 324.9,112.8 325.0,111.1 325.1,109.9 325.6,108.6 325.7,108.1 326.1,107.4 325.9,105.7 326.5,104.1 327.1,103.4 327.4,101.7 327.8,100.2 327.8,99.7 327.9,99.1 328.4,97.8 328.4,94.9 328.6,94.2 328.7,92.6 329.0,92.0 329.2,90.1 329.5,87.4 329.9,85.8 331.0,86.1 332.0,84.9 333.6,84.4 334.5,83.8 335.3,84.9 336.4,85.2 337.7,86.8 338.6,87.0 339.1,88.5 339.4,90.2 339.8,91.4 339.9,92.8 339.9,94.2 340.3,96.3 341.1,95.8 341.1,98.3 341.0,100.1 341.4,100.1 341.6,102.5 341.9,103.3 342.2,105.7 342.0,106.2 342.4,107.5 343.0,109.3 342.6,109.9 343.0,113.1 343.3,113.0 343.8,114.1 344.5,115.0 344.6,116.6 344.8,117.2 345.3,119.1 345.2,120.0 345.4,122.3 346.0,123.8 346.2,125.1 346.1,126.5 346.4,127.3 346.6,129.4 346.6,129.8 346.9,132.5 346.8,132.6 346.9,134.8 346.6,135.6 347.4,136.2 347.5,138.4 347.2,139.5 347.3,140.3 348.3,141.3 348.5,143.0 348.7,144.2 348.3,145.1 349.1,145.9 349.0,148.0 349.5,148.0 349.8,150.7 350.1,152.0 350.8,152.7 350.6,153.1 351.1,155.6 351.5,156.6 351.6,157.7 351.9,158.5 352.0,159.0 352.5,160.4 352.7,162.7 353.2,165.2 353.7,164.3 354.0,166.1 354.0,167.8 354.2,166.5 354.8,169.3 355.2,170.6 355.0,173.3 355.2,173.9 356.0,175.2 356.0,176.6 356.5,177.3 356.8,179.5 357.5,180.3 357.1,182.3 357.6,183.3 358.0,185.2 358.2,185.7 358.2,186.4 359.6,187.7 359.6,188.5 360.4,190.5 360.5,192.0 361.3,193.2 361.9,194.6 363.0,194.4 363.6,195.2 364.8,196.0 366.5,197.1 368.3,197.8 369.2,196.6 370.4,198.6 371.5,198.8 373.2,198.5" fill="none" stroke="#000" stroke-width="2.7" stroke-linejoin="round" />
<polyline points="373.2,198.5 374.8,199.8 376.3,198.6 377.2,198.7 379.1,199.0 379.8,199.5 381.5,199.4 382.7,199.7 383.9,199.7 384.8,200.3 386.3,200.3 387.1,199.2 389.0,198.3 390.1,198.6 391.4,198.1 392.5,199.2 394.0,198.9 395.0,199.1 396.5,198.1 397.2,198.6 398.5,197.9 400.0,198.3 401.0,198.6 402.1,198.6 403.4,197.7 405.1,198.4 406.1,198.0 407.6,198.0 408.7,198.3 409.8,197.1 411.1,198.3 412.7,198.5 413.7,197.8 415.2,197.8 416.4,198.2 417.4,197.6 418.7,198.4 420.5,197.1 421.3,196.1 422.5,197.7 423.5,198.4 424.7,198.1 426.3,197.4 427.7,198.7 428.5,197.2 430.1,198.0 431.0,198.1 432.5,198.5 433.9,199.1 435.4,200.0 436.4,200.1 437.8,200.2 438.5,200.6 440.0,201.4 441.4,201.2 442.7,202.3 444.0,201.6 445.4,201.8 446.7,202.3 448.0,202.6" fill="none" stroke="#000" stroke-width="1.9" stroke-linejoin="round" />
<polyline points="372.0,201.5 373.1,201.4 374.7,201.8 375.3,201.4 376.7,201.5 377.7,201.5 379.2,202.2 380.5,201.6 381.3,202.5 382.5,201.9 383.9,200.9 385.1,200.9 386.5,201.2 387.9,200.3 388.8,200.8 390.1,200.1 391.2,201.3 392.2,201.6 393.8,201.6 395.2,200.5 396.1,200.9 397.6,201.4 398.6,200.6 399.9,200.6 401.2,200.7 402.9,200.5 403.7,200.9 404.8,200.5 406.3,201.0 407.3,201.3 408.7,200.6 410.1,200.8 411.4,200.6 412.5,200.7 413.6,201.2 414.9,200.0 416.6,200.6 417.3,201.6 418.7,201.2 419.9,200.6 421.0,199.8 422.3,200.7 423.9,202.0 424.8,201.3 426.1,200.8 427.2,200.2 428.6,200.5 430.0,200.8 431.5,201.3 432.5,201.9 433.8,201.4 435.0,201.4 436.4,201.9 437.6,202.0 438.7,202.0 440.0,201.8" fill="none" stroke="#333" stroke-width="1.0" stroke-linejoin="round" />
<line x1="300.80" y1="7.30" x2="509.00" y2="7.30" stroke="#222" stroke-width="1.4"/>
<line x1="509.00" y1="7.30" x2="509.00" y2="203.80" stroke="#222" stroke-width="1.2"/>
<line x1="300.80" y1="203.80" x2="296.80" y2="203.80" stroke="#000" stroke-width="1.3"/>
<line x1="300.80" y1="195.94" x2="298.20" y2="195.94" stroke="#000" stroke-width="1.3"/>
<line x1="300.80" y1="188.08" x2="298.20" y2="188.08" stroke="#000" stroke-width="1.3"/>
<line x1="300.80" y1="180.22" x2="298.20" y2="180.22" stroke="#000" stroke-width="1.3"/>
<line x1="300.80" y1="172.36" x2="298.20" y2="172.36" stroke="#000" stroke-width="1.3"/>
<line x1="300.80" y1="164.50" x2="296.80" y2="164.50" stroke="#000" stroke-width="1.3"/>
<line x1="300.80" y1="156.64" x2="298.20" y2="156.64" stroke="#000" stroke-width="1.3"/>
<line x1="300.80" y1="148.78" x2="298.20" y2="148.78" stroke="#000" stroke-width="1.3"/>
<line x1="300.80" y1="140.92" x2="298.20" y2="140.92" stroke="#000" stroke-width="1.3"/>
<line x1="300.80" y1="133.06" x2="298.20" y2="133.06" stroke="#000" stroke-width="1.3"/>
<line x1="300.80" y1="125.20" x2="296.80" y2="125.20" stroke="#000" stroke-width="1.3"/>
<line x1="300.80" y1="117.34" x2="298.20" y2="117.34" stroke="#000" stroke-width="1.3"/>
<line x1="300.80" y1="109.48" x2="298.20" y2="109.48" stroke="#000" stroke-width="1.3"/>
<line x1="300.80" y1="101.62" x2="298.20" y2="101.62" stroke="#000" stroke-width="1.3"/>
<line x1="300.80" y1="93.76" x2="298.20" y2="93.76" stroke="#000" stroke-width="1.3"/>
<line x1="300.80" y1="85.90" x2="296.80" y2="85.90" stroke="#000" stroke-width="1.3"/>
<line x1="300.80" y1="78.04" x2="298.20" y2="78.04" stroke="#000" stroke-width="1.3"/>
<line x1="300.80" y1="70.18" x2="298.20" y2="70.18" stroke="#000" stroke-width="1.3"/>
<line x1="300.80" y1="62.32" x2="298.20" y2="62.32" stroke="#000" stroke-width="1.3"/>
<line x1="300.80" y1="54.46" x2="298.20" y2="54.46" stroke="#000" stroke-width="1.3"/>
<line x1="300.80" y1="46.60" x2="296.80" y2="46.60" stroke="#000" stroke-width="1.3"/>
<line x1="300.80" y1="38.74" x2="298.20" y2="38.74" stroke="#000" stroke-width="1.3"/>
<line x1="300.80" y1="30.88" x2="298.20" y2="30.88" stroke="#000" stroke-width="1.3"/>
<line x1="300.80" y1="23.02" x2="298.20" y2="23.02" stroke="#000" stroke-width="1.3"/>
<line x1="300.80" y1="15.16" x2="298.20" y2="15.16" stroke="#000" stroke-width="1.3"/>
<line x1="300.80" y1="7.30" x2="296.80" y2="7.30" stroke="#000" stroke-width="1.3"/>
<text transform="translate(292.6,203.8) rotate(-90)" font-size="9.2" text-anchor="middle" stroke="#000" stroke-width="0.25">0</text>
<text transform="translate(292.6,164.5) rotate(-90)" font-size="9.2" text-anchor="middle" stroke="#000" stroke-width="0.25">40</text>
<text transform="translate(292.6,125.2) rotate(-90)" font-size="9.2" text-anchor="middle" stroke="#000" stroke-width="0.25">80</text>
<text transform="translate(292.6,85.9) rotate(-90)" font-size="9.2" text-anchor="middle" stroke="#000" stroke-width="0.25">120</text>
<text transform="translate(292.6,46.6) rotate(-90)" font-size="9.2" text-anchor="middle" stroke="#000" stroke-width="0.25">160</text>
<text transform="translate(292.6,7.3) rotate(-90)" font-size="9.2" text-anchor="middle" stroke="#000" stroke-width="0.25">200</text>
<line x1="300.80" y1="203.80" x2="300.80" y2="208.80" stroke="#000" stroke-width="1.2"/>
<line x1="316.47" y1="203.80" x2="316.47" y2="206.80" stroke="#000" stroke-width="1.2"/>
<line x1="325.63" y1="203.80" x2="325.63" y2="206.80" stroke="#000" stroke-width="1.2"/>
<line x1="332.14" y1="203.80" x2="332.14" y2="206.80" stroke="#000" stroke-width="1.2"/>
<line x1="337.18" y1="203.80" x2="337.18" y2="206.80" stroke="#000" stroke-width="1.2"/>
<line x1="341.30" y1="203.80" x2="341.30" y2="206.80" stroke="#000" stroke-width="1.2"/>
<line x1="344.79" y1="203.80" x2="344.79" y2="206.80" stroke="#000" stroke-width="1.2"/>
<line x1="347.81" y1="203.80" x2="347.81" y2="206.80" stroke="#000" stroke-width="1.2"/>
<line x1="350.47" y1="203.80" x2="350.47" y2="206.80" stroke="#000" stroke-width="1.2"/>
<line x1="352.85" y1="203.80" x2="352.85" y2="208.80" stroke="#000" stroke-width="1.2"/>
<line x1="368.52" y1="203.80" x2="368.52" y2="206.80" stroke="#000" stroke-width="1.2"/>
<line x1="377.68" y1="203.80" x2="377.68" y2="206.80" stroke="#000" stroke-width="1.2"/>
<line x1="384.19" y1="203.80" x2="384.19" y2="206.80" stroke="#000" stroke-width="1.2"/>
<line x1="389.23" y1="203.80" x2="389.23" y2="206.80" stroke="#000" stroke-width="1.2"/>
<line x1="393.35" y1="203.80" x2="393.35" y2="206.80" stroke="#000" stroke-width="1.2"/>
<line x1="396.84" y1="203.80" x2="396.84" y2="206.80" stroke="#000" stroke-width="1.2"/>
<line x1="399.86" y1="203.80" x2="399.86" y2="206.80" stroke="#000" stroke-width="1.2"/>
<line x1="402.52" y1="203.80" x2="402.52" y2="206.80" stroke="#000" stroke-width="1.2"/>
<line x1="404.90" y1="203.80" x2="404.90" y2="208.80" stroke="#000" stroke-width="1.2"/>
<line x1="420.57" y1="203.80" x2="420.57" y2="206.80" stroke="#000" stroke-width="1.2"/>
<line x1="429.73" y1="203.80" x2="429.73" y2="206.80" stroke="#000" stroke-width="1.2"/>
<line x1="436.24" y1="203.80" x2="436.24" y2="206.80" stroke="#000" stroke-width="1.2"/>
<line x1="441.28" y1="203.80" x2="441.28" y2="206.80" stroke="#000" stroke-width="1.2"/>
<line x1="445.40" y1="203.80" x2="445.40" y2="206.80" stroke="#000" stroke-width="1.2"/>
<line x1="448.89" y1="203.80" x2="448.89" y2="206.80" stroke="#000" stroke-width="1.2"/>
<line x1="451.91" y1="203.80" x2="451.91" y2="206.80" stroke="#000" stroke-width="1.2"/>
<line x1="454.57" y1="203.80" x2="454.57" y2="206.80" stroke="#000" stroke-width="1.2"/>
<line x1="456.95" y1="203.80" x2="456.95" y2="208.80" stroke="#000" stroke-width="1.2"/>
<line x1="472.62" y1="203.80" x2="472.62" y2="206.80" stroke="#000" stroke-width="1.2"/>
<line x1="481.78" y1="203.80" x2="481.78" y2="206.80" stroke="#000" stroke-width="1.2"/>
<line x1="488.29" y1="203.80" x2="488.29" y2="206.80" stroke="#000" stroke-width="1.2"/>
<line x1="493.33" y1="203.80" x2="493.33" y2="206.80" stroke="#000" stroke-width="1.2"/>
<line x1="497.45" y1="203.80" x2="497.45" y2="206.80" stroke="#000" stroke-width="1.2"/>
<line x1="500.94" y1="203.80" x2="500.94" y2="206.80" stroke="#000" stroke-width="1.2"/>
<line x1="503.96" y1="203.80" x2="503.96" y2="206.80" stroke="#000" stroke-width="1.2"/>
<line x1="506.62" y1="203.80" x2="506.62" y2="206.80" stroke="#000" stroke-width="1.2"/>
<line x1="509.00" y1="203.80" x2="509.00" y2="208.80" stroke="#000" stroke-width="1.2"/>
<g transform="translate(300.80,220.60) scale(0.69,1)"><text x="-9.65" y="0" font-size="10.7" stroke="#000" stroke-width="0.25">10</text><text x="4.11" y="-5.88" font-size="9.95" stroke="#000" stroke-width="0.25">0</text></g>
<g transform="translate(352.85,220.60) scale(0.69,1)"><text x="-9.65" y="0" font-size="10.7" stroke="#000" stroke-width="0.25">10</text><text x="4.11" y="-5.88" font-size="9.95" stroke="#000" stroke-width="0.25">1</text></g>
<g transform="translate(404.90,220.60) scale(0.69,1)"><text x="-9.65" y="0" font-size="10.7" stroke="#000" stroke-width="0.25">10</text><text x="4.11" y="-5.88" font-size="9.95" stroke="#000" stroke-width="0.25">2</text></g>
<g transform="translate(456.95,220.60) scale(0.69,1)"><text x="-9.65" y="0" font-size="10.7" stroke="#000" stroke-width="0.25">10</text><text x="4.11" y="-5.88" font-size="9.95" stroke="#000" stroke-width="0.25">3</text></g>
<g transform="translate(509.00,220.60) scale(0.69,1)"><text x="-9.65" y="0" font-size="10.7" stroke="#000" stroke-width="0.25">10</text><text x="4.11" y="-5.88" font-size="9.95" stroke="#000" stroke-width="0.25">4</text></g>
<line x1="301.00" y1="6.80" x2="301.00" y2="204.80" stroke="#000" stroke-width="2.8"/>
<line x1="299.80" y1="203.80" x2="509.00" y2="203.80" stroke="#000" stroke-width="2.2"/>
<text transform="translate(284.10,124.16) rotate(-90) scale(1.09,1)" font-size="9.4" stroke="#000" stroke-width="0.3">Counts</text>
<text x="302.74" y="24.40" font-size="21.0" font-weight="bold" stroke="#000" stroke-width="0.42">B</text>
<text x="395.41" y="28.30" font-size="21.3" font-weight="normal" stroke="#000" stroke-width="0.42">Neutrophils</text>
<text x="326.80" y="57.00" font-size="18.9" font-weight="normal" stroke="#000" stroke-width="0.42">Blood-lepirudin</text>
<text x="358.53" y="86.60" font-size="18.9" font-weight="normal" stroke="#000" stroke-width="0.42">TNF/fMLP</text>
<text x="369.89" y="115.10" font-size="19.0" font-weight="normal" stroke="#000" stroke-width="0.42">PMA</text>
<text x="385.81" y="242.80" font-size="19.2" font-weight="normal" stroke="#000" stroke-width="0.42">Anti-C3d</text>
<line x1="346.50" y1="62.00" x2="337.95" y2="77.04" stroke="#000" stroke-width="1.2"/>
<path d="M334.0 84.0L334.6 75.1L341.3 79.0Z" fill="#000"/>
<line x1="358.00" y1="80.50" x2="350.14" y2="95.88" stroke="#000" stroke-width="1.2"/>
<path d="M346.5 103.0L346.7 94.1L353.6 97.7Z" fill="#000"/>
<line x1="370.00" y1="112.70" x2="360.71" y2="130.41" stroke="#000" stroke-width="1.2"/>
<path d="M357.0 137.5L357.3 128.6L364.2 132.2Z" fill="#000"/>
<path d="M43.6 463.8 L43.6 436.5 L45.2 436.5 L45.2 409.3 L46.8 409.3 L46.8 388.8 L48.4 388.8 L48.4 395.6 L50.0 395.6 L50.0 375.2 L51.6 375.2 L51.6 368.4 L53.2 368.4 L53.2 347.9 L54.8 347.9 L54.8 368.4 L56.4 368.4 L56.4 368.4 L58.0 368.4 L58.0 402.5 L59.6 402.5 L59.6 382.0 L61.2 382.0 L61.2 409.3 L62.8 409.3 L62.8 409.3 L64.4 409.3 L64.4 422.9 L66.0 422.9 L66.0 436.5 L67.6 436.5 L67.6 436.5 L69.2 436.5 L69.2 443.4 L70.8 443.4 L70.8 450.2 L72.4 450.2 L72.4 457.0 L74.0 457.0 L74.0 457.0 L75.6 457.0 L75.6 463.8 L77.2 463.8 L77.2 463.8Z" fill="#555" stroke="#111" stroke-width="1.0"/>
<polyline points="43.6,463.8 43.6,443.4 45.3,443.4 45.3,436.5 47.0,436.5 47.0,429.7 48.7,429.7 48.7,422.9 50.4,422.9 50.4,409.3 52.1,409.3 52.1,429.7 53.8,429.7 53.8,422.9 55.5,422.9 55.5,429.7 57.2,429.7 57.2,416.1 58.9,416.1 58.9,409.3 60.6,409.3 60.6,416.1 62.3,416.1 62.3,416.1 64.0,416.1 64.0,436.5 65.7,436.5 65.7,416.1 67.4,416.1 67.4,422.9 69.1,422.9 69.1,402.5 70.8,402.5 70.8,409.3 72.5,409.3 72.5,409.3 74.2,409.3 74.2,416.1 75.9,416.1 75.9,409.3 77.6,409.3 77.6,409.3 79.3,409.3 79.3,416.1 81.0,416.1 81.0,416.1 82.7,416.1 82.7,416.1 84.4,416.1 84.4,422.9 86.1,422.9 86.1,422.9 87.8,422.9 87.8,416.1 89.5,416.1 89.5,422.9 91.2,422.9 91.2,409.3 92.9,409.3 92.9,429.7 94.6,429.7 94.6,409.3 96.3,409.3 96.3,422.9 98.0,422.9 98.0,422.9 99.7,422.9 99.7,429.7 101.4,429.7 101.4,429.7 103.1,429.7 103.1,436.5 104.8,436.5 104.8,436.5 106.5,436.5 106.5,450.2 108.2,450.2 108.2,450.2 109.9,450.2 109.9,457.0 111.6,457.0 111.6,457.0 113.3,457.0 113.3,463.8" fill="none" stroke="#111" stroke-width="1.35" stroke-linejoin="round" />
<polyline points="43.6,463.8 43.6,429.7 45.3,429.7 45.3,443.4 47.0,443.4 47.0,416.1 48.7,416.1 48.7,416.1 50.4,416.1 50.4,402.5 52.1,402.5 52.1,402.5 53.8,402.5 53.8,382.0 55.5,382.0 55.5,395.6 57.2,395.6 57.2,402.5 58.9,402.5 58.9,395.6 60.6,395.6 60.6,402.5 62.3,402.5 62.3,409.3 64.0,409.3 64.0,409.3 65.7,409.3 65.7,402.5 67.4,402.5 67.4,402.5 69.1,402.5 69.1,409.3 70.8,409.3 70.8,409.3 72.5,409.3 72.5,422.9 74.2,422.9 74.2,388.8 75.9,388.8 75.9,402.5 77.6,402.5 77.6,388.8 79.3,388.8 79.3,395.6 81.0,395.6 81.0,382.0 82.7,382.0 82.7,382.0 84.4,382.0 84.4,395.6 86.1,395.6 86.1,388.8 87.8,388.8 87.8,416.1 89.5,416.1 89.5,402.5 91.2,402.5 91.2,422.9 92.9,422.9 92.9,409.3 94.6,409.3 94.6,409.3 96.3,409.3 96.3,422.9 98.0,422.9 98.0,429.7 99.7,429.7 99.7,436.5 101.4,436.5 101.4,443.4 103.1,443.4 103.1,443.4 104.8,443.4 104.8,450.2 106.5,450.2 106.5,457.0 108.2,457.0 108.2,457.0 109.9,457.0 109.9,463.8 111.6,463.8 111.6,457.0 113.3,457.0 113.3,463.8" fill="none" stroke="#111" stroke-width="1.35" stroke-linejoin="round" />
<polyline points="43.6,463.8 43.6,429.7 45.3,429.7 45.3,429.7 47.0,429.7 47.0,429.7 48.7,429.7 48.7,422.9 50.4,422.9 50.4,388.8 52.1,388.8 52.1,361.6 53.8,361.6 53.8,361.6 55.5,361.6 55.5,347.9 57.2,347.9 57.2,334.3 58.9,334.3 58.9,341.1 60.6,341.1 60.6,334.3 62.3,334.3 62.3,361.6 64.0,361.6 64.0,354.7 65.7,354.7 65.7,347.9 67.4,347.9 67.4,368.4 69.1,368.4 69.1,382.0 70.8,382.0 70.8,388.8 72.5,388.8 72.5,395.6 74.2,395.6 74.2,422.9 75.9,422.9 75.9,416.1 77.6,416.1 77.6,409.3 79.3,409.3 79.3,422.9 81.0,422.9 81.0,429.7 82.7,429.7 82.7,429.7 84.4,429.7 84.4,429.7 86.1,429.7 86.1,436.5 87.8,436.5 87.8,443.4 89.5,443.4 89.5,450.2 91.2,450.2 91.2,443.4 92.9,443.4 92.9,450.2 94.6,450.2 94.6,450.2 96.3,450.2 96.3,450.2 98.0,450.2 98.0,457.0 99.7,457.0 99.7,457.0 101.4,457.0 101.4,457.0 103.1,457.0 103.1,457.0 104.8,457.0 104.8,457.0 106.5,457.0 106.5,457.0 108.2,457.0 108.2,463.8 109.9,463.8 109.9,463.8 111.6,463.8 111.6,457.0 113.3,457.0 113.3,463.8" fill="none" stroke="#000" stroke-width="2.2" stroke-linejoin="round" />
<rect x="103" y="457.3" width="86" height="6.5" fill="#000"/>
<path d="M106.0 459.5h1.2v2.5h-1.2zM108.8 460.1h1.1v2.0h-1.1zM111.7 459.6h1.4v1.6h-1.4zM116.6 458.9h1.4v2.7h-1.4zM121.5 458.9h0.8v2.9h-0.8zM125.2 459.6h1.0v2.0h-1.0zM127.7 459.3h0.8v2.6h-0.8zM132.3 458.9h0.9v2.6h-0.9zM135.5 459.3h1.2v2.2h-1.2zM139.3 458.9h0.8v2.4h-0.8zM142.8 458.9h0.6v2.9h-0.6zM147.8 459.2h1.1v2.7h-1.1zM151.2 458.6h1.1v2.4h-1.1zM157.1 458.7h1.2v2.3h-1.2zM160.7 458.6h1.3v1.2h-1.3zM163.5 459.9h0.9v2.2h-0.9zM168.4 458.9h0.6v1.9h-0.6zM173.1 459.5h1.2v1.7h-1.2zM176.2 459.0h0.9v2.6h-0.9zM181.8 458.8h1.2v2.6h-1.2zM184.4 459.7h0.7v1.8h-0.7z" fill="#fff"/>
<line x1="103.00" y1="455.80" x2="122.00" y2="455.80" stroke="#000" stroke-width="1.1"/>
<line x1="114.00" y1="463.80" x2="114.00" y2="451.07" stroke="#000" stroke-width="1.1"/>
<line x1="120.00" y1="463.80" x2="120.00" y2="450.92" stroke="#000" stroke-width="1.1"/>
<line x1="127.00" y1="463.80" x2="127.00" y2="450.80" stroke="#000" stroke-width="1.1"/>
<line x1="132.70" y1="463.80" x2="132.70" y2="451.74" stroke="#000" stroke-width="1.1"/>
<line x1="151.00" y1="463.80" x2="151.00" y2="451.50" stroke="#000" stroke-width="1.1"/>
<line x1="157.00" y1="463.80" x2="157.00" y2="449.09" stroke="#000" stroke-width="1.1"/>
<line x1="164.00" y1="463.80" x2="164.00" y2="451.95" stroke="#000" stroke-width="1.1"/>
<line x1="195.50" y1="463.80" x2="195.50" y2="450.00" stroke="#333" stroke-width="1.2"/>
<line x1="197.30" y1="463.80" x2="197.30" y2="450.00" stroke="#333" stroke-width="1.2"/>
<line x1="195.50" y1="450.00" x2="197.30" y2="450.00" stroke="#333" stroke-width="1.0"/>
<line x1="42.30" y1="259.30" x2="260.30" y2="259.30" stroke="#555" stroke-width="1.4"/>
<line x1="260.30" y1="259.30" x2="260.30" y2="463.80" stroke="#aaa" stroke-width="1.2"/>
<line x1="42.30" y1="463.80" x2="38.30" y2="463.80" stroke="#000" stroke-width="1.3"/>
<line x1="42.30" y1="456.98" x2="39.70" y2="456.98" stroke="#000" stroke-width="1.3"/>
<line x1="42.30" y1="450.17" x2="39.70" y2="450.17" stroke="#000" stroke-width="1.3"/>
<line x1="42.30" y1="443.35" x2="39.70" y2="443.35" stroke="#000" stroke-width="1.3"/>
<line x1="42.30" y1="436.53" x2="39.70" y2="436.53" stroke="#000" stroke-width="1.3"/>
<line x1="42.30" y1="429.72" x2="38.30" y2="429.72" stroke="#000" stroke-width="1.3"/>
<line x1="42.30" y1="422.90" x2="39.70" y2="422.90" stroke="#000" stroke-width="1.3"/>
<line x1="42.30" y1="416.08" x2="39.70" y2="416.08" stroke="#000" stroke-width="1.3"/>
<line x1="42.30" y1="409.27" x2="39.70" y2="409.27" stroke="#000" stroke-width="1.3"/>
<line x1="42.30" y1="402.45" x2="39.70" y2="402.45" stroke="#000" stroke-width="1.3"/>
<line x1="42.30" y1="395.63" x2="38.30" y2="395.63" stroke="#000" stroke-width="1.3"/>
<line x1="42.30" y1="388.82" x2="39.70" y2="388.82" stroke="#000" stroke-width="1.3"/>
<line x1="42.30" y1="382.00" x2="39.70" y2="382.00" stroke="#000" stroke-width="1.3"/>
<line x1="42.30" y1="375.18" x2="39.70" y2="375.18" stroke="#000" stroke-width="1.3"/>
<line x1="42.30" y1="368.37" x2="39.70" y2="368.37" stroke="#000" stroke-width="1.3"/>
<line x1="42.30" y1="361.55" x2="38.30" y2="361.55" stroke="#000" stroke-width="1.3"/>
<line x1="42.30" y1="354.73" x2="39.70" y2="354.73" stroke="#000" stroke-width="1.3"/>
<line x1="42.30" y1="347.92" x2="39.70" y2="347.92" stroke="#000" stroke-width="1.3"/>
<line x1="42.30" y1="341.10" x2="39.70" y2="341.10" stroke="#000" stroke-width="1.3"/>
<line x1="42.30" y1="334.28" x2="39.70" y2="334.28" stroke="#000" stroke-width="1.3"/>
<line x1="42.30" y1="327.47" x2="38.30" y2="327.47" stroke="#000" stroke-width="1.3"/>
<line x1="42.30" y1="320.65" x2="39.70" y2="320.65" stroke="#000" stroke-width="1.3"/>
<line x1="42.30" y1="313.83" x2="39.70" y2="313.83" stroke="#000" stroke-width="1.3"/>
<line x1="42.30" y1="307.02" x2="39.70" y2="307.02" stroke="#000" stroke-width="1.3"/>
<line x1="42.30" y1="300.20" x2="39.70" y2="300.20" stroke="#000" stroke-width="1.3"/>
<line x1="42.30" y1="293.38" x2="38.30" y2="293.38" stroke="#000" stroke-width="1.3"/>
<line x1="42.30" y1="286.57" x2="39.70" y2="286.57" stroke="#000" stroke-width="1.3"/>
<line x1="42.30" y1="279.75" x2="39.70" y2="279.75" stroke="#000" stroke-width="1.3"/>
<line x1="42.30" y1="272.93" x2="39.70" y2="272.93" stroke="#000" stroke-width="1.3"/>
<line x1="42.30" y1="266.12" x2="39.70" y2="266.12" stroke="#000" stroke-width="1.3"/>
<line x1="42.30" y1="259.30" x2="38.30" y2="259.30" stroke="#000" stroke-width="1.3"/>
<text transform="translate(33.4,464.6) rotate(-90)" font-size="9.2" text-anchor="middle" stroke="#000" stroke-width="0.25">0</text>
<text transform="translate(33.4,430.5) rotate(-90)" font-size="9.2" text-anchor="middle" stroke="#000" stroke-width="0.25">5</text>
<text transform="translate(33.4,396.4) rotate(-90)" font-size="9.2" text-anchor="middle" stroke="#000" stroke-width="0.25">10</text>
<text transform="translate(33.4,362.4) rotate(-90)" font-size="9.2" text-anchor="middle" stroke="#000" stroke-width="0.25">15</text>
<text transform="translate(33.4,328.3) rotate(-90)" font-size="9.2" text-anchor="middle" stroke="#000" stroke-width="0.25">20</text>
<text transform="translate(33.4,294.2) rotate(-90)" font-size="9.2" text-anchor="middle" stroke="#000" stroke-width="0.25">25</text>
<text transform="translate(33.4,260.1) rotate(-90)" font-size="9.2" text-anchor="middle" stroke="#000" stroke-width="0.25">30</text>
<line x1="42.30" y1="463.80" x2="42.30" y2="468.80" stroke="#000" stroke-width="1.2"/>
<line x1="58.71" y1="463.80" x2="58.71" y2="466.80" stroke="#000" stroke-width="1.2"/>
<line x1="68.30" y1="463.80" x2="68.30" y2="466.80" stroke="#000" stroke-width="1.2"/>
<line x1="75.11" y1="463.80" x2="75.11" y2="466.80" stroke="#000" stroke-width="1.2"/>
<line x1="80.39" y1="463.80" x2="80.39" y2="466.80" stroke="#000" stroke-width="1.2"/>
<line x1="84.71" y1="463.80" x2="84.71" y2="466.80" stroke="#000" stroke-width="1.2"/>
<line x1="88.36" y1="463.80" x2="88.36" y2="466.80" stroke="#000" stroke-width="1.2"/>
<line x1="91.52" y1="463.80" x2="91.52" y2="466.80" stroke="#000" stroke-width="1.2"/>
<line x1="94.31" y1="463.80" x2="94.31" y2="466.80" stroke="#000" stroke-width="1.2"/>
<line x1="96.80" y1="463.80" x2="96.80" y2="468.80" stroke="#000" stroke-width="1.2"/>
<line x1="113.21" y1="463.80" x2="113.21" y2="466.80" stroke="#000" stroke-width="1.2"/>
<line x1="122.80" y1="463.80" x2="122.80" y2="466.80" stroke="#000" stroke-width="1.2"/>
<line x1="129.61" y1="463.80" x2="129.61" y2="466.80" stroke="#000" stroke-width="1.2"/>
<line x1="134.89" y1="463.80" x2="134.89" y2="466.80" stroke="#000" stroke-width="1.2"/>
<line x1="139.21" y1="463.80" x2="139.21" y2="466.80" stroke="#000" stroke-width="1.2"/>
<line x1="142.86" y1="463.80" x2="142.86" y2="466.80" stroke="#000" stroke-width="1.2"/>
<line x1="146.02" y1="463.80" x2="146.02" y2="466.80" stroke="#000" stroke-width="1.2"/>
<line x1="148.81" y1="463.80" x2="148.81" y2="466.80" stroke="#000" stroke-width="1.2"/>
<line x1="151.30" y1="463.80" x2="151.30" y2="468.80" stroke="#000" stroke-width="1.2"/>
<line x1="167.71" y1="463.80" x2="167.71" y2="466.80" stroke="#000" stroke-width="1.2"/>
<line x1="177.30" y1="463.80" x2="177.30" y2="466.80" stroke="#000" stroke-width="1.2"/>
<line x1="184.11" y1="463.80" x2="184.11" y2="466.80" stroke="#000" stroke-width="1.2"/>
<line x1="189.39" y1="463.80" x2="189.39" y2="466.80" stroke="#000" stroke-width="1.2"/>
<line x1="193.71" y1="463.80" x2="193.71" y2="466.80" stroke="#000" stroke-width="1.2"/>
<line x1="197.36" y1="463.80" x2="197.36" y2="466.80" stroke="#000" stroke-width="1.2"/>
<line x1="200.52" y1="463.80" x2="200.52" y2="466.80" stroke="#000" stroke-width="1.2"/>
<line x1="203.31" y1="463.80" x2="203.31" y2="466.80" stroke="#000" stroke-width="1.2"/>
<line x1="205.80" y1="463.80" x2="205.80" y2="468.80" stroke="#000" stroke-width="1.2"/>
<line x1="222.21" y1="463.80" x2="222.21" y2="466.80" stroke="#000" stroke-width="1.2"/>
<line x1="231.80" y1="463.80" x2="231.80" y2="466.80" stroke="#000" stroke-width="1.2"/>
<line x1="238.61" y1="463.80" x2="238.61" y2="466.80" stroke="#000" stroke-width="1.2"/>
<line x1="243.89" y1="463.80" x2="243.89" y2="466.80" stroke="#000" stroke-width="1.2"/>
<line x1="248.21" y1="463.80" x2="248.21" y2="466.80" stroke="#000" stroke-width="1.2"/>
<line x1="251.86" y1="463.80" x2="251.86" y2="466.80" stroke="#000" stroke-width="1.2"/>
<line x1="255.02" y1="463.80" x2="255.02" y2="466.80" stroke="#000" stroke-width="1.2"/>
<line x1="257.81" y1="463.80" x2="257.81" y2="466.80" stroke="#000" stroke-width="1.2"/>
<line x1="260.30" y1="463.80" x2="260.30" y2="468.80" stroke="#000" stroke-width="1.2"/>
<g transform="translate(42.30,480.60) scale(0.69,1)"><text x="-9.65" y="0" font-size="10.7" stroke="#000" stroke-width="0.25">10</text><text x="4.11" y="-5.88" font-size="9.95" stroke="#000" stroke-width="0.25">0</text></g>
<g transform="translate(96.80,480.60) scale(0.69,1)"><text x="-9.65" y="0" font-size="10.7" stroke="#000" stroke-width="0.25">10</text><text x="4.11" y="-5.88" font-size="9.95" stroke="#000" stroke-width="0.25">1</text></g>
<g transform="translate(151.30,480.60) scale(0.69,1)"><text x="-9.65" y="0" font-size="10.7" stroke="#000" stroke-width="0.25">10</text><text x="4.11" y="-5.88" font-size="9.95" stroke="#000" stroke-width="0.25">2</text></g>
<g transform="translate(205.80,480.60) scale(0.69,1)"><text x="-9.65" y="0" font-size="10.7" stroke="#000" stroke-width="0.25">10</text><text x="4.11" y="-5.88" font-size="9.95" stroke="#000" stroke-width="0.25">3</text></g>
<g transform="translate(260.30,480.60) scale(0.69,1)"><text x="-9.65" y="0" font-size="10.7" stroke="#000" stroke-width="0.25">10</text><text x="4.11" y="-5.88" font-size="9.95" stroke="#000" stroke-width="0.25">4</text></g>
<line x1="42.70" y1="258.80" x2="42.70" y2="464.80" stroke="#000" stroke-width="2.7"/>
<line x1="41.30" y1="463.80" x2="260.30" y2="463.80" stroke="#000" stroke-width="2.2"/>
<text transform="translate(24.40,381.06) rotate(-90) scale(1.09,1)" font-size="9.4" stroke="#000" stroke-width="0.3">Counts</text>
<text x="49.72" y="284.10" font-size="19.8" font-weight="bold" stroke="#000" stroke-width="0.42">C</text>
<text x="140.41" y="279.30" font-size="21.2" font-weight="normal" stroke="#000" stroke-width="0.42">Monocytes</text>
<text x="50.20" y="318.90" font-size="18.9" font-weight="normal" stroke="#000" stroke-width="0.42">Blood-lepirudin</text>
<text x="80.64" y="378.90" font-size="18.5" font-weight="normal" stroke="#000" stroke-width="0.42">T/fMLP</text>
<text x="112.49" y="406.60" font-size="19.0" font-weight="normal" stroke="#000" stroke-width="0.42">PMA</text>
<text x="103.31" y="496.20" font-size="18.9" font-weight="normal" stroke="#000" stroke-width="0.42">Anti-C3d</text>
<line x1="73.70" y1="319.50" x2="64.42" y2="336.03" stroke="#000" stroke-width="1.2"/>
<path d="M60.5 343.0L61.0 334.1L67.8 337.9Z" fill="#000"/>
<line x1="97.30" y1="380.60" x2="88.85" y2="395.99" stroke="#000" stroke-width="1.2"/>
<path d="M85.0 403.0L85.4 394.1L92.3 397.9Z" fill="#000"/>
<line x1="108.50" y1="402.00" x2="103.32" y2="415.25" stroke="#000" stroke-width="1.2"/>
<path d="M100.4 422.7L99.7 413.8L106.9 416.7Z" fill="#000"/>
<path d="M302.5 462.9 L302.5 425.0 L304.0 421.0 L306.5 418.0 L308.0 423.0 L310.0 430.0 L312.0 434.0 L314.2 439.0 L316.0 444.0 L318.0 448.0 L320.0 452.7 L323.0 456.5 L325.8 459.4 L330.0 460.5 L335.0 461.0 L340.0 461.0 L340.0 462.9Z" fill="#555" stroke="#111" stroke-width="1.0"/>
<polyline points="302.3,392.0 302.4,389.9 302.7,389.4 303.2,387.9 303.2,386.0 303.6,385.8 304.3,382.9 304.8,382.8 306.4,380.1 306.8,381.8 307.1,383.4 307.5,385.3 307.9,386.1 308.2,388.2 308.2,389.1 308.5,390.5 308.8,392.0 309.2,393.2 309.3,394.5 309.6,395.3 310.0,396.8 310.5,399.0 310.2,400.1 310.5,401.2 310.9,401.4 311.0,403.5 311.4,404.2 311.5,405.5 311.5,406.8 312.0,408.7 312.4,409.9 312.3,411.2 312.2,412.0 312.7,413.1 312.7,414.6 313.0,415.7 313.0,417.3 313.3,418.1 313.6,419.2 313.4,420.5 314.0,422.2 313.8,423.1 314.3,424.5 314.2,426.5 314.5,427.2 314.9,428.4 315.1,430.5 315.3,430.4 315.3,432.1 315.7,433.5 316.0,434.4 316.1,435.5 316.5,436.8 316.9,439.2 317.3,438.8 317.9,441.0 317.8,442.6 318.3,443.1 318.5,444.2 319.0,446.5 319.5,447.4 320.5,447.8 320.8,449.4 321.2,450.3 322.0,452.2 322.9,452.9 324.1,453.9 325.2,454.9 326.1,456.4 327.3,455.9 328.5,455.6 329.5,456.8 330.9,457.5 332.0,456.3 333.6,457.6 334.4,457.9 335.9,456.4 337.1,457.1 338.8,457.1 339.8,457.5 341.0,457.2 342.4,458.3 343.8,457.4 344.8,458.1 346.1,457.7 347.2,459.1 348.9,457.7 350.2,458.9 350.8,458.0 352.4,458.7 353.7,458.3 355.0,459.4 356.6,458.3 357.3,460.0 358.6,458.4 360.0,459.0 361.4,459.0 362.3,459.1 363.8,459.9 365.0,458.3 366.1,459.6 367.4,457.8 368.6,458.8 370.2,458.2 371.4,459.0 372.4,458.4 374.1,459.3 375.1,458.5 376.4,458.2 377.5,457.7 378.8,458.0 380.5,457.9 381.4,458.3 382.4,457.8 383.2,456.8 385.0,455.2 385.8,456.5 387.2,455.1 388.3,454.9 389.7,455.0 390.8,454.1 392.0,454.7 393.3,453.9 394.5,452.6 395.6,453.2 397.0,452.0 398.0,452.2 399.4,451.6 400.7,451.5 402.1,451.5 403.4,451.8 404.6,451.1 405.7,451.6 406.9,451.8 408.5,451.2 409.2,452.3 410.8,452.2 411.8,452.9 413.3,452.4 414.2,452.9 415.4,453.1 416.4,454.3 417.7,454.2 418.9,453.4 420.1,454.8 420.9,455.7 421.8,456.8 422.9,456.5 423.8,457.7 425.1,458.0 425.7,459.5 427.0,460.1 428.4,459.7 429.5,460.7 431.0,460.9 432.0,461.5" fill="none" stroke="#111" stroke-width="1.2" stroke-linejoin="round" />
<polyline points="302.3,312.0 302.6,314.2 302.2,314.6 302.9,316.7 303.0,318.1 303.1,318.9 303.2,319.5 303.1,321.4 303.3,323.1 303.7,324.5 303.6,325.5 303.5,325.7 303.8,327.4 303.6,327.6 304.0,329.3 304.2,331.1 304.2,332.2 304.4,333.3 304.5,334.3 304.4,335.4 304.6,337.0 304.5,339.3 304.7,339.5 305.0,341.8 305.1,342.6 305.3,342.8 305.5,345.3 305.5,346.1 305.4,346.6 305.8,349.0 305.9,350.1 306.3,351.4 306.5,353.3 306.3,354.3 306.4,355.5 306.9,356.3 306.9,357.8 307.2,359.2 307.3,360.8 307.4,361.6 307.7,363.6 307.7,364.0 308.3,365.1 308.1,366.7 308.4,368.2 308.5,369.1 308.9,370.7 308.8,372.1 309.0,371.8 309.2,373.9 309.4,375.2 309.7,376.4 309.7,378.4 309.5,377.9 309.9,379.4 309.7,380.9 310.1,381.3 310.5,384.4 310.7,384.7 310.7,385.7 310.8,387.2 310.9,388.6 311.2,390.4 311.3,390.4 310.9,392.7 311.3,393.9 311.6,395.1 311.8,396.5 311.8,397.1 312.2,398.8 312.2,400.2 312.3,401.3 312.3,402.6 312.3,403.5 312.5,404.9 312.5,407.4 312.6,407.3 313.3,408.4 313.1,410.3 313.1,410.5 313.0,412.5 313.4,412.7 313.5,414.7 313.8,416.3 313.7,417.2 314.0,419.3 314.7,420.0 314.4,421.4 314.6,422.6 314.8,423.5 314.8,424.8 315.3,426.0 315.6,427.7 315.5,429.3 315.5,430.2 316.2,430.7 316.0,432.5 316.6,433.5 316.7,434.9 317.0,435.1 317.2,436.9 317.3,438.3 317.7,439.6 317.9,440.0 318.2,442.3 318.9,443.6 319.3,444.5 319.8,444.4 320.4,446.1 321.0,446.9 321.9,448.8 322.1,450.1 323.0,450.5 324.0,451.4 324.6,451.9 326.1,453.6 327.1,453.6 327.9,455.0 329.3,455.1 330.1,456.6 331.5,456.3 332.5,456.7 334.1,458.0 334.9,457.4 336.5,458.9 337.7,458.7 338.4,457.7 340.1,458.4 341.3,458.4 342.4,459.0 343.7,458.9 345.0,459.1 346.5,459.8 347.3,459.1 348.6,459.8 349.8,459.9 351.4,459.8 352.3,459.5 353.6,459.8 355.2,458.9 356.1,459.6 357.4,460.4 358.7,459.8 359.8,460.5 361.3,460.2 362.5,458.8 363.5,459.2 365.1,459.6 366.3,460.0 367.5,460.4 368.8,459.1 369.9,460.8 371.1,460.4 372.8,459.2 373.8,458.5 375.1,458.6 376.0,458.6 377.4,458.2 378.8,458.2 379.9,458.5 381.7,457.8 382.4,457.0 383.9,457.1 385.0,456.0 385.9,455.9 387.4,455.8 387.9,455.6 389.6,455.4 390.1,454.3 391.8,454.0 392.7,452.2 393.8,452.4 395.1,452.3 396.1,452.0 397.1,450.8 398.4,451.0 399.5,450.9 400.8,449.4 401.9,449.0 402.8,448.3 404.4,449.8 405.1,450.2 406.7,449.8 407.8,451.5 408.9,450.9 410.2,450.5 411.1,450.6 412.7,452.1 413.8,451.3 415.4,452.2 416.8,452.6 418.0,453.0 419.0,453.3 419.8,455.2 421.5,455.7 421.7,455.9 423.2,455.8 423.9,457.1 424.8,457.6 426.4,458.4 427.3,460.1 428.4,458.8 429.8,461.4 430.9,461.1 432.0,461.5" fill="none" stroke="#111" stroke-width="1.2" stroke-linejoin="round" />
<polyline points="302.3,300.0 302.5,301.5 302.5,301.9 302.6,303.1 302.9,305.9 302.9,305.8 303.3,307.7 303.4,308.1 303.5,310.5 303.3,310.9 303.3,311.6 303.4,313.6 303.7,315.2 304.2,316.1 303.6,317.1 304.4,318.8 304.1,319.7 304.4,320.7 305.0,321.9 304.9,324.4 304.9,324.9 305.2,326.3 305.0,327.6 305.8,327.8 305.8,330.2 305.5,332.9 306.0,331.9 306.0,334.4 306.1,335.8 306.2,337.1 306.8,337.4 306.7,338.8 307.0,339.6 307.0,341.6 307.7,343.8 307.4,343.7 308.1,344.1 308.1,346.7 308.8,348.5 308.8,349.0 309.2,351.6 309.6,351.6 310.1,353.1 310.4,353.6 310.8,355.4 311.5,357.5 311.4,358.7 311.6,360.1 311.9,361.0 311.8,362.0 312.0,361.6 312.6,363.6 312.9,367.0 312.9,366.2 313.4,368.1 313.6,368.9 313.9,370.6 313.6,371.3 314.0,371.9 314.1,373.2 314.4,375.1 314.3,375.8 314.4,376.0 314.3,378.9 314.2,380.4 314.4,381.5 314.7,382.7 315.1,382.3 315.5,385.6 315.3,385.6 315.4,386.3 315.8,387.8 315.6,388.8 315.6,389.7 316.2,391.7 316.2,393.0 316.0,394.0 316.1,395.4 316.3,396.4 316.2,397.2 317.0,398.5 316.5,400.4 317.2,400.3 317.0,402.1 316.7,404.3 317.3,405.0 317.2,406.5 317.4,407.2 317.4,407.7 318.1,409.4 318.0,410.9 317.9,411.8 318.3,413.1 318.3,414.5 318.7,416.2 318.7,416.5 318.4,418.7 319.1,419.2 319.2,421.0 319.4,422.3 319.2,423.9 319.2,424.7 319.8,425.9 320.3,427.5 319.7,426.4 320.3,428.1 320.2,430.6 320.0,429.7 320.6,432.4 320.6,433.6 320.8,433.7 321.3,435.3 321.2,437.6 321.9,438.7 322.0,439.1 322.3,440.2 322.8,441.5 323.2,443.4 323.9,443.4 323.9,445.5 324.0,445.8 324.2,448.5 325.0,449.1 325.6,450.8 326.3,449.5 326.8,450.6 326.9,452.6 328.7,454.0 328.7,454.3 330.5,455.6 331.4,456.0 332.6,457.1 333.9,457.2 334.7,457.9 336.1,458.4" fill="none" stroke="#000" stroke-width="2.6" stroke-linejoin="round" />
<polyline points="336.1,458.4 337.2,457.7 338.7,456.9 340.4,459.0 341.1,458.7 342.6,456.4 343.8,458.3 345.0,457.7 346.2,458.5 347.8,458.9 348.7,459.8 349.9,458.6 350.8,460.0 352.7,459.6 353.9,459.2 355.1,459.0 356.2,459.3 357.9,459.7 358.7,459.0 359.8,460.6 361.4,459.4 362.4,458.5 363.7,459.7 364.9,458.8 366.2,459.0 367.1,458.6 368.5,459.2 369.8,458.9 371.6,458.2 372.4,458.4 373.7,457.4 375.1,459.4 376.2,457.5 377.2,457.5 378.4,456.1 380.3,455.9 381.5,457.2 382.6,456.1 384.2,455.2 384.9,454.1 386.2,455.4 387.6,453.0 388.3,452.6 389.7,452.2 390.9,451.9 391.9,451.0 393.3,450.4 394.5,451.3 395.7,449.5 396.4,449.3 397.5,447.5 399.5,448.6 400.5,446.6 401.7,446.9 403.2,448.6 404.3,446.7 405.2,447.5 406.7,446.9 408.0,447.2 409.5,448.6 410.8,447.4 411.9,447.5 412.9,447.3 413.9,447.1 415.7,448.6 416.8,450.1 417.6,449.5 419.0,451.0 419.9,452.2 421.1,451.4 421.8,453.6 423.1,452.5 424.3,455.2 425.3,455.4 425.9,455.7 427.6,457.3 428.4,457.8 429.0,458.0 429.9,460.7 431.0,461.4 432.7,460.6 433.9,461.7 435.3,461.8 436.5,462.0 438.0,462.0" fill="none" stroke="#000" stroke-width="1.7" stroke-linejoin="round" />
<polyline points="328.0,460.5 328.9,459.7 330.2,460.3 331.2,460.4 332.7,461.1 334.3,461.4 335.5,460.6 336.7,461.5 337.6,461.0 339.0,461.5 340.0,460.5 341.5,460.8 342.3,460.9 343.9,460.6 345.1,460.9 346.0,461.7 347.4,459.4 348.8,461.7 349.9,461.7 351.6,460.3 352.0,460.0 354.0,460.3 354.7,459.9 356.3,460.7 357.7,461.3 358.6,460.6 359.8,460.7 361.0,459.9 362.9,460.7 363.9,462.0 365.2,460.6 366.3,460.2 367.7,460.4 369.1,460.4 369.9,460.3 371.4,460.7 372.8,460.2 373.8,461.7 374.9,460.8 376.6,460.8 377.4,459.1 379.3,460.6 380.3,460.0 381.6,460.5 382.5,459.6 383.8,459.8 385.0,459.0 386.1,460.0 387.2,459.9 388.9,459.6 389.9,459.4 391.4,458.8 392.4,459.4 393.8,459.5 394.8,460.7 396.3,458.7 397.3,459.5 398.9,458.6 400.1,458.5 401.1,459.8 402.9,459.2 403.7,460.0 404.8,459.3 406.3,459.7 407.6,458.9 408.9,458.4 410.2,458.6 411.0,458.9 412.4,459.6 413.6,459.7 415.0,459.3 415.8,460.1 417.3,458.3 418.2,459.8 419.3,459.4 420.4,460.1 422.1,460.1 423.6,460.0 424.4,461.6 425.5,461.0 426.7,460.9 428.7,461.1 429.3,462.0 430.6,461.2 432.0,461.5" fill="none" stroke="#111" stroke-width="1.6" stroke-linejoin="round" />
<polyline points="326.0,457.2 327.1,457.4 328.3,457.6 330.0,457.1 331.2,457.5 332.3,457.0 333.3,458.2 334.9,458.8 336.3,457.8 337.3,458.4 338.6,458.5 339.9,457.9 341.0,458.9 342.5,457.6 343.9,457.3 345.1,457.1 346.3,457.2 347.2,457.4 348.5,457.9 350.0,457.9 351.3,457.4 352.5,458.1 353.7,457.1 354.8,457.4 356.1,458.5 357.3,457.0 358.7,457.9 360.0,457.1 361.1,457.4 362.7,457.2 363.7,457.4 365.1,457.9 366.0,458.9 367.5,457.5 368.6,457.6 370.0,458.1 371.3,457.9 372.2,457.2 373.6,457.6 375.1,456.7 376.2,457.7 377.7,456.6 378.8,457.3 380.0,457.0" fill="none" stroke="#000" stroke-width="1.8" stroke-linejoin="round" />
<line x1="302.20" y1="261.00" x2="509.00" y2="261.00" stroke="#555" stroke-width="1.4"/>
<line x1="509.00" y1="261.00" x2="509.00" y2="462.90" stroke="#555" stroke-width="1.2"/>
<line x1="302.20" y1="462.90" x2="298.20" y2="462.90" stroke="#000" stroke-width="1.3"/>
<line x1="302.20" y1="454.82" x2="299.60" y2="454.82" stroke="#000" stroke-width="1.3"/>
<line x1="302.20" y1="446.75" x2="299.60" y2="446.75" stroke="#000" stroke-width="1.3"/>
<line x1="302.20" y1="438.67" x2="299.60" y2="438.67" stroke="#000" stroke-width="1.3"/>
<line x1="302.20" y1="430.60" x2="299.60" y2="430.60" stroke="#000" stroke-width="1.3"/>
<line x1="302.20" y1="422.52" x2="298.20" y2="422.52" stroke="#000" stroke-width="1.3"/>
<line x1="302.20" y1="414.44" x2="299.60" y2="414.44" stroke="#000" stroke-width="1.3"/>
<line x1="302.20" y1="406.37" x2="299.60" y2="406.37" stroke="#000" stroke-width="1.3"/>
<line x1="302.20" y1="398.29" x2="299.60" y2="398.29" stroke="#000" stroke-width="1.3"/>
<line x1="302.20" y1="390.22" x2="299.60" y2="390.22" stroke="#000" stroke-width="1.3"/>
<line x1="302.20" y1="382.14" x2="298.20" y2="382.14" stroke="#000" stroke-width="1.3"/>
<line x1="302.20" y1="374.06" x2="299.60" y2="374.06" stroke="#000" stroke-width="1.3"/>
<line x1="302.20" y1="365.99" x2="299.60" y2="365.99" stroke="#000" stroke-width="1.3"/>
<line x1="302.20" y1="357.91" x2="299.60" y2="357.91" stroke="#000" stroke-width="1.3"/>
<line x1="302.20" y1="349.84" x2="299.60" y2="349.84" stroke="#000" stroke-width="1.3"/>
<line x1="302.20" y1="341.76" x2="298.20" y2="341.76" stroke="#000" stroke-width="1.3"/>
<line x1="302.20" y1="333.68" x2="299.60" y2="333.68" stroke="#000" stroke-width="1.3"/>
<line x1="302.20" y1="325.61" x2="299.60" y2="325.61" stroke="#000" stroke-width="1.3"/>
<line x1="302.20" y1="317.53" x2="299.60" y2="317.53" stroke="#000" stroke-width="1.3"/>
<line x1="302.20" y1="309.46" x2="299.60" y2="309.46" stroke="#000" stroke-width="1.3"/>
<line x1="302.20" y1="301.38" x2="298.20" y2="301.38" stroke="#000" stroke-width="1.3"/>
<line x1="302.20" y1="293.30" x2="299.60" y2="293.30" stroke="#000" stroke-width="1.3"/>
<line x1="302.20" y1="285.23" x2="299.60" y2="285.23" stroke="#000" stroke-width="1.3"/>
<line x1="302.20" y1="277.15" x2="299.60" y2="277.15" stroke="#000" stroke-width="1.3"/>
<line x1="302.20" y1="269.08" x2="299.60" y2="269.08" stroke="#000" stroke-width="1.3"/>
<line x1="302.20" y1="261.00" x2="298.20" y2="261.00" stroke="#000" stroke-width="1.3"/>
<text transform="translate(294.0,462.9) rotate(-90)" font-size="9.2" text-anchor="middle" stroke="#000" stroke-width="0.25">0</text>
<text transform="translate(294.0,422.5) rotate(-90)" font-size="9.2" text-anchor="middle" stroke="#000" stroke-width="0.25">40</text>
<text transform="translate(294.0,382.1) rotate(-90)" font-size="9.2" text-anchor="middle" stroke="#000" stroke-width="0.25">80</text>
<text transform="translate(294.0,341.8) rotate(-90)" font-size="9.2" text-anchor="middle" stroke="#000" stroke-width="0.25">120</text>
<text transform="translate(294.0,301.4) rotate(-90)" font-size="9.2" text-anchor="middle" stroke="#000" stroke-width="0.25">160</text>
<text transform="translate(294.0,261.0) rotate(-90)" font-size="9.2" text-anchor="middle" stroke="#000" stroke-width="0.25">200</text>
<line x1="302.20" y1="462.90" x2="302.20" y2="467.90" stroke="#000" stroke-width="1.2"/>
<line x1="317.76" y1="462.90" x2="317.76" y2="465.90" stroke="#000" stroke-width="1.2"/>
<line x1="326.87" y1="462.90" x2="326.87" y2="465.90" stroke="#000" stroke-width="1.2"/>
<line x1="333.33" y1="462.90" x2="333.33" y2="465.90" stroke="#000" stroke-width="1.2"/>
<line x1="338.34" y1="462.90" x2="338.34" y2="465.90" stroke="#000" stroke-width="1.2"/>
<line x1="342.43" y1="462.90" x2="342.43" y2="465.90" stroke="#000" stroke-width="1.2"/>
<line x1="345.89" y1="462.90" x2="345.89" y2="465.90" stroke="#000" stroke-width="1.2"/>
<line x1="348.89" y1="462.90" x2="348.89" y2="465.90" stroke="#000" stroke-width="1.2"/>
<line x1="351.53" y1="462.90" x2="351.53" y2="465.90" stroke="#000" stroke-width="1.2"/>
<line x1="353.90" y1="462.90" x2="353.90" y2="467.90" stroke="#000" stroke-width="1.2"/>
<line x1="369.46" y1="462.90" x2="369.46" y2="465.90" stroke="#000" stroke-width="1.2"/>
<line x1="378.57" y1="462.90" x2="378.57" y2="465.90" stroke="#000" stroke-width="1.2"/>
<line x1="385.03" y1="462.90" x2="385.03" y2="465.90" stroke="#000" stroke-width="1.2"/>
<line x1="390.04" y1="462.90" x2="390.04" y2="465.90" stroke="#000" stroke-width="1.2"/>
<line x1="394.13" y1="462.90" x2="394.13" y2="465.90" stroke="#000" stroke-width="1.2"/>
<line x1="397.59" y1="462.90" x2="397.59" y2="465.90" stroke="#000" stroke-width="1.2"/>
<line x1="400.59" y1="462.90" x2="400.59" y2="465.90" stroke="#000" stroke-width="1.2"/>
<line x1="403.23" y1="462.90" x2="403.23" y2="465.90" stroke="#000" stroke-width="1.2"/>
<line x1="405.60" y1="462.90" x2="405.60" y2="467.90" stroke="#000" stroke-width="1.2"/>
<line x1="421.16" y1="462.90" x2="421.16" y2="465.90" stroke="#000" stroke-width="1.2"/>
<line x1="430.27" y1="462.90" x2="430.27" y2="465.90" stroke="#000" stroke-width="1.2"/>
<line x1="436.73" y1="462.90" x2="436.73" y2="465.90" stroke="#000" stroke-width="1.2"/>
<line x1="441.74" y1="462.90" x2="441.74" y2="465.90" stroke="#000" stroke-width="1.2"/>
<line x1="445.83" y1="462.90" x2="445.83" y2="465.90" stroke="#000" stroke-width="1.2"/>
<line x1="449.29" y1="462.90" x2="449.29" y2="465.90" stroke="#000" stroke-width="1.2"/>
<line x1="452.29" y1="462.90" x2="452.29" y2="465.90" stroke="#000" stroke-width="1.2"/>
<line x1="454.93" y1="462.90" x2="454.93" y2="465.90" stroke="#000" stroke-width="1.2"/>
<line x1="457.30" y1="462.90" x2="457.30" y2="467.90" stroke="#000" stroke-width="1.2"/>
<line x1="472.86" y1="462.90" x2="472.86" y2="465.90" stroke="#000" stroke-width="1.2"/>
<line x1="481.97" y1="462.90" x2="481.97" y2="465.90" stroke="#000" stroke-width="1.2"/>
<line x1="488.43" y1="462.90" x2="488.43" y2="465.90" stroke="#000" stroke-width="1.2"/>
<line x1="493.44" y1="462.90" x2="493.44" y2="465.90" stroke="#000" stroke-width="1.2"/>
<line x1="497.53" y1="462.90" x2="497.53" y2="465.90" stroke="#000" stroke-width="1.2"/>
<line x1="500.99" y1="462.90" x2="500.99" y2="465.90" stroke="#000" stroke-width="1.2"/>
<line x1="503.99" y1="462.90" x2="503.99" y2="465.90" stroke="#000" stroke-width="1.2"/>
<line x1="506.63" y1="462.90" x2="506.63" y2="465.90" stroke="#000" stroke-width="1.2"/>
<line x1="509.00" y1="462.90" x2="509.00" y2="467.90" stroke="#000" stroke-width="1.2"/>
<g transform="translate(302.20,479.70) scale(0.69,1)"><text x="-9.65" y="0" font-size="10.7" stroke="#000" stroke-width="0.25">10</text><text x="4.11" y="-5.88" font-size="9.95" stroke="#000" stroke-width="0.25">0</text></g>
<g transform="translate(353.90,479.70) scale(0.69,1)"><text x="-9.65" y="0" font-size="10.7" stroke="#000" stroke-width="0.25">10</text><text x="4.11" y="-5.88" font-size="9.95" stroke="#000" stroke-width="0.25">1</text></g>
<g transform="translate(405.60,479.70) scale(0.69,1)"><text x="-9.65" y="0" font-size="10.7" stroke="#000" stroke-width="0.25">10</text><text x="4.11" y="-5.88" font-size="9.95" stroke="#000" stroke-width="0.25">2</text></g>
<g transform="translate(457.30,479.70) scale(0.69,1)"><text x="-9.65" y="0" font-size="10.7" stroke="#000" stroke-width="0.25">10</text><text x="4.11" y="-5.88" font-size="9.95" stroke="#000" stroke-width="0.25">3</text></g>
<g transform="translate(509.00,479.70) scale(0.69,1)"><text x="-9.65" y="0" font-size="10.7" stroke="#000" stroke-width="0.25">10</text><text x="4.11" y="-5.88" font-size="9.95" stroke="#000" stroke-width="0.25">4</text></g>
<line x1="302.20" y1="260.50" x2="302.20" y2="463.90" stroke="#000" stroke-width="2.4"/>
<line x1="301.20" y1="462.90" x2="509.00" y2="462.90" stroke="#000" stroke-width="2.4"/>
<text transform="translate(284.90,380.16) rotate(-90) scale(1.09,1)" font-size="9.4" stroke="#000" stroke-width="0.3">Counts</text>
<text x="306.86" y="280.40" font-size="20.7" font-weight="bold" stroke="#000" stroke-width="0.42">D</text>
<text x="358.71" y="281.40" font-size="21.3" font-weight="normal" stroke="#000" stroke-width="0.42">Lymphocytes</text>
<text x="318.70" y="314.70" font-size="18.9" font-weight="normal" stroke="#000" stroke-width="0.42">Blood-</text>
<text x="318.98" y="337.80" font-size="18.9" font-weight="normal" stroke="#000" stroke-width="0.42">lepirudin</text>
<text x="319.83" y="369.50" font-size="18.8" font-weight="normal" stroke="#000" stroke-width="0.42">T/fMLP</text>
<text x="332.20" y="394.10" font-size="18.9" font-weight="normal" stroke="#000" stroke-width="0.42">PMA</text>
<text x="372.11" y="497.90" font-size="18.9" font-weight="normal" stroke="#000" stroke-width="0.42">Anti-C3d</text>
<line x1="316.40" y1="318.20" x2="310.94" y2="328.88" stroke="#000" stroke-width="1.2"/>
<path d="M307.3 336.0L307.5 327.1L314.4 330.7Z" fill="#000"/>
<line x1="322.40" y1="347.60" x2="314.82" y2="364.22" stroke="#000" stroke-width="1.2"/>
<path d="M311.5 371.5L311.3 362.6L318.4 365.8Z" fill="#000"/>
<line x1="330.20" y1="384.80" x2="319.56" y2="407.74" stroke="#000" stroke-width="1.2"/>
<path d="M316.2 415.0L316.0 406.1L323.1 409.4Z" fill="#000"/>
<line x1="119.50" y1="532.50" x2="119.50" y2="719.40" stroke="#555" stroke-width="1.1"/>
<line x1="116.50" y1="716.40" x2="501.00" y2="716.40" stroke="#555" stroke-width="1.1"/>
<line x1="116.00" y1="716.40" x2="119.50" y2="716.40" stroke="#555" stroke-width="1.1"/>
<text x="99.05" y="719.50" font-size="19.0" font-weight="normal" stroke="#000" stroke-width="0.42">0</text>
<line x1="116.00" y1="670.42" x2="119.50" y2="670.42" stroke="#555" stroke-width="1.1"/>
<text x="99.05" y="674.30" font-size="19.0" font-weight="normal" stroke="#000" stroke-width="0.42">5</text>
<line x1="116.00" y1="624.45" x2="119.50" y2="624.45" stroke="#555" stroke-width="1.1"/>
<text x="91.19" y="629.00" font-size="19.0" font-weight="normal" stroke="#000" stroke-width="0.42">10</text>
<line x1="116.00" y1="578.48" x2="119.50" y2="578.48" stroke="#555" stroke-width="1.1"/>
<text x="91.19" y="584.50" font-size="19.0" font-weight="normal" stroke="#000" stroke-width="0.42">15</text>
<line x1="116.00" y1="532.50" x2="119.50" y2="532.50" stroke="#555" stroke-width="1.1"/>
<text x="91.46" y="540.00" font-size="19.0" font-weight="normal" stroke="#000" stroke-width="0.42">20</text>
<line x1="214.70" y1="716.40" x2="214.70" y2="719.90" stroke="#555" stroke-width="1.1"/>
<line x1="309.80" y1="716.40" x2="309.80" y2="719.90" stroke="#555" stroke-width="1.1"/>
<line x1="405.00" y1="716.40" x2="405.00" y2="719.90" stroke="#555" stroke-width="1.1"/>
<line x1="500.80" y1="716.40" x2="500.80" y2="719.90" stroke="#555" stroke-width="1.1"/>
<text x="15.18" y="538.60" font-size="20.4" font-weight="bold" stroke="#000" stroke-width="0.42">E</text>
<text transform="translate(60.90,701.33) rotate(-90)" font-size="19.2" stroke="#000" stroke-width="0.42">Neutrophil bound C3</text>
<text transform="translate(84.20,636.32) rotate(-90)" font-size="18.8" stroke="#000" stroke-width="0.42">(MFI)</text>
<rect x="132.50" y="713.64" width="17.45" height="2.76" fill="#ffffff" stroke="#222" stroke-width="1"/>
<rect x="149.95" y="715.02" width="17.45" height="1.38" fill="#b8b8b8" stroke="#222" stroke-width="1"/>
<line x1="158.67" y1="715.02" x2="158.67" y2="713.18" stroke="#555" stroke-width="1.1"/>
<line x1="156.37" y1="713.18" x2="160.97" y2="713.18" stroke="#555" stroke-width="1.1"/>
<rect x="167.40" y="715.94" width="17.45" height="0.46" fill="#6e6e6e" stroke="#222" stroke-width="1"/>
<rect x="184.85" y="714.56" width="17.45" height="1.84" fill="#000000" stroke="#222" stroke-width="1"/>
<rect x="228.00" y="715.94" width="17.45" height="0.46" fill="#ffffff" stroke="#222" stroke-width="1"/>
<line x1="236.72" y1="715.94" x2="236.72" y2="713.18" stroke="#555" stroke-width="1.1"/>
<line x1="234.42" y1="713.18" x2="239.03" y2="713.18" stroke="#555" stroke-width="1.1"/>
<rect x="245.45" y="714.56" width="17.45" height="1.84" fill="#b8b8b8" stroke="#222" stroke-width="1"/>
<line x1="254.17" y1="714.56" x2="254.17" y2="710.88" stroke="#555" stroke-width="1.1"/>
<line x1="251.87" y1="710.88" x2="256.47" y2="710.88" stroke="#555" stroke-width="1.1"/>
<rect x="262.90" y="712.26" width="17.45" height="4.14" fill="#6e6e6e" stroke="#222" stroke-width="1"/>
<line x1="271.62" y1="712.26" x2="271.62" y2="711.80" stroke="#555" stroke-width="1.1"/>
<line x1="269.32" y1="711.80" x2="273.93" y2="711.80" stroke="#555" stroke-width="1.1"/>
<rect x="280.35" y="706.29" width="17.45" height="10.11" fill="#000000" stroke="#222" stroke-width="1"/>
<line x1="289.08" y1="706.29" x2="289.08" y2="698.47" stroke="#555" stroke-width="1.1"/>
<line x1="286.78" y1="698.47" x2="291.38" y2="698.47" stroke="#555" stroke-width="1.1"/>
<rect x="323.30" y="705.37" width="17.45" height="11.03" fill="#ffffff" stroke="#222" stroke-width="1"/>
<line x1="332.03" y1="705.37" x2="332.03" y2="695.25" stroke="#555" stroke-width="1.1"/>
<line x1="329.73" y1="695.25" x2="334.33" y2="695.25" stroke="#555" stroke-width="1.1"/>
<rect x="340.75" y="670.42" width="17.45" height="45.97" fill="#b8b8b8" stroke="#222" stroke-width="1"/>
<line x1="349.48" y1="670.42" x2="349.48" y2="657.55" stroke="#555" stroke-width="1.1"/>
<line x1="347.18" y1="657.55" x2="351.78" y2="657.55" stroke="#555" stroke-width="1.1"/>
<rect x="358.20" y="661.23" width="17.45" height="55.17" fill="#6e6e6e" stroke="#222" stroke-width="1"/>
<line x1="366.93" y1="661.23" x2="366.93" y2="647.44" stroke="#555" stroke-width="1.1"/>
<line x1="364.62" y1="647.44" x2="369.23" y2="647.44" stroke="#555" stroke-width="1.1"/>
<rect x="375.65" y="653.41" width="17.45" height="62.99" fill="#000000" stroke="#222" stroke-width="1"/>
<line x1="384.38" y1="653.41" x2="384.38" y2="635.48" stroke="#555" stroke-width="1.1"/>
<line x1="382.07" y1="635.48" x2="386.68" y2="635.48" stroke="#555" stroke-width="1.1"/>
<rect x="418.50" y="653.87" width="17.45" height="62.53" fill="#ffffff" stroke="#222" stroke-width="1"/>
<line x1="427.23" y1="653.87" x2="427.23" y2="621.69" stroke="#555" stroke-width="1.1"/>
<line x1="424.93" y1="621.69" x2="429.53" y2="621.69" stroke="#555" stroke-width="1.1"/>
<rect x="435.95" y="652.95" width="17.45" height="63.45" fill="#b8b8b8" stroke="#222" stroke-width="1"/>
<line x1="444.68" y1="652.95" x2="444.68" y2="645.60" stroke="#555" stroke-width="1.1"/>
<line x1="442.38" y1="645.60" x2="446.98" y2="645.60" stroke="#555" stroke-width="1.1"/>
<rect x="453.40" y="640.08" width="17.45" height="76.32" fill="#6e6e6e" stroke="#222" stroke-width="1"/>
<line x1="462.12" y1="640.08" x2="462.12" y2="635.48" stroke="#555" stroke-width="1.1"/>
<line x1="459.82" y1="635.48" x2="464.43" y2="635.48" stroke="#555" stroke-width="1.1"/>
<rect x="470.85" y="567.44" width="17.45" height="148.96" fill="#000000" stroke="#222" stroke-width="1"/>
<line x1="479.58" y1="567.44" x2="479.58" y2="541.69" stroke="#555" stroke-width="1.1"/>
<line x1="477.28" y1="541.69" x2="481.88" y2="541.69" stroke="#555" stroke-width="1.1"/>
<rect x="141.5" y="526.5" width="17.5" height="17.2" fill="#ffffff" stroke="#333" stroke-width="1"/>
<text x="168.31" y="541.40" font-size="20.0" font-weight="normal" stroke="#000" stroke-width="0.42">0</text>
<rect x="141.0" y="558.2" width="17.5" height="17.2" fill="#b8b8b8" stroke="#333" stroke-width="1"/>
<text x="162.41" y="572.60" font-size="19.8" font-weight="normal" stroke="#000" stroke-width="0.42">TNF</text>
<rect x="231.5" y="526.5" width="17.5" height="17.2" fill="#6e6e6e" stroke="#333" stroke-width="1"/>
<text x="263.20" y="541.80" font-size="20.6" font-weight="normal" stroke="#000" stroke-width="0.42">fMLP</text>
<rect x="231.5" y="557.9" width="17.5" height="17.2" fill="#000000" stroke="#333" stroke-width="1"/>
<text x="260.20" y="572.80" font-size="20.6" font-weight="normal" stroke="#000" stroke-width="0.42">TNF/fMLP</text>
<text x="13.96" y="739.30" font-size="20.9" font-weight="normal" stroke="#000" stroke-width="0.42">whole blood</text>
<text x="143.88" y="740.20" font-size="21.6" font-weight="normal" stroke="#000" stroke-width="0.42">EDTA</text>
<text x="231.79" y="739.20" font-size="21.5" font-weight="normal" stroke="#000" stroke-width="0.42">EGTA</text>
<text x="305.01" y="739.20" font-size="21.3" font-weight="normal" stroke="#000" stroke-width="0.42">EGTA/Mg</text>
<text x="397.52" y="733.60" font-size="12.5" font-weight="normal" stroke="#000" stroke-width="0.3">++</text>
<text x="418.09" y="739.30" font-size="21.5" font-weight="normal" stroke="#000" stroke-width="0.42">Lepirudin</text>
</svg></body></html>
